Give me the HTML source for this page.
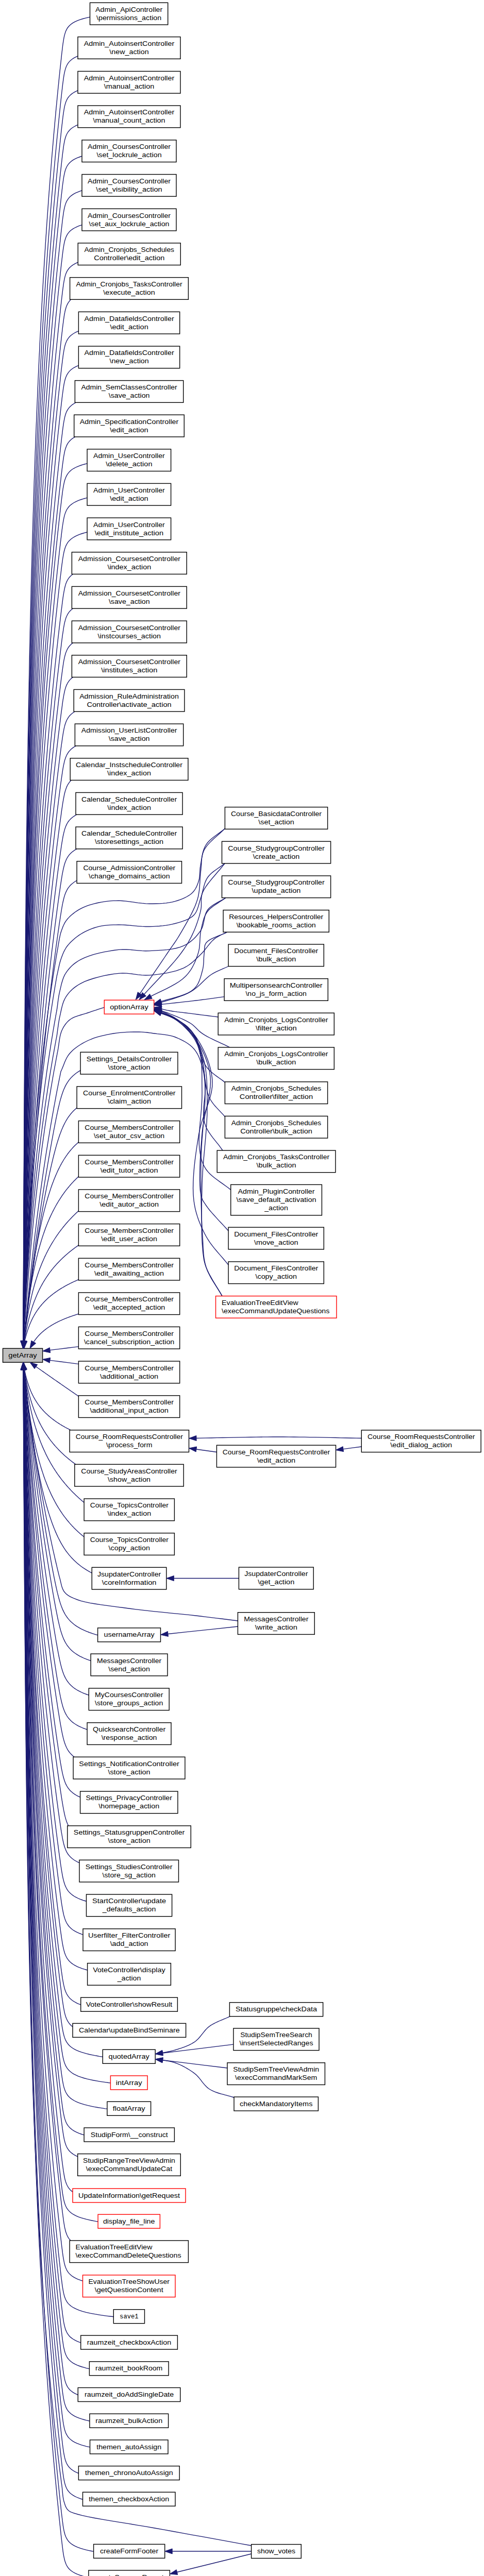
<!DOCTYPE html><html><head><meta charset="utf-8"><style>html,body{margin:0;padding:0;background:#fff;}svg{display:block}text{font-family:"Liberation Sans",sans-serif;font-size:13.5px;fill:#000}text.m{font-family:"Liberation Mono",monospace}</style></head><body>
<svg width="939" height="5021" viewBox="0 0 939 5021">
<rect width="939" height="5021" fill="#fff"/>
<g fill="none" stroke="#191970" stroke-width="1.35">
<path d="M174.5,33.2 L173.2,33.4 L170.0,34.1 L165.7,35.2 L160.6,36.5 L155.3,38.2 L150.0,40.2 L145.1,42.4 L140.7,44.9 L136.9,47.7 L133.8,50.7 L131.1,54.0 L129.0,57.6 L127.3,61.3 L126.0,65.4 L124.8,69.6 L123.9,74.1 L123.1,78.8 L122.3,83.8 L121.6,89.0 L121.0,94.4 L120.3,100.0 L119.6,105.8 L119.0,111.9 L118.3,118.1 L117.6,124.6 L116.9,131.3 L116.1,138.2 L115.4,145.3 L114.6,152.6 L113.9,160.1 L113.1,167.8 L112.3,175.8 L111.5,183.9 L110.7,192.2 L109.9,200.7 L109.0,209.4 L108.2,218.4 L107.4,227.5 L106.5,236.8 L105.7,246.3 L104.8,255.9 L103.9,265.8 L103.1,275.9 L102.2,286.1 L101.3,296.6 L100.4,307.2 L99.5,318.0 L98.7,329.0 L97.8,340.2 L96.9,351.6 L96.0,363.2 L95.1,374.9 L94.2,386.8 L93.4,398.9 L92.5,411.2 L91.6,423.7 L90.7,436.3 L89.9,449.1 L89.0,462.1 L88.1,475.3 L87.3,488.7 L86.4,502.2 L85.6,515.9 L84.8,529.8 L83.9,543.8 L83.1,558.1 L82.3,572.5 L81.5,587.0 L80.7,601.8 L79.9,616.7 L79.1,631.8 L78.3,647.1 L77.5,662.5 L76.8,678.1 L76.0,693.9 L75.3,709.8 L74.5,725.9 L73.8,742.2 L73.1,758.6 L72.4,775.3 L71.7,792.0 L71.0,809.0 L70.3,826.1 L69.6,843.4 L69.0,860.8 L68.3,878.4 L67.7,896.2 L67.1,914.1 L66.4,932.2 L65.8,950.5 L65.2,968.9 L64.7,987.5 L64.1,1006.3 L63.5,1025.2 L63.0,1044.3 L62.4,1063.5 L61.9,1082.9 L61.4,1102.5 L60.8,1122.2 L60.3,1142.1 L59.8,1162.1 L59.4,1182.3 L58.9,1202.7 L58.4,1223.2 L58.0,1243.9 L57.5,1264.7 L57.1,1285.7 L56.7,1306.8 L56.3,1328.1 L55.9,1349.6 L55.5,1371.2 L55.1,1393.0 L54.7,1414.9 L54.3,1437.0 L54.0,1459.3 L53.6,1481.7 L53.3,1504.2 L53.0,1526.9 L52.6,1549.8 L52.3,1572.8 L52.0,1596.0 L51.7,1619.3 L51.4,1642.8 L51.1,1666.4 L50.9,1690.2 L50.6,1714.2 L50.3,1738.2 L50.1,1762.5 L49.8,1786.9 L49.6,1811.4 L49.4,1836.1 L49.1,1861.0 L48.9,1886.0 L48.7,1911.1 L48.5,1936.4 L48.3,1961.9 L48.1,1987.5 L47.9,2013.2 L47.7,2039.1 L47.5,2065.2 L47.4,2091.4 L47.2,2117.7 L47.0,2144.2 L46.9,2170.9 L46.7,2197.7 L46.6,2224.6 L46.5,2251.7 L46.3,2279.0 L46.2,2306.3 L46.1,2333.9 L45.9,2361.6 L45.8,2389.4 L45.7,2417.4 L45.6,2445.5 L45.5,2473.8 L45.4,2502.2 L45.3,2530.7 L45.2,2559.4 L45.1,2588.3 L45.0,2602.8"/>
<path d="M151.0,108.9 L150.3,109.2 L148.8,109.9 L146.6,110.9 L144.1,112.2 L141.4,113.8 L138.8,115.8 L136.2,117.9 L133.9,120.4 L131.8,123.1 L130.1,126.0 L128.5,129.2 L127.3,132.6 L126.2,136.3 L125.3,140.2 L124.4,144.3 L123.7,148.7 L123.0,153.3 L122.4,158.1 L121.7,163.1 L121.1,168.4 L120.5,173.8 L119.8,179.5 L119.2,185.3 L118.5,191.4 L117.8,197.7 L117.1,204.2 L116.4,210.9 L115.7,217.8 L115.0,224.9 L114.2,232.2 L113.5,239.7 L112.7,247.4 L111.9,255.3 L111.1,263.3 L110.3,271.6 L109.5,280.1 L108.7,288.7 L107.8,297.6 L107.0,306.6 L106.2,315.8 L105.3,325.2 L104.5,334.8 L103.6,344.6 L102.7,354.5 L101.9,364.7 L101.0,375.0 L100.1,385.5 L99.3,396.2 L98.4,407.0 L97.5,418.1 L96.7,429.3 L95.8,440.7 L94.9,452.2 L94.0,464.0 L93.2,475.9 L92.3,488.0 L91.4,500.3 L90.6,512.7 L89.7,525.3 L88.9,538.1 L88.0,551.1 L87.2,564.2 L86.3,577.5 L85.5,591.0 L84.7,604.6 L83.9,618.5 L83.0,632.4 L82.2,646.6 L81.4,660.9 L80.6,675.4 L79.9,690.0 L79.1,704.8 L78.3,719.8 L77.5,735.0 L76.8,750.3 L76.0,765.8 L75.3,781.4 L74.6,797.2 L73.8,813.2 L73.1,829.3 L72.4,845.6 L71.7,862.0 L71.1,878.6 L70.4,895.4 L69.7,912.3 L69.1,929.4 L68.4,946.7 L67.8,964.1 L67.2,981.7 L66.6,999.4 L66.0,1017.3 L65.4,1035.3 L64.8,1053.5 L64.2,1071.9 L63.6,1090.4 L63.1,1109.1 L62.5,1127.9 L62.0,1146.9 L61.5,1166.0 L61.0,1185.3 L60.5,1204.8 L60.0,1224.4 L59.5,1244.2 L59.0,1264.1 L58.6,1284.2 L58.1,1304.4 L57.7,1324.8 L57.2,1345.3 L56.8,1366.0 L56.4,1386.8 L56.0,1407.8 L55.6,1428.9 L55.2,1450.2 L54.8,1471.7 L54.4,1493.2 L54.1,1515.0 L53.7,1536.9 L53.4,1558.9 L53.1,1581.1 L52.7,1603.5 L52.4,1626.0 L52.1,1648.6 L51.8,1671.4 L51.5,1694.3 L51.2,1717.4 L50.9,1740.6 L50.7,1764.0 L50.4,1787.6 L50.1,1811.2 L49.9,1835.1 L49.6,1859.0 L49.4,1883.2 L49.2,1907.4 L48.9,1931.8 L48.7,1956.4 L48.5,1981.1 L48.3,2006.0 L48.1,2031.0 L47.9,2056.1 L47.7,2081.4 L47.5,2106.8 L47.4,2132.4 L47.2,2158.1 L47.0,2184.0 L46.9,2210.0 L46.7,2236.1 L46.6,2262.4 L46.4,2288.9 L46.3,2315.5 L46.1,2342.2 L46.0,2369.1 L45.9,2396.1 L45.8,2423.2 L45.6,2450.5 L45.5,2478.0 L45.4,2505.6 L45.3,2533.3 L45.2,2561.1 L45.1,2589.2 L45.1,2602.8"/>
<path d="M151.0,175.8 L150.4,176.0 L148.9,176.7 L146.8,177.7 L144.3,178.9 L141.7,180.5 L139.0,182.4 L136.5,184.5 L134.2,186.9 L132.1,189.5 L130.3,192.4 L128.8,195.5 L127.5,198.8 L126.4,202.4 L125.4,206.2 L124.6,210.2 L123.9,214.4 L123.2,218.9 L122.5,223.6 L121.9,228.5 L121.3,233.6 L120.7,238.9 L120.0,244.4 L119.4,250.1 L118.7,256.0 L118.1,262.2 L117.4,268.5 L116.7,275.0 L116.0,281.7 L115.3,288.6 L114.5,295.7 L113.8,303.0 L113.0,310.5 L112.2,318.2 L111.5,326.0 L110.7,334.1 L109.9,342.3 L109.1,350.7 L108.2,359.3 L107.4,368.1 L106.6,377.1 L105.8,386.3 L104.9,395.6 L104.1,405.1 L103.2,414.8 L102.4,424.7 L101.5,434.7 L100.7,444.9 L99.8,455.3 L98.9,465.9 L98.1,476.6 L97.2,487.5 L96.4,498.6 L95.5,509.9 L94.6,521.3 L93.8,532.9 L92.9,544.7 L92.1,556.7 L91.2,568.8 L90.4,581.1 L89.5,593.5 L88.7,606.1 L87.8,618.9 L87.0,631.9 L86.2,645.0 L85.4,658.2 L84.5,671.7 L83.7,685.3 L82.9,699.1 L82.1,713.0 L81.3,727.1 L80.5,741.4 L79.8,755.8 L79.0,770.4 L78.2,785.1 L77.5,800.0 L76.7,815.1 L76.0,830.3 L75.3,845.7 L74.5,861.2 L73.8,876.9 L73.1,892.8 L72.4,908.8 L71.7,924.9 L71.1,941.3 L70.4,957.7 L69.7,974.4 L69.1,991.2 L68.5,1008.1 L67.8,1025.2 L67.2,1042.5 L66.6,1059.9 L66.0,1077.5 L65.4,1095.2 L64.8,1113.1 L64.3,1131.1 L63.7,1149.3 L63.1,1167.6 L62.6,1186.1 L62.1,1204.7 L61.5,1223.5 L61.0,1242.4 L60.5,1261.5 L60.0,1280.7 L59.6,1300.1 L59.1,1319.7 L58.6,1339.3 L58.2,1359.2 L57.7,1379.2 L57.3,1399.3 L56.9,1419.6 L56.5,1440.0 L56.0,1460.6 L55.6,1481.3 L55.3,1502.2 L54.9,1523.2 L54.5,1544.3 L54.1,1565.7 L53.8,1587.1 L53.4,1608.7 L53.1,1630.5 L52.8,1652.4 L52.4,1674.4 L52.1,1696.6 L51.8,1718.9 L51.5,1741.4 L51.2,1764.0 L51.0,1786.8 L50.7,1809.7 L50.4,1832.7 L50.1,1855.9 L49.9,1879.2 L49.6,1902.7 L49.4,1926.3 L49.2,1950.1 L48.9,1974.0 L48.7,1998.0 L48.5,2022.2 L48.3,2046.6 L48.1,2071.0 L47.9,2095.7 L47.7,2120.4 L47.5,2145.3 L47.3,2170.3 L47.2,2195.5 L47.0,2220.8 L46.8,2246.3 L46.7,2271.9 L46.5,2297.6 L46.4,2323.5 L46.2,2349.5 L46.1,2375.7 L45.9,2402.0 L45.8,2428.4 L45.7,2455.0 L45.6,2481.7 L45.4,2508.5 L45.3,2535.5 L45.2,2562.6 L45.1,2589.9 L45.1,2602.8"/>
<path d="M151.0,242.3 L150.4,242.6 L148.9,243.2 L146.9,244.2 L144.5,245.5 L141.9,247.0 L139.3,248.8 L136.8,250.8 L134.5,253.2 L132.4,255.7 L130.6,258.5 L129.0,261.5 L127.7,264.8 L126.6,268.3 L125.6,271.9 L124.8,275.9 L124.0,280.0 L123.3,284.3 L122.7,288.9 L122.1,293.6 L121.4,298.6 L120.8,303.8 L120.2,309.1 L119.6,314.7 L118.9,320.4 L118.3,326.4 L117.6,332.5 L116.9,338.9 L116.2,345.4 L115.5,352.1 L114.8,359.0 L114.1,366.1 L113.3,373.4 L112.6,380.9 L111.8,388.5 L111.0,396.4 L110.3,404.4 L109.5,412.6 L108.7,420.9 L107.9,429.5 L107.0,438.2 L106.2,447.1 L105.4,456.2 L104.6,465.4 L103.7,474.9 L102.9,484.5 L102.0,494.2 L101.2,504.2 L100.4,514.3 L99.5,524.6 L98.7,535.0 L97.8,545.6 L96.9,556.4 L96.1,567.4 L95.2,578.5 L94.4,589.8 L93.5,601.3 L92.7,612.9 L91.9,624.7 L91.0,636.6 L90.2,648.7 L89.3,661.0 L88.5,673.4 L87.7,686.0 L86.9,698.8 L86.0,711.7 L85.2,724.8 L84.4,738.0 L83.6,751.4 L82.8,764.9 L82.0,778.7 L81.2,792.5 L80.5,806.6 L79.7,820.7 L78.9,835.1 L78.2,849.6 L77.4,864.2 L76.7,879.0 L76.0,894.0 L75.2,909.1 L74.5,924.4 L73.8,939.8 L73.1,955.4 L72.4,971.1 L71.8,987.0 L71.1,1003.0 L70.4,1019.2 L69.8,1035.5 L69.1,1052.0 L68.5,1068.7 L67.9,1085.4 L67.3,1102.4 L66.6,1119.5 L66.0,1136.7 L65.5,1154.1 L64.9,1171.6 L64.3,1189.3 L63.8,1207.1 L63.2,1225.1 L62.7,1243.2 L62.1,1261.5 L61.6,1279.9 L61.1,1298.5 L60.6,1317.2 L60.1,1336.1 L59.6,1355.1 L59.2,1374.2 L58.7,1393.5 L58.2,1412.9 L57.8,1432.5 L57.4,1452.2 L56.9,1472.1 L56.5,1492.1 L56.1,1512.3 L55.7,1532.6 L55.3,1553.0 L54.9,1573.6 L54.6,1594.3 L54.2,1615.2 L53.8,1636.2 L53.5,1657.4 L53.1,1678.7 L52.8,1700.1 L52.5,1721.7 L52.2,1743.4 L51.9,1765.3 L51.6,1787.3 L51.3,1809.4 L51.0,1831.7 L50.7,1854.1 L50.4,1876.7 L50.2,1899.4 L49.9,1922.2 L49.7,1945.2 L49.4,1968.3 L49.2,1991.5 L48.9,2014.9 L48.7,2038.5 L48.5,2062.1 L48.3,2085.9 L48.1,2109.9 L47.9,2134.0 L47.7,2158.2 L47.5,2182.5 L47.3,2207.0 L47.1,2231.7 L46.9,2256.4 L46.8,2281.3 L46.6,2306.3 L46.5,2331.5 L46.3,2356.8 L46.2,2382.3 L46.0,2407.8 L45.9,2433.6 L45.7,2459.4 L45.6,2485.4 L45.5,2511.5 L45.3,2537.7 L45.2,2564.1 L45.1,2590.6 L45.1,2602.8"/>
<path d="M159.0,303.2 L158.2,303.4 L156.3,304.0 L153.7,305.0 L150.5,306.2 L147.2,307.7 L143.8,309.4 L140.5,311.4 L137.5,313.7 L134.8,316.2 L132.5,318.9 L130.5,321.8 L128.8,325.0 L127.4,328.4 L126.2,332.0 L125.3,335.8 L124.4,339.8 L123.6,344.1 L122.9,348.5 L122.3,353.1 L121.6,358.0 L121.0,363.0 L120.4,368.2 L119.8,373.6 L119.1,379.2 L118.5,385.0 L117.8,391.0 L117.2,397.2 L116.5,403.6 L115.8,410.1 L115.1,416.9 L114.4,423.8 L113.6,430.9 L112.9,438.1 L112.1,445.6 L111.4,453.2 L110.6,461.0 L109.8,469.0 L109.0,477.2 L108.2,485.5 L107.4,494.0 L106.6,502.7 L105.8,511.5 L105.0,520.5 L104.2,529.7 L103.3,539.1 L102.5,548.6 L101.7,558.3 L100.8,568.1 L100.0,578.1 L99.2,588.3 L98.3,598.7 L97.5,609.2 L96.6,619.9 L95.8,630.7 L95.0,641.7 L94.1,652.9 L93.3,664.2 L92.4,675.7 L91.6,687.3 L90.8,699.1 L89.9,711.1 L89.1,723.2 L88.3,735.5 L87.5,747.9 L86.7,760.5 L85.9,773.2 L85.1,786.1 L84.3,799.2 L83.5,812.4 L82.7,825.7 L81.9,839.2 L81.1,852.9 L80.4,866.7 L79.6,880.7 L78.8,894.8 L78.1,909.1 L77.4,923.5 L76.6,938.1 L75.9,952.8 L75.2,967.7 L74.5,982.7 L73.8,997.9 L73.1,1013.2 L72.4,1028.7 L71.7,1044.3 L71.1,1060.1 L70.4,1076.0 L69.8,1092.1 L69.1,1108.3 L68.5,1124.7 L67.9,1141.2 L67.3,1157.8 L66.7,1174.6 L66.1,1191.5 L65.5,1208.6 L64.9,1225.9 L64.3,1243.2 L63.8,1260.7 L63.2,1278.4 L62.7,1296.2 L62.2,1314.2 L61.6,1332.2 L61.1,1350.5 L60.6,1368.9 L60.1,1387.4 L59.7,1406.0 L59.2,1424.8 L58.7,1443.8 L58.3,1462.8 L57.8,1482.1 L57.4,1501.4 L57.0,1520.9 L56.5,1540.6 L56.1,1560.3 L55.7,1580.3 L55.3,1600.3 L55.0,1620.5 L54.6,1640.9 L54.2,1661.3 L53.9,1682.0 L53.5,1702.7 L53.2,1723.6 L52.8,1744.6 L52.5,1765.8 L52.2,1787.1 L51.9,1808.5 L51.6,1830.1 L51.3,1851.8 L51.0,1873.6 L50.7,1895.6 L50.4,1917.7 L50.2,1940.0 L49.9,1962.4 L49.6,1984.9 L49.4,2007.6 L49.1,2030.4 L48.9,2053.3 L48.7,2076.4 L48.5,2099.5 L48.2,2122.9 L48.0,2146.3 L47.8,2169.9 L47.6,2193.7 L47.4,2217.5 L47.2,2241.5 L47.1,2265.7 L46.9,2289.9 L46.7,2314.3 L46.5,2338.8 L46.4,2363.5 L46.2,2388.3 L46.1,2413.2 L45.9,2438.3 L45.8,2463.4 L45.6,2488.8 L45.5,2514.2 L45.4,2539.8 L45.2,2565.5 L45.1,2591.3 L45.1,2602.8"/>
<path d="M159.0,369.9 L158.2,370.1 L156.4,370.7 L153.8,371.6 L150.8,372.8 L147.5,374.2 L144.1,375.9 L140.9,377.9 L137.9,380.1 L135.2,382.5 L132.9,385.1 L130.9,388.0 L129.1,391.1 L127.7,394.4 L126.5,397.9 L125.5,401.6 L124.6,405.5 L123.8,409.6 L123.1,413.9 L122.5,418.4 L121.8,423.1 L121.2,428.0 L120.6,433.0 L120.0,438.3 L119.4,443.8 L118.7,449.4 L118.1,455.2 L117.4,461.2 L116.8,467.4 L116.1,473.7 L115.4,480.3 L114.7,487.0 L114.0,493.9 L113.2,500.9 L112.5,508.2 L111.7,515.6 L111.0,523.2 L110.2,530.9 L109.4,538.8 L108.7,546.9 L107.9,555.2 L107.1,563.6 L106.3,572.2 L105.5,581.0 L104.7,589.9 L103.9,599.0 L103.0,608.2 L102.2,617.6 L101.4,627.2 L100.6,636.9 L99.7,646.8 L98.9,656.9 L98.1,667.1 L97.2,677.4 L96.4,688.0 L95.6,698.6 L94.8,709.5 L93.9,720.5 L93.1,731.6 L92.3,742.9 L91.4,754.4 L90.6,766.0 L89.8,777.8 L89.0,789.7 L88.2,801.8 L87.4,814.0 L86.6,826.4 L85.8,838.9 L85.0,851.6 L84.2,864.4 L83.4,877.4 L82.6,890.5 L81.8,903.8 L81.1,917.2 L80.3,930.8 L79.6,944.5 L78.8,958.3 L78.1,972.4 L77.4,986.5 L76.6,1000.8 L75.9,1015.3 L75.2,1029.9 L74.5,1044.6 L73.8,1059.5 L73.1,1074.5 L72.4,1089.7 L71.8,1105.0 L71.1,1120.5 L70.5,1136.1 L69.8,1151.8 L69.2,1167.7 L68.6,1183.7 L67.9,1199.9 L67.3,1216.2 L66.7,1232.6 L66.1,1249.2 L65.6,1266.0 L65.0,1282.8 L64.4,1299.8 L63.9,1317.0 L63.3,1334.3 L62.8,1351.7 L62.3,1369.3 L61.7,1387.0 L61.2,1404.8 L60.7,1422.8 L60.2,1440.9 L59.8,1459.2 L59.3,1477.6 L58.8,1496.1 L58.4,1514.8 L57.9,1533.6 L57.5,1552.5 L57.0,1571.6 L56.6,1590.8 L56.2,1610.2 L55.8,1629.6 L55.4,1649.3 L55.0,1669.0 L54.7,1688.9 L54.3,1708.9 L53.9,1729.1 L53.6,1749.4 L53.2,1769.8 L52.9,1790.3 L52.5,1811.0 L52.2,1831.8 L51.9,1852.8 L51.6,1873.9 L51.3,1895.1 L51.0,1916.4 L50.7,1937.9 L50.4,1959.5 L50.2,1981.3 L49.9,2003.1 L49.6,2025.1 L49.4,2047.3 L49.1,2069.5 L48.9,2091.9 L48.7,2114.5 L48.4,2137.1 L48.2,2159.9 L48.0,2182.8 L47.8,2205.9 L47.6,2229.1 L47.4,2252.4 L47.2,2275.8 L47.0,2299.4 L46.8,2323.0 L46.6,2346.9 L46.5,2370.8 L46.3,2394.9 L46.1,2419.1 L46.0,2443.4 L45.8,2467.9 L45.7,2492.5 L45.5,2517.2 L45.4,2542.0 L45.3,2567.0 L45.1,2592.1 L45.1,2602.8"/>
<path d="M159.0,436.6 L158.3,436.8 L156.5,437.4 L154.0,438.2 L151.0,439.4 L147.8,440.8 L144.5,442.5 L141.3,444.4 L138.3,446.5 L135.6,448.8 L133.3,451.4 L131.2,454.2 L129.5,457.1 L128.0,460.3 L126.8,463.7 L125.7,467.3 L124.8,471.1 L124.0,475.1 L123.3,479.3 L122.6,483.6 L122.0,488.2 L121.4,492.9 L120.8,497.9 L120.2,503.0 L119.6,508.3 L118.9,513.7 L118.3,519.4 L117.7,525.2 L117.0,531.2 L116.4,537.4 L115.7,543.7 L115.0,550.2 L114.3,556.9 L113.6,563.8 L112.8,570.8 L112.1,578.0 L111.4,585.3 L110.6,592.8 L109.9,600.5 L109.1,608.4 L108.3,616.4 L107.5,624.6 L106.8,632.9 L106.0,641.4 L105.2,650.1 L104.4,658.9 L103.6,667.8 L102.8,677.0 L101.9,686.3 L101.1,695.7 L100.3,705.3 L99.5,715.0 L98.7,725.0 L97.9,735.0 L97.0,745.2 L96.2,755.6 L95.4,766.1 L94.6,776.8 L93.7,787.6 L92.9,798.6 L92.1,809.7 L91.3,821.0 L90.5,832.4 L89.7,843.9 L88.9,855.6 L88.1,867.5 L87.3,879.5 L86.5,891.7 L85.7,904.0 L84.9,916.4 L84.1,929.0 L83.4,941.7 L82.6,954.6 L81.8,967.6 L81.1,980.8 L80.3,994.1 L79.6,1007.6 L78.8,1021.2 L78.1,1034.9 L77.4,1048.8 L76.6,1062.8 L75.9,1077.0 L75.2,1091.3 L74.5,1105.7 L73.8,1120.3 L73.2,1135.0 L72.5,1149.9 L71.8,1164.9 L71.2,1180.0 L70.5,1195.3 L69.9,1210.7 L69.3,1226.3 L68.6,1241.9 L68.0,1257.8 L67.4,1273.7 L66.8,1289.8 L66.2,1306.1 L65.6,1322.4 L65.1,1338.9 L64.5,1355.6 L64.0,1372.4 L63.4,1389.3 L62.9,1406.3 L62.4,1423.5 L61.8,1440.8 L61.3,1458.3 L60.8,1475.8 L60.3,1493.6 L59.9,1511.4 L59.4,1529.4 L58.9,1547.5 L58.5,1565.8 L58.0,1584.1 L57.6,1602.6 L57.1,1621.3 L56.7,1640.0 L56.3,1659.0 L55.9,1678.0 L55.5,1697.2 L55.1,1716.4 L54.7,1735.9 L54.3,1755.4 L54.0,1775.1 L53.6,1794.9 L53.3,1814.9 L52.9,1834.9 L52.6,1855.1 L52.3,1875.5 L51.9,1895.9 L51.6,1916.5 L51.3,1937.2 L51.0,1958.1 L50.7,1979.0 L50.5,2000.1 L50.2,2021.4 L49.9,2042.7 L49.6,2064.2 L49.4,2085.8 L49.1,2107.5 L48.9,2129.4 L48.6,2151.4 L48.4,2173.5 L48.2,2195.7 L48.0,2218.1 L47.7,2240.6 L47.5,2263.2 L47.3,2285.9 L47.1,2308.8 L46.9,2331.8 L46.8,2354.9 L46.6,2378.1 L46.4,2401.5 L46.2,2425.0 L46.1,2448.6 L45.9,2472.3 L45.7,2496.2 L45.6,2520.1 L45.4,2544.3 L45.3,2568.5 L45.1,2592.8 L45.1,2602.8"/>
<path d="M151.3,509.2 L150.8,509.4 L149.4,509.9 L147.6,510.8 L145.4,511.9 L143.0,513.3 L140.5,514.9 L138.1,516.7 L135.8,518.7 L133.7,521.0 L131.9,523.5 L130.2,526.2 L128.8,529.1 L127.6,532.1 L126.5,535.4 L125.6,538.9 L124.8,542.6 L124.1,546.4 L123.4,550.5 L122.8,554.7 L122.2,559.1 L121.6,563.7 L121.0,568.4 L120.4,573.4 L119.8,578.5 L119.2,583.8 L118.6,589.2 L117.9,594.8 L117.3,600.6 L116.7,606.6 L116.0,612.7 L115.3,619.0 L114.6,625.5 L113.9,632.1 L113.2,638.9 L112.5,645.9 L111.8,653.0 L111.1,660.2 L110.3,667.7 L109.6,675.3 L108.8,683.0 L108.0,690.9 L107.3,699.0 L106.5,707.2 L105.7,715.5 L104.9,724.1 L104.1,732.7 L103.3,741.6 L102.5,750.5 L101.7,759.7 L100.9,768.9 L100.1,778.4 L99.3,787.9 L98.5,797.7 L97.7,807.5 L96.9,817.6 L96.1,827.7 L95.3,838.0 L94.5,848.5 L93.7,859.1 L92.8,869.9 L92.0,880.8 L91.2,891.8 L90.4,903.0 L89.6,914.3 L88.8,925.8 L88.1,937.4 L87.3,949.1 L86.5,961.0 L85.7,973.0 L84.9,985.2 L84.2,997.5 L83.4,1010.0 L82.6,1022.6 L81.9,1035.3 L81.1,1048.2 L80.4,1061.2 L79.6,1074.3 L78.9,1087.6 L78.2,1101.0 L77.5,1114.6 L76.8,1128.2 L76.0,1142.1 L75.4,1156.0 L74.7,1170.1 L74.0,1184.4 L73.3,1198.7 L72.6,1213.2 L72.0,1227.9 L71.3,1242.6 L70.7,1257.5 L70.0,1272.6 L69.4,1287.7 L68.8,1303.0 L68.2,1318.5 L67.6,1334.0 L67.0,1349.7 L66.4,1365.5 L65.8,1381.5 L65.2,1397.6 L64.7,1413.8 L64.1,1430.2 L63.6,1446.6 L63.0,1463.2 L62.5,1480.0 L62.0,1496.9 L61.5,1513.8 L61.0,1531.0 L60.5,1548.2 L60.0,1565.6 L59.5,1583.1 L59.1,1600.8 L58.6,1618.5 L58.1,1636.4 L57.7,1654.4 L57.3,1672.6 L56.8,1690.9 L56.4,1709.3 L56.0,1727.8 L55.6,1746.4 L55.2,1765.2 L54.8,1784.1 L54.4,1803.1 L54.1,1822.3 L53.7,1841.6 L53.4,1861.0 L53.0,1880.5 L52.7,1900.2 L52.3,1919.9 L52.0,1939.8 L51.7,1959.9 L51.4,1980.0 L51.1,2000.3 L50.8,2020.7 L50.5,2041.2 L50.2,2061.8 L49.9,2082.6 L49.7,2103.5 L49.4,2124.5 L49.1,2145.6 L48.9,2166.9 L48.6,2188.3 L48.4,2209.8 L48.2,2231.4 L47.9,2253.1 L47.7,2275.0 L47.5,2297.0 L47.3,2319.1 L47.1,2341.3 L46.9,2363.6 L46.7,2386.1 L46.5,2408.7 L46.3,2431.4 L46.1,2454.2 L46.0,2477.1 L45.8,2500.2 L45.6,2523.4 L45.5,2546.7 L45.3,2570.1 L45.1,2593.6 L45.1,2602.8"/>
<path d="M137.6,581.3 L137.4,581.5 L136.8,582.1 L136.0,582.9 L135.0,584.0 L134.0,585.3 L132.9,586.8 L131.8,588.6 L130.7,590.6 L129.7,592.8 L128.7,595.1 L127.9,597.7 L127.1,600.5 L126.3,603.5 L125.7,606.7 L125.0,610.0 L124.4,613.6 L123.9,617.3 L123.3,621.2 L122.8,625.3 L122.2,629.5 L121.7,633.9 L121.1,638.5 L120.6,643.3 L120.0,648.2 L119.4,653.4 L118.8,658.6 L118.2,664.1 L117.6,669.7 L117.0,675.4 L116.3,681.3 L115.7,687.4 L115.0,693.7 L114.3,700.1 L113.6,706.6 L112.9,713.3 L112.2,720.2 L111.5,727.2 L110.8,734.4 L110.0,741.7 L109.3,749.2 L108.5,756.8 L107.8,764.6 L107.0,772.6 L106.2,780.6 L105.5,788.9 L104.7,797.2 L103.9,805.8 L103.1,814.4 L102.3,823.2 L101.6,832.2 L100.8,841.3 L100.0,850.6 L99.2,859.9 L98.4,869.5 L97.6,879.2 L96.8,889.0 L96.0,898.9 L95.2,909.0 L94.4,919.3 L93.6,929.7 L92.8,940.2 L92.0,950.8 L91.2,961.6 L90.4,972.6 L89.6,983.7 L88.8,994.9 L88.1,1006.2 L87.3,1017.7 L86.5,1029.3 L85.7,1041.1 L85.0,1053.0 L84.2,1065.0 L83.4,1077.1 L82.7,1089.4 L81.9,1101.9 L81.2,1114.4 L80.5,1127.1 L79.7,1139.9 L79.0,1152.9 L78.3,1166.0 L77.6,1179.2 L76.9,1192.6 L76.2,1206.0 L75.5,1219.7 L74.8,1233.4 L74.1,1247.3 L73.4,1261.3 L72.8,1275.4 L72.1,1289.7 L71.5,1304.1 L70.8,1318.6 L70.2,1333.2 L69.6,1348.0 L69.0,1362.9 L68.3,1377.9 L67.7,1393.1 L67.1,1408.4 L66.6,1423.8 L66.0,1439.3 L65.4,1455.0 L64.8,1470.8 L64.3,1486.7 L63.7,1502.7 L63.2,1518.9 L62.7,1535.2 L62.2,1551.6 L61.6,1568.2 L61.1,1584.8 L60.6,1601.6 L60.2,1618.5 L59.7,1635.5 L59.2,1652.7 L58.7,1670.0 L58.3,1687.4 L57.8,1704.9 L57.4,1722.6 L57.0,1740.3 L56.6,1758.2 L56.1,1776.2 L55.7,1794.4 L55.3,1812.6 L54.9,1831.0 L54.6,1849.5 L54.2,1868.1 L53.8,1886.9 L53.4,1905.7 L53.1,1924.7 L52.7,1943.8 L52.4,1963.0 L52.1,1982.4 L51.7,2001.8 L51.4,2021.4 L51.1,2041.1 L50.8,2060.9 L50.5,2080.9 L50.2,2100.9 L49.9,2121.1 L49.7,2141.4 L49.4,2161.8 L49.1,2182.3 L48.9,2202.9 L48.6,2223.7 L48.4,2244.6 L48.1,2265.6 L47.9,2286.7 L47.7,2307.9 L47.4,2329.3 L47.2,2350.7 L47.0,2372.3 L46.8,2394.0 L46.6,2415.8 L46.4,2437.7 L46.2,2459.8 L46.0,2481.9 L45.8,2504.2 L45.7,2526.6 L45.5,2549.1 L45.3,2571.7 L45.2,2594.5 L45.1,2602.8"/>
<path d="M152.4,642.6 L151.9,642.9 L150.6,643.4 L148.8,644.2 L146.6,645.2 L144.2,646.5 L141.7,648.0 L139.3,649.7 L137.0,651.6 L134.8,653.8 L132.8,656.1 L131.1,658.6 L129.6,661.3 L128.3,664.2 L127.1,667.3 L126.1,670.5 L125.3,673.9 L124.5,677.6 L123.8,681.3 L123.2,685.3 L122.5,689.4 L122.0,693.7 L121.4,698.2 L120.8,702.8 L120.2,707.6 L119.6,712.5 L119.0,717.6 L118.4,722.9 L117.8,728.3 L117.2,733.9 L116.6,739.7 L115.9,745.6 L115.3,751.6 L114.6,757.8 L113.9,764.2 L113.2,770.7 L112.5,777.4 L111.8,784.2 L111.1,791.1 L110.4,798.2 L109.7,805.5 L108.9,812.9 L108.2,820.4 L107.5,828.1 L106.7,836.0 L105.9,844.0 L105.2,852.1 L104.4,860.3 L103.6,868.8 L102.9,877.3 L102.1,886.0 L101.3,894.8 L100.5,903.8 L99.7,912.9 L98.9,922.2 L98.2,931.5 L97.4,941.1 L96.6,950.7 L95.8,960.5 L95.0,970.4 L94.2,980.5 L93.4,990.7 L92.6,1001.1 L91.8,1011.5 L91.1,1022.1 L90.3,1032.9 L89.5,1043.8 L88.7,1054.8 L88.0,1065.9 L87.2,1077.2 L86.4,1088.6 L85.7,1100.1 L84.9,1111.8 L84.1,1123.6 L83.4,1135.5 L82.6,1147.5 L81.9,1159.7 L81.2,1172.0 L80.4,1184.5 L79.7,1197.0 L79.0,1209.7 L78.3,1222.5 L77.6,1235.5 L76.9,1248.6 L76.2,1261.8 L75.5,1275.1 L74.8,1288.6 L74.1,1302.1 L73.5,1315.8 L72.8,1329.7 L72.2,1343.6 L71.5,1357.7 L70.9,1371.9 L70.3,1386.3 L69.6,1400.7 L69.0,1415.3 L68.4,1430.0 L67.8,1444.8 L67.2,1459.8 L66.6,1474.8 L66.0,1490.0 L65.5,1505.3 L64.9,1520.8 L64.4,1536.3 L63.8,1552.0 L63.3,1567.8 L62.8,1583.7 L62.2,1599.8 L61.7,1615.9 L61.2,1632.2 L60.7,1648.6 L60.2,1665.1 L59.7,1681.8 L59.3,1698.5 L58.8,1715.4 L58.3,1732.4 L57.9,1749.5 L57.5,1766.8 L57.0,1784.1 L56.6,1801.6 L56.2,1819.2 L55.8,1836.9 L55.4,1854.7 L55.0,1872.6 L54.6,1890.7 L54.2,1908.9 L53.8,1927.2 L53.5,1945.6 L53.1,1964.1 L52.8,1982.7 L52.4,2001.5 L52.1,2020.4 L51.7,2039.4 L51.4,2058.5 L51.1,2077.7 L50.8,2097.0 L50.5,2116.5 L50.2,2136.0 L49.9,2155.7 L49.6,2175.5 L49.3,2195.4 L49.1,2215.4 L48.8,2235.6 L48.6,2255.8 L48.3,2276.2 L48.1,2296.7 L47.8,2317.2 L47.6,2337.9 L47.3,2358.8 L47.1,2379.7 L46.9,2400.7 L46.7,2421.9 L46.5,2443.1 L46.3,2464.5 L46.1,2486.0 L45.9,2507.6 L45.7,2529.3 L45.5,2551.2 L45.3,2573.1 L45.2,2595.1 L45.1,2602.8"/>
<path d="M152.4,709.4 L151.9,709.6 L150.7,710.1 L148.9,710.8 L146.8,711.8 L144.5,713.1 L142.0,714.5 L139.6,716.2 L137.3,718.0 L135.2,720.1 L133.2,722.3 L131.5,724.8 L129.9,727.4 L128.6,730.2 L127.4,733.1 L126.4,736.3 L125.5,739.6 L124.7,743.1 L124.0,746.7 L123.4,750.6 L122.7,754.5 L122.2,758.7 L121.6,763.0 L121.0,767.5 L120.4,772.1 L119.9,776.9 L119.3,781.8 L118.7,786.9 L118.1,792.2 L117.5,797.5 L116.9,803.1 L116.2,808.8 L115.6,814.6 L114.9,820.6 L114.3,826.8 L113.6,833.1 L112.9,839.5 L112.2,846.1 L111.5,852.8 L110.8,859.7 L110.1,866.7 L109.4,873.8 L108.7,881.1 L107.9,888.6 L107.2,896.1 L106.5,903.9 L105.7,911.7 L104.9,919.7 L104.2,927.8 L103.4,936.1 L102.7,944.5 L101.9,953.0 L101.1,961.7 L100.3,970.5 L99.6,979.4 L98.8,988.5 L98.0,997.7 L97.2,1007.0 L96.5,1016.5 L95.7,1026.1 L94.9,1035.8 L94.1,1045.7 L93.3,1055.7 L92.6,1065.8 L91.8,1076.0 L91.0,1086.4 L90.2,1096.9 L89.5,1107.5 L88.7,1118.3 L87.9,1129.2 L87.2,1140.2 L86.4,1151.3 L85.7,1162.6 L84.9,1174.0 L84.2,1185.5 L83.4,1197.2 L82.7,1208.9 L82.0,1220.8 L81.2,1232.9 L80.5,1245.0 L79.8,1257.3 L79.1,1269.7 L78.4,1282.2 L77.7,1294.8 L77.0,1307.6 L76.3,1320.4 L75.6,1333.4 L74.9,1346.6 L74.3,1359.8 L73.6,1373.2 L72.9,1386.7 L72.3,1400.3 L71.6,1414.0 L71.0,1427.8 L70.4,1441.8 L69.8,1455.9 L69.1,1470.1 L68.5,1484.4 L67.9,1498.9 L67.3,1513.4 L66.8,1528.1 L66.2,1542.9 L65.6,1557.8 L65.1,1572.8 L64.5,1588.0 L64.0,1603.3 L63.4,1618.6 L62.9,1634.1 L62.4,1649.8 L61.8,1665.5 L61.3,1681.3 L60.8,1697.3 L60.3,1713.4 L59.9,1729.6 L59.4,1745.9 L58.9,1762.3 L58.5,1778.8 L58.0,1795.5 L57.6,1812.3 L57.1,1829.1 L56.7,1846.1 L56.3,1863.2 L55.9,1880.5 L55.4,1897.8 L55.0,1915.2 L54.7,1932.8 L54.3,1950.5 L53.9,1968.3 L53.5,1986.2 L53.2,2004.2 L52.8,2022.3 L52.4,2040.5 L52.1,2058.9 L51.8,2077.3 L51.4,2095.9 L51.1,2114.6 L50.8,2133.4 L50.5,2152.3 L50.2,2171.3 L49.9,2190.4 L49.6,2209.7 L49.3,2229.0 L49.0,2248.5 L48.8,2268.0 L48.5,2287.7 L48.2,2307.5 L48.0,2327.4 L47.7,2347.4 L47.5,2367.5 L47.3,2387.7 L47.0,2408.0 L46.8,2428.5 L46.6,2449.0 L46.4,2469.7 L46.2,2490.5 L46.0,2511.3 L45.8,2532.3 L45.6,2553.4 L45.4,2574.6 L45.2,2595.9 L45.1,2602.8"/>
<path d="M147.4,781.3 L147.0,781.5 L146.1,782.0 L144.7,782.7 L143.1,783.7 L141.2,784.9 L139.3,786.3 L137.4,787.9 L135.5,789.7 L133.8,791.6 L132.2,793.8 L130.7,796.1 L129.4,798.6 L128.2,801.3 L127.2,804.2 L126.3,807.2 L125.5,810.4 L124.8,813.8 L124.1,817.3 L123.5,820.9 L122.9,824.8 L122.3,828.8 L121.8,832.9 L121.2,837.2 L120.7,841.7 L120.1,846.3 L119.5,851.0 L119.0,855.9 L118.4,861.0 L117.8,866.2 L117.2,871.5 L116.6,877.0 L115.9,882.6 L115.3,888.4 L114.7,894.3 L114.0,900.4 L113.3,906.6 L112.7,912.9 L112.0,919.4 L111.3,926.0 L110.6,932.7 L109.9,939.6 L109.2,946.6 L108.5,953.8 L107.7,961.1 L107.0,968.5 L106.3,976.0 L105.5,983.7 L104.8,991.5 L104.0,999.5 L103.3,1007.6 L102.5,1015.8 L101.8,1024.1 L101.0,1032.6 L100.2,1041.2 L99.5,1049.9 L98.7,1058.8 L97.9,1067.7 L97.2,1076.8 L96.4,1086.1 L95.6,1095.4 L94.9,1104.9 L94.1,1114.5 L93.3,1124.3 L92.6,1134.1 L91.8,1144.1 L91.0,1154.2 L90.3,1164.5 L89.5,1174.8 L88.8,1185.3 L88.0,1195.9 L87.2,1206.6 L86.5,1217.5 L85.8,1228.4 L85.0,1239.5 L84.3,1250.7 L83.5,1262.1 L82.8,1273.5 L82.1,1285.1 L81.4,1296.7 L80.6,1308.6 L79.9,1320.5 L79.2,1332.5 L78.5,1344.7 L77.8,1357.0 L77.1,1369.3 L76.5,1381.9 L75.8,1394.5 L75.1,1407.2 L74.4,1420.1 L73.8,1433.1 L73.1,1446.2 L72.5,1459.4 L71.8,1472.7 L71.2,1486.1 L70.6,1499.7 L70.0,1513.4 L69.3,1527.1 L68.7,1541.0 L68.1,1555.0 L67.5,1569.2 L67.0,1583.4 L66.4,1597.8 L65.8,1612.2 L65.2,1626.8 L64.7,1641.5 L64.1,1656.3 L63.6,1671.2 L63.1,1686.2 L62.5,1701.4 L62.0,1716.6 L61.5,1732.0 L61.0,1747.5 L60.5,1763.0 L60.0,1778.7 L59.5,1794.5 L59.1,1810.5 L58.6,1826.5 L58.2,1842.6 L57.7,1858.9 L57.3,1875.2 L56.8,1891.7 L56.4,1908.2 L56.0,1924.9 L55.6,1941.7 L55.2,1958.6 L54.8,1975.6 L54.4,1992.7 L54.0,2010.0 L53.6,2027.3 L53.2,2044.7 L52.9,2062.3 L52.5,2079.9 L52.2,2097.7 L51.8,2115.6 L51.5,2133.6 L51.1,2151.6 L50.8,2169.8 L50.5,2188.1 L50.2,2206.5 L49.9,2225.0 L49.6,2243.6 L49.3,2262.4 L49.0,2281.2 L48.7,2300.1 L48.4,2319.2 L48.2,2338.3 L47.9,2357.6 L47.7,2376.9 L47.4,2396.4 L47.2,2415.9 L46.9,2435.6 L46.7,2455.4 L46.5,2475.3 L46.2,2495.2 L46.0,2515.3 L45.8,2535.5 L45.6,2555.8 L45.4,2576.2 L45.2,2596.7 L45.1,2602.8"/>
<path d="M145.7,847.9 L145.4,848.1 L144.5,848.6 L143.3,849.3 L141.9,850.2 L140.2,851.4 L138.5,852.7 L136.8,854.2 L135.1,856.0 L133.5,857.9 L132.0,859.9 L130.6,862.2 L129.4,864.6 L128.3,867.2 L127.3,870.0 L126.4,872.9 L125.6,875.9 L124.9,879.2 L124.3,882.6 L123.6,886.1 L123.1,889.8 L122.5,893.7 L122.0,897.6 L121.4,901.8 L120.9,906.1 L120.3,910.5 L119.8,915.1 L119.2,919.8 L118.6,924.7 L118.1,929.7 L117.5,934.8 L116.9,940.1 L116.3,945.6 L115.6,951.1 L115.0,956.8 L114.4,962.6 L113.7,968.6 L113.1,974.7 L112.4,981.0 L111.7,987.3 L111.0,993.8 L110.3,1000.5 L109.6,1007.2 L108.9,1014.1 L108.2,1021.1 L107.5,1028.3 L106.8,1035.6 L106.1,1043.0 L105.3,1050.5 L104.6,1058.2 L103.9,1065.9 L103.1,1073.9 L102.4,1081.9 L101.6,1090.1 L100.9,1098.3 L100.1,1106.8 L99.4,1115.3 L98.6,1123.9 L97.8,1132.7 L97.1,1141.6 L96.3,1150.6 L95.6,1159.8 L94.8,1169.1 L94.1,1178.4 L93.3,1187.9 L92.5,1197.6 L91.8,1207.3 L91.0,1217.2 L90.3,1227.2 L89.5,1237.2 L88.8,1247.5 L88.0,1257.8 L87.3,1268.2 L86.5,1278.8 L85.8,1289.5 L85.1,1300.3 L84.3,1311.2 L83.6,1322.2 L82.9,1333.4 L82.2,1344.7 L81.4,1356.0 L80.7,1367.5 L80.0,1379.1 L79.3,1390.8 L78.6,1402.7 L77.9,1414.6 L77.3,1426.7 L76.6,1438.8 L75.9,1451.1 L75.2,1463.5 L74.6,1476.0 L73.9,1488.6 L73.3,1501.4 L72.6,1514.2 L72.0,1527.2 L71.3,1540.2 L70.7,1553.4 L70.1,1566.7 L69.5,1580.1 L68.9,1593.6 L68.3,1607.2 L67.7,1620.9 L67.1,1634.7 L66.5,1648.7 L66.0,1662.7 L65.4,1676.9 L64.8,1691.2 L64.3,1705.5 L63.7,1720.0 L63.2,1734.6 L62.7,1749.3 L62.2,1764.1 L61.7,1779.0 L61.1,1794.0 L60.6,1809.2 L60.2,1824.4 L59.7,1839.7 L59.2,1855.2 L58.7,1870.7 L58.3,1886.4 L57.8,1902.1 L57.4,1918.0 L56.9,1934.0 L56.5,1950.0 L56.1,1966.2 L55.6,1982.5 L55.2,1998.9 L54.8,2015.4 L54.4,2032.0 L54.0,2048.7 L53.6,2065.5 L53.3,2082.4 L52.9,2099.4 L52.5,2116.6 L52.2,2133.8 L51.8,2151.1 L51.5,2168.5 L51.1,2186.1 L50.8,2203.7 L50.5,2221.4 L50.2,2239.3 L49.8,2257.2 L49.5,2275.2 L49.2,2293.4 L48.9,2311.6 L48.7,2330.0 L48.4,2348.4 L48.1,2367.0 L47.8,2385.6 L47.6,2404.4 L47.3,2423.2 L47.0,2442.2 L46.8,2461.2 L46.6,2480.4 L46.3,2499.7 L46.1,2519.0 L45.9,2538.5 L45.6,2558.0 L45.4,2577.7 L45.2,2597.4 L45.2,2602.8"/>
<path d="M169.1,899.6 L168.3,899.8 L166.5,900.3 L164.0,901.0 L160.8,901.9 L157.3,903.0 L153.6,904.3 L149.9,905.8 L146.3,907.5 L143.0,909.3 L139.8,911.3 L137.0,913.5 L134.5,915.9 L132.4,918.4 L130.5,921.1 L128.9,923.9 L127.5,926.9 L126.4,930.0 L125.3,933.3 L124.5,936.7 L123.7,940.3 L123.0,944.1 L122.3,947.9 L121.7,952.0 L121.1,956.1 L120.6,960.4 L120.0,964.9 L119.4,969.5 L118.9,974.2 L118.3,979.1 L117.7,984.0 L117.1,989.2 L116.5,994.4 L115.9,999.8 L115.3,1005.4 L114.6,1011.0 L114.0,1016.8 L113.4,1022.8 L112.7,1028.8 L112.0,1035.0 L111.4,1041.3 L110.7,1047.7 L110.0,1054.3 L109.3,1061.0 L108.6,1067.8 L107.9,1074.8 L107.2,1081.8 L106.5,1089.0 L105.8,1096.3 L105.0,1103.8 L104.3,1111.3 L103.6,1119.0 L102.8,1126.8 L102.1,1134.7 L101.4,1142.8 L100.6,1150.9 L99.9,1159.2 L99.1,1167.6 L98.4,1176.1 L97.6,1184.8 L96.9,1193.5 L96.1,1202.4 L95.4,1211.4 L94.6,1220.5 L93.9,1229.7 L93.1,1239.1 L92.4,1248.5 L91.6,1258.1 L90.9,1267.8 L90.1,1277.6 L89.4,1287.5 L88.6,1297.6 L87.9,1307.7 L87.1,1318.0 L86.4,1328.3 L85.7,1338.8 L85.0,1349.4 L84.2,1360.1 L83.5,1370.9 L82.8,1381.9 L82.1,1392.9 L81.4,1404.1 L80.7,1415.3 L80.0,1426.7 L79.3,1438.2 L78.6,1449.8 L77.9,1461.5 L77.2,1473.3 L76.5,1485.2 L75.9,1497.3 L75.2,1509.4 L74.5,1521.7 L73.9,1534.0 L73.2,1546.5 L72.6,1559.0 L72.0,1571.7 L71.3,1584.5 L70.7,1597.4 L70.1,1610.4 L69.5,1623.5 L68.9,1636.7 L68.3,1650.1 L67.7,1663.5 L67.1,1677.0 L66.5,1690.7 L66.0,1704.4 L65.4,1718.2 L64.8,1732.2 L64.3,1746.3 L63.7,1760.4 L63.2,1774.7 L62.7,1789.1 L62.2,1803.5 L61.6,1818.1 L61.1,1832.8 L60.6,1847.6 L60.1,1862.5 L59.7,1877.5 L59.2,1892.6 L58.7,1907.7 L58.2,1923.0 L57.8,1938.5 L57.3,1954.0 L56.9,1969.6 L56.5,1985.3 L56.0,2001.1 L55.6,2017.0 L55.2,2033.0 L54.8,2049.1 L54.4,2065.3 L54.0,2081.6 L53.6,2098.1 L53.2,2114.6 L52.8,2131.2 L52.5,2147.9 L52.1,2164.7 L51.7,2181.7 L51.4,2198.7 L51.0,2215.8 L50.7,2233.0 L50.4,2250.3 L50.1,2267.7 L49.7,2285.2 L49.4,2302.9 L49.1,2320.6 L48.8,2338.4 L48.5,2356.3 L48.2,2374.3 L48.0,2392.4 L47.7,2410.6 L47.4,2428.9 L47.1,2447.3 L46.9,2465.8 L46.6,2484.4 L46.4,2503.1 L46.1,2521.9 L45.9,2540.8 L45.7,2559.8 L45.4,2578.8 L45.2,2598.0 L45.2,2602.8"/>
<path d="M169.1,966.2 L168.4,966.4 L166.7,966.9 L164.2,967.5 L161.2,968.4 L157.8,969.5 L154.2,970.7 L150.6,972.2 L147.0,973.8 L143.7,975.5 L140.6,977.5 L137.8,979.6 L135.2,981.8 L133.0,984.3 L131.1,986.8 L129.4,989.5 L128.0,992.4 L126.8,995.4 L125.7,998.6 L124.8,1001.9 L124.0,1005.4 L123.3,1008.9 L122.6,1012.7 L122.0,1016.5 L121.4,1020.5 L120.8,1024.7 L120.2,1029.0 L119.7,1033.4 L119.1,1037.9 L118.6,1042.6 L118.0,1047.4 L117.4,1052.3 L116.8,1057.4 L116.2,1062.6 L115.6,1067.9 L115.0,1073.3 L114.4,1078.9 L113.7,1084.6 L113.1,1090.4 L112.5,1096.3 L111.8,1102.4 L111.1,1108.6 L110.5,1114.9 L109.8,1121.3 L109.1,1127.9 L108.4,1134.6 L107.7,1141.4 L107.0,1148.3 L106.3,1155.3 L105.6,1162.4 L104.9,1169.7 L104.2,1177.1 L103.4,1184.6 L102.7,1192.2 L102.0,1199.9 L101.2,1207.8 L100.5,1215.8 L99.8,1223.8 L99.0,1232.0 L98.3,1240.3 L97.6,1248.7 L96.8,1257.3 L96.1,1265.9 L95.3,1274.7 L94.6,1283.5 L93.8,1292.5 L93.1,1301.6 L92.4,1310.8 L91.6,1320.1 L90.9,1329.6 L90.1,1339.1 L89.4,1348.7 L88.7,1358.5 L87.9,1368.3 L87.2,1378.3 L86.5,1388.4 L85.8,1398.6 L85.0,1408.9 L84.3,1419.3 L83.6,1429.8 L82.9,1440.4 L82.2,1451.1 L81.5,1461.9 L80.8,1472.9 L80.1,1483.9 L79.4,1495.1 L78.7,1506.3 L78.0,1517.7 L77.4,1529.1 L76.7,1540.7 L76.0,1552.4 L75.4,1564.1 L74.7,1576.0 L74.0,1588.0 L73.4,1600.1 L72.8,1612.3 L72.1,1624.6 L71.5,1637.0 L70.9,1649.5 L70.3,1662.1 L69.6,1674.8 L69.0,1687.6 L68.4,1700.5 L67.9,1713.5 L67.3,1726.6 L66.7,1739.8 L66.1,1753.1 L65.6,1766.5 L65.0,1780.0 L64.4,1793.6 L63.9,1807.4 L63.4,1821.2 L62.8,1835.1 L62.3,1849.1 L61.8,1863.2 L61.3,1877.4 L60.8,1891.7 L60.3,1906.1 L59.8,1920.7 L59.3,1935.3 L58.8,1950.0 L58.3,1964.8 L57.9,1979.7 L57.4,1994.7 L57.0,2009.8 L56.5,2025.0 L56.1,2040.3 L55.7,2055.7 L55.2,2071.1 L54.8,2086.7 L54.4,2102.4 L54.0,2118.2 L53.6,2134.1 L53.2,2150.0 L52.8,2166.1 L52.5,2182.3 L52.1,2198.5 L51.7,2214.9 L51.4,2231.4 L51.0,2247.9 L50.7,2264.5 L50.3,2281.3 L50.0,2298.1 L49.7,2315.1 L49.4,2332.1 L49.0,2349.2 L48.7,2366.4 L48.4,2383.7 L48.1,2401.1 L47.8,2418.6 L47.6,2436.2 L47.3,2453.9 L47.0,2471.7 L46.7,2489.6 L46.5,2507.5 L46.2,2525.6 L46.0,2543.7 L45.7,2562.0 L45.5,2580.3 L45.2,2598.8 L45.2,2602.8"/>
<path d="M169.1,1033.0 L168.4,1033.1 L166.8,1033.5 L164.4,1034.2 L161.5,1035.0 L158.2,1036.0 L154.8,1037.2 L151.2,1038.6 L147.8,1040.2 L144.5,1041.9 L141.4,1043.7 L138.5,1045.7 L136.0,1047.9 L133.7,1050.2 L131.7,1052.7 L130.0,1055.3 L128.5,1058.1 L127.2,1061.0 L126.1,1064.0 L125.2,1067.2 L124.3,1070.5 L123.6,1073.9 L122.9,1077.5 L122.3,1081.2 L121.6,1085.0 L121.1,1089.0 L120.5,1093.1 L119.9,1097.4 L119.4,1101.7 L118.8,1106.2 L118.3,1110.8 L117.7,1115.5 L117.1,1120.4 L116.5,1125.4 L116.0,1130.5 L115.4,1135.7 L114.7,1141.0 L114.1,1146.5 L113.5,1152.1 L112.9,1157.8 L112.2,1163.6 L111.6,1169.5 L110.9,1175.6 L110.3,1181.8 L109.6,1188.1 L108.9,1194.5 L108.2,1201.0 L107.5,1207.6 L106.9,1214.4 L106.2,1221.2 L105.5,1228.2 L104.7,1235.3 L104.0,1242.5 L103.3,1249.8 L102.6,1257.2 L101.9,1264.7 L101.2,1272.4 L100.4,1280.1 L99.7,1288.0 L99.0,1296.0 L98.3,1304.0 L97.5,1312.2 L96.8,1320.5 L96.1,1328.9 L95.3,1337.4 L94.6,1346.0 L93.9,1354.8 L93.1,1363.6 L92.4,1372.5 L91.7,1381.6 L90.9,1390.7 L90.2,1400.0 L89.5,1409.3 L88.7,1418.8 L88.0,1428.4 L87.3,1438.0 L86.6,1447.8 L85.9,1457.7 L85.1,1467.7 L84.4,1477.7 L83.7,1487.9 L83.0,1498.2 L82.3,1508.6 L81.6,1519.1 L80.9,1529.7 L80.2,1540.4 L79.5,1551.2 L78.9,1562.1 L78.2,1573.1 L77.5,1584.2 L76.8,1595.4 L76.2,1606.7 L75.5,1618.1 L74.9,1629.6 L74.2,1641.2 L73.6,1652.9 L72.9,1664.7 L72.3,1676.6 L71.7,1688.6 L71.1,1700.6 L70.4,1712.8 L69.8,1725.1 L69.2,1737.5 L68.6,1750.0 L68.0,1762.6 L67.4,1775.2 L66.9,1788.0 L66.3,1800.9 L65.7,1813.9 L65.2,1826.9 L64.6,1840.1 L64.1,1853.3 L63.5,1866.7 L63.0,1880.1 L62.5,1893.7 L61.9,1907.3 L61.4,1921.0 L60.9,1934.9 L60.4,1948.8 L59.9,1962.8 L59.4,1976.9 L58.9,1991.1 L58.5,2005.4 L58.0,2019.8 L57.5,2034.3 L57.1,2048.9 L56.6,2063.6 L56.2,2078.3 L55.7,2093.2 L55.3,2108.2 L54.9,2123.2 L54.5,2138.4 L54.1,2153.6 L53.6,2168.9 L53.2,2184.3 L52.9,2199.9 L52.5,2215.5 L52.1,2231.2 L51.7,2246.9 L51.4,2262.8 L51.0,2278.8 L50.6,2294.9 L50.3,2311.0 L49.9,2327.3 L49.6,2343.6 L49.3,2360.0 L49.0,2376.6 L48.6,2393.2 L48.3,2409.9 L48.0,2426.7 L47.7,2443.5 L47.4,2460.5 L47.1,2477.6 L46.8,2494.7 L46.6,2512.0 L46.3,2529.3 L46.0,2546.7 L45.8,2564.2 L45.5,2581.8 L45.2,2599.5 L45.2,2602.8"/>
<path d="M141.4,1114.4 L141.2,1114.6 L140.6,1115.0 L139.8,1115.6 L138.9,1116.4 L137.8,1117.3 L136.6,1118.5 L135.4,1119.8 L134.1,1121.2 L132.9,1122.9 L131.8,1124.6 L130.7,1126.5 L129.6,1128.6 L128.7,1130.8 L127.8,1133.1 L127.0,1135.6 L126.3,1138.2 L125.6,1141.0 L125.0,1143.8 L124.4,1146.9 L123.8,1150.0 L123.3,1153.3 L122.7,1156.7 L122.2,1160.2 L121.7,1163.8 L121.2,1167.6 L120.7,1171.5 L120.2,1175.5 L119.7,1179.6 L119.1,1183.9 L118.6,1188.2 L118.1,1192.7 L117.5,1197.3 L116.9,1202.1 L116.4,1206.9 L115.8,1211.9 L115.2,1216.9 L114.6,1222.1 L114.0,1227.4 L113.4,1232.8 L112.7,1238.3 L112.1,1244.0 L111.5,1249.7 L110.8,1255.6 L110.2,1261.5 L109.5,1267.6 L108.9,1273.8 L108.2,1280.1 L107.5,1286.5 L106.8,1293.0 L106.2,1299.6 L105.5,1306.3 L104.8,1313.2 L104.1,1320.1 L103.4,1327.1 L102.7,1334.3 L102.0,1341.5 L101.3,1348.9 L100.5,1356.3 L99.8,1363.9 L99.1,1371.5 L98.4,1379.3 L97.7,1387.2 L96.9,1395.2 L96.2,1403.2 L95.5,1411.4 L94.8,1419.7 L94.1,1428.1 L93.3,1436.5 L92.6,1445.1 L91.9,1453.8 L91.2,1462.6 L90.5,1471.4 L89.7,1480.4 L89.0,1489.5 L88.3,1498.7 L87.6,1507.9 L86.9,1517.3 L86.2,1526.8 L85.5,1536.3 L84.7,1546.0 L84.0,1555.8 L83.3,1565.6 L82.7,1575.6 L82.0,1585.6 L81.3,1595.8 L80.6,1606.0 L79.9,1616.3 L79.2,1626.8 L78.5,1637.3 L77.9,1647.9 L77.2,1658.6 L76.5,1669.5 L75.9,1680.4 L75.2,1691.4 L74.6,1702.5 L73.9,1713.6 L73.3,1724.9 L72.7,1736.3 L72.0,1747.8 L71.4,1759.3 L70.8,1771.0 L70.2,1782.7 L69.6,1794.6 L69.0,1806.5 L68.4,1818.5 L67.8,1830.7 L67.2,1842.9 L66.6,1855.2 L66.1,1867.6 L65.5,1880.0 L64.9,1892.6 L64.4,1905.3 L63.8,1918.0 L63.3,1930.9 L62.8,1943.8 L62.2,1956.8 L61.7,1970.0 L61.2,1983.2 L60.7,1996.5 L60.2,2009.8 L59.7,2023.3 L59.2,2036.9 L58.7,2050.5 L58.2,2064.3 L57.7,2078.1 L57.3,2092.0 L56.8,2106.1 L56.4,2120.2 L55.9,2134.3 L55.5,2148.6 L55.0,2163.0 L54.6,2177.4 L54.2,2192.0 L53.8,2206.6 L53.4,2221.3 L52.9,2236.1 L52.5,2251.0 L52.2,2266.0 L51.8,2281.1 L51.4,2296.2 L51.0,2311.4 L50.6,2326.8 L50.3,2342.2 L49.9,2357.7 L49.6,2373.3 L49.2,2388.9 L48.9,2404.7 L48.6,2420.5 L48.2,2436.5 L47.9,2452.5 L47.6,2468.6 L47.3,2484.8 L47.0,2501.0 L46.7,2517.4 L46.4,2533.8 L46.1,2550.3 L45.8,2567.0 L45.5,2583.7 L45.3,2600.4 L45.2,2602.8"/>
<path d="M141.4,1181.1 L141.2,1181.3 L140.7,1181.6 L139.9,1182.2 L139.0,1183.0 L137.9,1183.9 L136.8,1185.0 L135.6,1186.2 L134.4,1187.6 L133.2,1189.2 L132.1,1190.9 L131.0,1192.7 L130.0,1194.7 L129.0,1196.8 L128.1,1199.0 L127.3,1201.4 L126.6,1203.9 L125.9,1206.5 L125.2,1209.2 L124.6,1212.1 L124.1,1215.1 L123.5,1218.2 L123.0,1221.5 L122.5,1224.8 L122.0,1228.3 L121.4,1231.9 L120.9,1235.6 L120.4,1239.5 L119.9,1243.4 L119.4,1247.5 L118.9,1251.7 L118.4,1256.0 L117.8,1260.4 L117.3,1264.9 L116.7,1269.5 L116.1,1274.2 L115.6,1279.1 L115.0,1284.0 L114.4,1289.1 L113.8,1294.3 L113.2,1299.5 L112.6,1304.9 L111.9,1310.4 L111.3,1316.0 L110.7,1321.7 L110.0,1327.5 L109.4,1333.4 L108.7,1339.4 L108.1,1345.5 L107.4,1351.8 L106.7,1358.1 L106.0,1364.5 L105.4,1371.0 L104.7,1377.7 L104.0,1384.4 L103.3,1391.2 L102.6,1398.1 L101.9,1405.2 L101.2,1412.3 L100.5,1419.5 L99.8,1426.8 L99.1,1434.3 L98.4,1441.8 L97.7,1449.4 L97.0,1457.1 L96.3,1464.9 L95.5,1472.8 L94.8,1480.8 L94.1,1488.9 L93.4,1497.1 L92.7,1505.4 L92.0,1513.8 L91.3,1522.3 L90.5,1530.9 L89.8,1539.5 L89.1,1548.3 L88.4,1557.2 L87.7,1566.1 L87.0,1575.2 L86.3,1584.3 L85.6,1593.5 L84.9,1602.9 L84.2,1612.3 L83.5,1621.8 L82.8,1631.4 L82.1,1641.1 L81.4,1650.9 L80.8,1660.8 L80.1,1670.7 L79.4,1680.8 L78.7,1690.9 L78.1,1701.2 L77.4,1711.5 L76.7,1721.9 L76.1,1732.5 L75.4,1743.1 L74.8,1753.7 L74.1,1764.5 L73.5,1775.4 L72.9,1786.4 L72.2,1797.4 L71.6,1808.5 L71.0,1819.8 L70.4,1831.1 L69.8,1842.5 L69.2,1854.0 L68.6,1865.6 L68.0,1877.2 L67.4,1889.0 L66.8,1900.8 L66.2,1912.8 L65.7,1924.8 L65.1,1936.9 L64.6,1949.1 L64.0,1961.3 L63.5,1973.7 L62.9,1986.2 L62.4,1998.7 L61.9,2011.3 L61.3,2024.0 L60.8,2036.8 L60.3,2049.7 L59.8,2062.6 L59.3,2075.7 L58.8,2088.8 L58.3,2102.1 L57.8,2115.4 L57.4,2128.7 L56.9,2142.2 L56.4,2155.8 L56.0,2169.4 L55.5,2183.1 L55.1,2197.0 L54.6,2210.9 L54.2,2224.8 L53.8,2238.9 L53.4,2253.0 L52.9,2267.3 L52.5,2281.6 L52.1,2296.0 L51.7,2310.5 L51.3,2325.0 L51.0,2339.7 L50.6,2354.4 L50.2,2369.2 L49.8,2384.1 L49.5,2399.1 L49.1,2414.1 L48.8,2429.3 L48.4,2444.5 L48.1,2459.8 L47.8,2475.2 L47.4,2490.6 L47.1,2506.2 L46.8,2521.8 L46.5,2537.5 L46.2,2553.3 L45.9,2569.2 L45.6,2585.1 L45.3,2601.2 L45.3,2602.8"/>
<path d="M141.4,1247.8 L141.2,1247.9 L140.7,1248.3 L140.0,1248.9 L139.1,1249.6 L138.1,1250.5 L137.0,1251.5 L135.9,1252.7 L134.7,1254.0 L133.5,1255.5 L132.4,1257.1 L131.3,1258.9 L130.3,1260.7 L129.4,1262.7 L128.5,1264.9 L127.6,1267.1 L126.9,1269.5 L126.2,1272.0 L125.5,1274.6 L124.9,1277.4 L124.3,1280.2 L123.7,1283.2 L123.2,1286.3 L122.7,1289.5 L122.2,1292.8 L121.7,1296.3 L121.2,1299.8 L120.7,1303.5 L120.2,1307.2 L119.7,1311.1 L119.2,1315.1 L118.6,1319.2 L118.1,1323.4 L117.6,1327.7 L117.0,1332.1 L116.5,1336.6 L115.9,1341.2 L115.4,1346.0 L114.8,1350.8 L114.2,1355.7 L113.6,1360.7 L113.0,1365.9 L112.4,1371.1 L111.8,1376.4 L111.1,1381.9 L110.5,1387.4 L109.9,1393.0 L109.2,1398.8 L108.6,1404.6 L107.9,1410.5 L107.3,1416.6 L106.6,1422.7 L106.0,1428.9 L105.3,1435.2 L104.6,1441.6 L103.9,1448.2 L103.3,1454.8 L102.6,1461.5 L101.9,1468.3 L101.2,1475.1 L100.5,1482.1 L99.8,1489.2 L99.1,1496.4 L98.4,1503.6 L97.7,1511.0 L97.0,1518.4 L96.3,1526.0 L95.6,1533.6 L94.9,1541.3 L94.2,1549.2 L93.5,1557.1 L92.8,1565.1 L92.1,1573.1 L91.4,1581.3 L90.7,1589.6 L90.0,1598.0 L89.2,1606.4 L88.5,1614.9 L87.8,1623.6 L87.1,1632.3 L86.4,1641.1 L85.8,1650.0 L85.1,1659.0 L84.4,1668.0 L83.7,1677.2 L83.0,1686.4 L82.3,1695.8 L81.6,1705.2 L80.9,1714.7 L80.3,1724.3 L79.6,1734.0 L78.9,1743.7 L78.3,1753.6 L77.6,1763.5 L76.9,1773.5 L76.3,1783.7 L75.6,1793.9 L75.0,1804.1 L74.4,1814.5 L73.7,1825.0 L73.1,1835.5 L72.5,1846.1 L71.8,1856.8 L71.2,1867.6 L70.6,1878.5 L70.0,1889.4 L69.4,1900.5 L68.8,1911.6 L68.2,1922.8 L67.6,1934.1 L67.0,1945.5 L66.4,1956.9 L65.9,1968.5 L65.3,1980.1 L64.7,1991.8 L64.2,2003.6 L63.6,2015.5 L63.1,2027.4 L62.5,2039.5 L62.0,2051.6 L61.5,2063.8 L60.9,2076.0 L60.4,2088.4 L59.9,2100.9 L59.4,2113.4 L58.9,2126.0 L58.4,2138.7 L57.9,2151.4 L57.4,2164.3 L57.0,2177.2 L56.5,2190.2 L56.0,2203.3 L55.6,2216.5 L55.1,2229.7 L54.7,2243.1 L54.2,2256.5 L53.8,2270.0 L53.3,2283.5 L52.9,2297.2 L52.5,2310.9 L52.1,2324.7 L51.7,2338.6 L51.3,2352.6 L50.9,2366.6 L50.5,2380.7 L50.1,2394.9 L49.7,2409.2 L49.4,2423.6 L49.0,2438.0 L48.6,2452.5 L48.3,2467.1 L47.9,2481.8 L47.6,2496.5 L47.2,2511.3 L46.9,2526.2 L46.6,2541.2 L46.2,2556.3 L45.9,2571.4 L45.6,2586.6 L45.3,2601.9 L45.3,2602.8"/>
<path d="M141.4,1314.4 L141.2,1314.5 L140.8,1314.9 L140.1,1315.4 L139.2,1316.1 L138.3,1316.9 L137.2,1317.9 L136.1,1319.1 L135.0,1320.3 L133.9,1321.7 L132.8,1323.3 L131.7,1324.9 L130.7,1326.7 L129.7,1328.6 L128.8,1330.6 L128.0,1332.8 L127.2,1335.0 L126.5,1337.4 L125.8,1339.9 L125.2,1342.5 L124.6,1345.3 L124.0,1348.1 L123.5,1351.0 L123.0,1354.1 L122.4,1357.2 L121.9,1360.5 L121.4,1363.9 L120.9,1367.4 L120.5,1370.9 L120.0,1374.6 L119.5,1378.4 L118.9,1382.3 L118.4,1386.3 L117.9,1390.4 L117.4,1394.6 L116.8,1398.9 L116.3,1403.3 L115.7,1407.8 L115.2,1412.4 L114.6,1417.1 L114.0,1421.8 L113.4,1426.7 L112.8,1431.7 L112.2,1436.8 L111.6,1442.0 L111.0,1447.2 L110.4,1452.6 L109.8,1458.0 L109.1,1463.6 L108.5,1469.2 L107.9,1475.0 L107.2,1480.8 L106.6,1486.7 L105.9,1492.7 L105.2,1498.8 L104.6,1505.0 L103.9,1511.3 L103.2,1517.7 L102.6,1524.1 L101.9,1530.7 L101.2,1537.3 L100.5,1544.1 L99.8,1550.9 L99.1,1557.8 L98.4,1564.8 L97.8,1571.9 L97.1,1579.1 L96.4,1586.3 L95.7,1593.7 L95.0,1601.1 L94.3,1608.6 L93.6,1616.2 L92.9,1623.9 L92.2,1631.7 L91.5,1639.6 L90.8,1647.5 L90.1,1655.6 L89.4,1663.7 L88.7,1671.9 L88.0,1680.2 L87.3,1688.6 L86.6,1697.0 L85.9,1705.6 L85.2,1714.2 L84.6,1722.9 L83.9,1731.7 L83.2,1740.6 L82.5,1749.5 L81.8,1758.6 L81.2,1767.7 L80.5,1776.9 L79.8,1786.2 L79.1,1795.6 L78.5,1805.0 L77.8,1814.6 L77.2,1824.2 L76.5,1833.9 L75.9,1843.7 L75.2,1853.5 L74.6,1863.5 L73.9,1873.5 L73.3,1883.6 L72.7,1893.8 L72.0,1904.1 L71.4,1914.4 L70.8,1924.8 L70.2,1935.3 L69.6,1945.9 L69.0,1956.6 L68.4,1967.3 L67.8,1978.1 L67.2,1989.0 L66.6,2000.0 L66.0,2011.1 L65.5,2022.2 L64.9,2033.4 L64.3,2044.7 L63.8,2056.1 L63.2,2067.6 L62.7,2079.1 L62.1,2090.7 L61.6,2102.4 L61.1,2114.1 L60.5,2126.0 L60.0,2137.9 L59.5,2149.9 L59.0,2161.9 L58.5,2174.1 L58.0,2186.3 L57.5,2198.6 L57.0,2211.0 L56.5,2223.4 L56.1,2236.0 L55.6,2248.6 L55.1,2261.3 L54.7,2274.0 L54.2,2286.8 L53.8,2299.8 L53.3,2312.7 L52.9,2325.8 L52.5,2338.9 L52.0,2352.1 L51.6,2365.4 L51.2,2378.8 L50.8,2392.2 L50.4,2405.7 L50.0,2419.3 L49.6,2433.0 L49.2,2446.7 L48.8,2460.5 L48.5,2474.4 L48.1,2488.4 L47.7,2502.4 L47.4,2516.5 L47.0,2530.7 L46.7,2544.9 L46.3,2559.3 L46.0,2573.7 L45.7,2588.1 L45.3,2602.7 L45.3,2602.8"/>
<path d="M145.2,1381.1 L145.0,1381.2 L144.4,1381.6 L143.6,1382.1 L142.7,1382.7 L141.5,1383.5 L140.3,1384.5 L139.0,1385.5 L137.6,1386.7 L136.3,1388.1 L134.9,1389.5 L133.6,1391.1 L132.4,1392.8 L131.3,1394.6 L130.2,1396.5 L129.2,1398.5 L128.2,1400.7 L127.4,1403.0 L126.6,1405.3 L125.8,1407.8 L125.2,1410.4 L124.5,1413.1 L123.9,1415.9 L123.4,1418.8 L122.8,1421.7 L122.3,1424.8 L121.8,1428.0 L121.3,1431.3 L120.8,1434.7 L120.3,1438.2 L119.8,1441.8 L119.2,1445.5 L118.7,1449.3 L118.2,1453.2 L117.7,1457.2 L117.2,1461.3 L116.6,1465.4 L116.1,1469.7 L115.6,1474.1 L115.0,1478.5 L114.4,1483.0 L113.9,1487.7 L113.3,1492.4 L112.7,1497.2 L112.1,1502.1 L111.5,1507.1 L110.9,1512.2 L110.3,1517.4 L109.7,1522.6 L109.0,1528.0 L108.4,1533.4 L107.8,1539.0 L107.1,1544.6 L106.5,1550.3 L105.9,1556.1 L105.2,1562.0 L104.5,1567.9 L103.9,1574.0 L103.2,1580.1 L102.6,1586.3 L101.9,1592.6 L101.2,1599.0 L100.5,1605.5 L99.9,1612.0 L99.2,1618.7 L98.5,1625.4 L97.8,1632.2 L97.1,1639.1 L96.4,1646.1 L95.8,1653.1 L95.1,1660.3 L94.4,1667.5 L93.7,1674.8 L93.0,1682.2 L92.3,1689.6 L91.6,1697.2 L90.9,1704.8 L90.2,1712.5 L89.5,1720.3 L88.9,1728.2 L88.2,1736.1 L87.5,1744.1 L86.8,1752.2 L86.1,1760.4 L85.4,1768.7 L84.7,1777.0 L84.1,1785.5 L83.4,1794.0 L82.7,1802.5 L82.0,1811.2 L81.4,1819.9 L80.7,1828.8 L80.0,1837.7 L79.4,1846.6 L78.7,1855.7 L78.0,1864.8 L77.4,1874.0 L76.7,1883.3 L76.1,1892.6 L75.4,1902.1 L74.8,1911.6 L74.2,1921.2 L73.5,1930.8 L72.9,1940.6 L72.3,1950.4 L71.6,1960.3 L71.0,1970.2 L70.4,1980.3 L69.8,1990.4 L69.2,2000.6 L68.6,2010.9 L68.0,2021.2 L67.4,2031.6 L66.8,2042.1 L66.2,2052.7 L65.7,2063.3 L65.1,2074.0 L64.5,2084.8 L64.0,2095.7 L63.4,2106.6 L62.8,2117.6 L62.3,2128.7 L61.7,2139.9 L61.2,2151.1 L60.7,2162.4 L60.1,2173.8 L59.6,2185.3 L59.1,2196.8 L58.6,2208.4 L58.1,2220.0 L57.6,2231.8 L57.1,2243.6 L56.6,2255.5 L56.1,2267.5 L55.6,2279.5 L55.1,2291.6 L54.7,2303.8 L54.2,2316.0 L53.8,2328.3 L53.3,2340.7 L52.8,2353.2 L52.4,2365.7 L52.0,2378.3 L51.5,2391.0 L51.1,2403.7 L50.7,2416.6 L50.3,2429.5 L49.9,2442.4 L49.5,2455.4 L49.1,2468.5 L48.7,2481.7 L48.3,2495.0 L47.9,2508.3 L47.5,2521.7 L47.1,2535.1 L46.8,2548.6 L46.4,2562.2 L46.0,2575.9 L45.7,2589.6 L45.4,2602.8"/>
<path d="M147.4,1447.7 L147.2,1447.8 L146.6,1448.1 L145.8,1448.6 L144.7,1449.2 L143.5,1450.0 L142.2,1450.9 L140.8,1451.9 L139.4,1453.0 L137.9,1454.3 L136.5,1455.7 L135.1,1457.1 L133.8,1458.7 L132.5,1460.5 L131.3,1462.3 L130.2,1464.2 L129.1,1466.2 L128.2,1468.4 L127.3,1470.6 L126.5,1473.0 L125.7,1475.4 L125.0,1477.9 L124.4,1480.6 L123.8,1483.3 L123.2,1486.2 L122.6,1489.1 L122.1,1492.1 L121.6,1495.2 L121.1,1498.5 L120.6,1501.8 L120.1,1505.2 L119.6,1508.7 L119.1,1512.2 L118.6,1515.9 L118.0,1519.7 L117.5,1523.5 L117.0,1527.5 L116.5,1531.5 L115.9,1535.6 L115.4,1539.9 L114.8,1544.2 L114.3,1548.5 L113.7,1553.0 L113.2,1557.6 L112.6,1562.2 L112.0,1566.9 L111.4,1571.7 L110.8,1576.6 L110.2,1581.6 L109.6,1586.7 L109.0,1591.8 L108.4,1597.1 L107.7,1602.4 L107.1,1607.8 L106.5,1613.3 L105.8,1618.8 L105.2,1624.5 L104.5,1630.2 L103.9,1636.0 L103.2,1641.9 L102.6,1647.8 L101.9,1653.9 L101.3,1660.0 L100.6,1666.2 L99.9,1672.5 L99.3,1678.8 L98.6,1685.3 L97.9,1691.8 L97.2,1698.4 L96.5,1705.1 L95.9,1711.8 L95.2,1718.6 L94.5,1725.6 L93.8,1732.5 L93.1,1739.6 L92.5,1746.7 L91.8,1754.0 L91.1,1761.2 L90.4,1768.6 L89.7,1776.1 L89.0,1783.6 L88.4,1791.2 L87.7,1798.8 L87.0,1806.6 L86.3,1814.4 L85.6,1822.3 L85.0,1830.3 L84.3,1838.3 L83.6,1846.4 L82.9,1854.6 L82.3,1862.9 L81.6,1871.2 L80.9,1879.7 L80.3,1888.1 L79.6,1896.7 L78.9,1905.3 L78.3,1914.0 L77.6,1922.8 L77.0,1931.7 L76.3,1940.6 L75.7,1949.6 L75.0,1958.7 L74.4,1967.8 L73.8,1977.0 L73.1,1986.3 L72.5,1995.7 L71.9,2005.1 L71.3,2014.6 L70.6,2024.2 L70.0,2033.8 L69.4,2043.5 L68.8,2053.3 L68.2,2063.2 L67.6,2073.1 L67.0,2083.1 L66.4,2093.2 L65.8,2103.3 L65.3,2113.5 L64.7,2123.8 L64.1,2134.1 L63.5,2144.6 L63.0,2155.1 L62.4,2165.6 L61.9,2176.2 L61.3,2186.9 L60.8,2197.7 L60.2,2208.5 L59.7,2219.4 L59.2,2230.4 L58.7,2241.4 L58.1,2252.6 L57.6,2263.7 L57.1,2275.0 L56.6,2286.3 L56.1,2297.7 L55.6,2309.1 L55.1,2320.7 L54.7,2332.2 L54.2,2343.9 L53.7,2355.6 L53.2,2367.4 L52.8,2379.3 L52.3,2391.2 L51.9,2403.2 L51.4,2415.3 L51.0,2427.4 L50.6,2439.6 L50.1,2451.8 L49.7,2464.2 L49.3,2476.6 L48.9,2489.0 L48.5,2501.6 L48.1,2514.1 L47.7,2526.8 L47.3,2539.5 L46.9,2552.3 L46.5,2565.2 L46.1,2578.1 L45.7,2591.1 L45.4,2602.8"/>
<path d="M138.2,1514.4 L138.1,1514.5 L137.8,1514.8 L137.3,1515.3 L136.8,1515.8 L136.2,1516.6 L135.4,1517.4 L134.7,1518.3 L133.9,1519.4 L133.1,1520.6 L132.2,1521.9 L131.4,1523.3 L130.6,1524.8 L129.8,1526.4 L129.1,1528.1 L128.4,1530.0 L127.7,1531.9 L127.0,1533.9 L126.4,1536.0 L125.8,1538.2 L125.2,1540.5 L124.7,1542.9 L124.2,1545.4 L123.7,1548.0 L123.2,1550.7 L122.7,1553.4 L122.2,1556.3 L121.7,1559.2 L121.3,1562.3 L120.8,1565.4 L120.3,1568.6 L119.8,1571.9 L119.3,1575.3 L118.9,1578.7 L118.4,1582.3 L117.9,1585.9 L117.4,1589.6 L116.8,1593.4 L116.3,1597.3 L115.8,1601.3 L115.3,1605.4 L114.7,1609.5 L114.2,1613.7 L113.6,1618.0 L113.0,1622.4 L112.5,1626.8 L111.9,1631.4 L111.3,1636.0 L110.7,1640.7 L110.1,1645.5 L109.5,1650.3 L108.9,1655.2 L108.3,1660.3 L107.7,1665.3 L107.1,1670.5 L106.5,1675.8 L105.8,1681.1 L105.2,1686.5 L104.6,1691.9 L103.9,1697.5 L103.3,1703.1 L102.6,1708.8 L102.0,1714.6 L101.3,1720.4 L100.7,1726.4 L100.0,1732.4 L99.3,1738.4 L98.7,1744.6 L98.0,1750.8 L97.3,1757.1 L96.7,1763.5 L96.0,1769.9 L95.3,1776.4 L94.7,1783.0 L94.0,1789.7 L93.3,1796.4 L92.6,1803.2 L91.9,1810.1 L91.3,1817.0 L90.6,1824.0 L89.9,1831.1 L89.2,1838.3 L88.6,1845.5 L87.9,1852.8 L87.2,1860.2 L86.5,1867.6 L85.9,1875.2 L85.2,1882.7 L84.5,1890.4 L83.8,1898.1 L83.2,1905.9 L82.5,1913.8 L81.8,1921.7 L81.2,1929.7 L80.5,1937.8 L79.8,1945.9 L79.2,1954.2 L78.5,1962.4 L77.9,1970.8 L77.2,1979.2 L76.6,1987.7 L75.9,1996.2 L75.3,2004.9 L74.6,2013.5 L74.0,2022.3 L73.4,2031.1 L72.7,2040.0 L72.1,2049.0 L71.5,2058.0 L70.9,2067.1 L70.2,2076.3 L69.6,2085.5 L69.0,2094.8 L68.4,2104.1 L67.8,2113.6 L67.2,2123.1 L66.6,2132.6 L66.0,2142.2 L65.4,2151.9 L64.9,2161.7 L64.3,2171.5 L63.7,2181.4 L63.1,2191.4 L62.6,2201.4 L62.0,2211.5 L61.5,2221.6 L60.9,2231.8 L60.4,2242.1 L59.8,2252.5 L59.3,2262.9 L58.7,2273.4 L58.2,2283.9 L57.7,2294.5 L57.2,2305.2 L56.7,2315.9 L56.1,2326.7 L55.6,2337.6 L55.1,2348.5 L54.6,2359.5 L54.2,2370.5 L53.7,2381.7 L53.2,2392.8 L52.7,2404.1 L52.2,2415.4 L51.8,2426.8 L51.3,2438.2 L50.9,2449.7 L50.4,2461.3 L50.0,2472.9 L49.5,2484.6 L49.1,2496.3 L48.7,2508.2 L48.2,2520.0 L47.8,2532.0 L47.4,2544.0 L47.0,2556.0 L46.6,2568.2 L46.2,2580.4 L45.8,2592.6 L45.5,2602.8"/>
<path d="M149.0,1581.1 L148.8,1581.2 L148.3,1581.5 L147.5,1581.9 L146.5,1582.5 L145.4,1583.1 L144.2,1583.9 L142.8,1584.8 L141.4,1585.8 L140.0,1586.9 L138.6,1588.1 L137.1,1589.5 L135.8,1590.9 L134.4,1592.4 L133.1,1594.0 L131.9,1595.7 L130.8,1597.5 L129.7,1599.4 L128.8,1601.4 L127.8,1603.5 L127.0,1605.6 L126.2,1607.9 L125.4,1610.2 L124.8,1612.7 L124.1,1615.2 L123.5,1617.8 L122.9,1620.5 L122.3,1623.2 L121.8,1626.1 L121.3,1629.0 L120.8,1632.0 L120.2,1635.1 L119.7,1638.3 L119.2,1641.5 L118.7,1644.9 L118.2,1648.3 L117.7,1651.8 L117.2,1655.4 L116.7,1659.0 L116.2,1662.7 L115.7,1666.6 L115.1,1670.4 L114.6,1674.4 L114.1,1678.4 L113.5,1682.5 L113.0,1686.7 L112.4,1691.0 L111.8,1695.3 L111.2,1699.7 L110.7,1704.2 L110.1,1708.8 L109.5,1713.4 L108.9,1718.1 L108.3,1722.9 L107.7,1727.8 L107.1,1732.7 L106.5,1737.7 L105.8,1742.8 L105.2,1747.9 L104.6,1753.1 L104.0,1758.4 L103.3,1763.8 L102.7,1769.2 L102.0,1774.7 L101.4,1780.2 L100.7,1785.9 L100.1,1791.6 L99.4,1797.4 L98.8,1803.2 L98.1,1809.1 L97.5,1815.1 L96.8,1821.1 L96.1,1827.3 L95.5,1833.5 L94.8,1839.7 L94.1,1846.0 L93.5,1852.4 L92.8,1858.9 L92.1,1865.4 L91.5,1872.0 L90.8,1878.7 L90.1,1885.4 L89.4,1892.2 L88.8,1899.1 L88.1,1906.0 L87.4,1913.0 L86.8,1920.0 L86.1,1927.2 L85.4,1934.4 L84.7,1941.6 L84.1,1948.9 L83.4,1956.3 L82.7,1963.8 L82.1,1971.3 L81.4,1978.9 L80.8,1986.5 L80.1,1994.3 L79.4,2002.0 L78.8,2009.9 L78.1,2017.8 L77.5,2025.8 L76.8,2033.8 L76.2,2041.9 L75.5,2050.1 L74.9,2058.3 L74.3,2066.6 L73.6,2074.9 L73.0,2083.3 L72.3,2091.8 L71.7,2100.4 L71.1,2109.0 L70.5,2117.6 L69.9,2126.4 L69.2,2135.2 L68.6,2144.0 L68.0,2153.0 L67.4,2161.9 L66.8,2171.0 L66.2,2180.1 L65.6,2189.3 L65.0,2198.5 L64.4,2207.8 L63.9,2217.1 L63.3,2226.5 L62.7,2236.0 L62.1,2245.6 L61.6,2255.2 L61.0,2264.8 L60.4,2274.5 L59.9,2284.3 L59.3,2294.2 L58.8,2304.1 L58.3,2314.0 L57.7,2324.1 L57.2,2334.1 L56.7,2344.3 L56.1,2354.5 L55.6,2364.8 L55.1,2375.1 L54.6,2385.5 L54.1,2395.9 L53.6,2406.4 L53.1,2417.0 L52.6,2427.6 L52.1,2438.3 L51.6,2449.0 L51.2,2459.8 L50.7,2470.7 L50.2,2481.6 L49.8,2492.6 L49.3,2503.7 L48.9,2514.8 L48.4,2525.9 L48.0,2537.1 L47.5,2548.4 L47.1,2559.7 L46.7,2571.1 L46.2,2582.6 L45.8,2594.1 L45.5,2602.8"/>
<path d="M149.0,1647.7 L148.8,1647.8 L148.3,1648.1 L147.6,1648.5 L146.7,1649.0 L145.7,1649.6 L144.5,1650.3 L143.3,1651.2 L142.0,1652.1 L140.6,1653.2 L139.2,1654.3 L137.9,1655.5 L136.5,1656.9 L135.2,1658.3 L133.9,1659.8 L132.7,1661.4 L131.6,1663.1 L130.5,1664.8 L129.5,1666.7 L128.5,1668.6 L127.7,1670.7 L126.8,1672.8 L126.0,1675.0 L125.3,1677.2 L124.6,1679.6 L124.0,1682.0 L123.4,1684.5 L122.8,1687.1 L122.2,1689.8 L121.7,1692.5 L121.1,1695.3 L120.6,1698.2 L120.1,1701.2 L119.6,1704.3 L119.1,1707.4 L118.6,1710.6 L118.1,1713.8 L117.6,1717.2 L117.1,1720.6 L116.6,1724.1 L116.1,1727.7 L115.6,1731.3 L115.0,1735.0 L114.5,1738.8 L114.0,1742.6 L113.4,1746.5 L112.9,1750.5 L112.3,1754.6 L111.8,1758.7 L111.2,1762.9 L110.6,1767.2 L110.1,1771.5 L109.5,1775.9 L108.9,1780.4 L108.3,1784.9 L107.7,1789.6 L107.1,1794.2 L106.5,1799.0 L105.9,1803.8 L105.3,1808.7 L104.6,1813.6 L104.0,1818.6 L103.4,1823.7 L102.8,1828.8 L102.1,1834.0 L101.5,1839.3 L100.8,1844.6 L100.2,1850.1 L99.6,1855.5 L98.9,1861.1 L98.3,1866.7 L97.6,1872.3 L97.0,1878.0 L96.3,1883.8 L95.6,1889.7 L95.0,1895.6 L94.3,1901.6 L93.7,1907.6 L93.0,1913.7 L92.3,1919.9 L91.7,1926.1 L91.0,1932.4 L90.3,1938.8 L89.7,1945.2 L89.0,1951.7 L88.3,1958.2 L87.7,1964.9 L87.0,1971.5 L86.3,1978.3 L85.7,1985.0 L85.0,1991.9 L84.3,1998.8 L83.7,2005.8 L83.0,2012.8 L82.3,2019.9 L81.7,2027.1 L81.0,2034.3 L80.4,2041.6 L79.7,2048.9 L79.0,2056.3 L78.4,2063.8 L77.7,2071.3 L77.1,2078.9 L76.4,2086.5 L75.8,2094.2 L75.1,2102.0 L74.5,2109.8 L73.9,2117.7 L73.2,2125.6 L72.6,2133.6 L72.0,2141.7 L71.3,2149.8 L70.7,2157.9 L70.1,2166.2 L69.5,2174.5 L68.8,2182.8 L68.2,2191.2 L67.6,2199.7 L67.0,2208.2 L66.4,2216.8 L65.8,2225.4 L65.2,2234.1 L64.6,2242.8 L64.0,2251.7 L63.4,2260.5 L62.8,2269.4 L62.3,2278.4 L61.7,2287.5 L61.1,2296.6 L60.5,2305.7 L60.0,2314.9 L59.4,2324.2 L58.9,2333.5 L58.3,2342.9 L57.7,2352.3 L57.2,2361.8 L56.7,2371.4 L56.1,2381.0 L55.6,2390.6 L55.1,2400.4 L54.5,2410.1 L54.0,2420.0 L53.5,2429.9 L53.0,2439.8 L52.5,2449.8 L52.0,2459.9 L51.5,2470.0 L51.0,2480.1 L50.5,2490.4 L50.0,2500.6 L49.5,2511.0 L49.1,2521.3 L48.6,2531.8 L48.1,2542.3 L47.7,2552.8 L47.2,2563.4 L46.8,2574.1 L46.3,2584.8 L45.9,2595.6 L45.6,2602.8"/>
<path d="M149.1,1709.0 L148.9,1709.1 L148.5,1709.4 L147.8,1709.8 L147.0,1710.2 L146.1,1710.8 L145.0,1711.5 L143.8,1712.3 L142.5,1713.2 L141.3,1714.2 L139.9,1715.2 L138.6,1716.4 L137.3,1717.6 L136.0,1719.0 L134.8,1720.4 L133.6,1721.9 L132.4,1723.4 L131.3,1725.1 L130.3,1726.8 L129.3,1728.7 L128.4,1730.6 L127.5,1732.5 L126.7,1734.6 L125.9,1736.7 L125.2,1738.9 L124.5,1741.2 L123.9,1743.5 L123.3,1746.0 L122.7,1748.5 L122.1,1751.0 L121.6,1753.7 L121.0,1756.4 L120.5,1759.2 L120.0,1762.0 L119.5,1765.0 L119.0,1767.9 L118.5,1771.0 L118.0,1774.1 L117.5,1777.3 L117.0,1780.6 L116.5,1784.0 L116.0,1787.4 L115.4,1790.8 L114.9,1794.4 L114.4,1798.0 L113.9,1801.6 L113.3,1805.4 L112.8,1809.2 L112.2,1813.0 L111.7,1817.0 L111.1,1821.0 L110.6,1825.0 L110.0,1829.2 L109.4,1833.4 L108.8,1837.6 L108.3,1841.9 L107.7,1846.3 L107.1,1850.7 L106.5,1855.3 L105.9,1859.8 L105.3,1864.5 L104.7,1869.1 L104.0,1873.9 L103.4,1878.7 L102.8,1883.6 L102.2,1888.5 L101.5,1893.5 L100.9,1898.6 L100.3,1903.7 L99.6,1908.9 L99.0,1914.2 L98.4,1919.5 L97.7,1924.8 L97.1,1930.2 L96.4,1935.7 L95.8,1941.3 L95.1,1946.9 L94.4,1952.5 L93.8,1958.3 L93.1,1964.0 L92.5,1969.9 L91.8,1975.8 L91.2,1981.7 L90.5,1987.7 L89.8,1993.8 L89.2,1999.9 L88.5,2006.1 L87.8,2012.4 L87.2,2018.7 L86.5,2025.1 L85.8,2031.5 L85.2,2038.0 L84.5,2044.5 L83.9,2051.1 L83.2,2057.7 L82.5,2064.4 L81.9,2071.2 L81.2,2078.0 L80.6,2084.9 L79.9,2091.8 L79.2,2098.8 L78.6,2105.8 L77.9,2112.9 L77.3,2120.1 L76.6,2127.3 L76.0,2134.6 L75.3,2141.9 L74.7,2149.3 L74.0,2156.7 L73.4,2164.2 L72.8,2171.7 L72.1,2179.3 L71.5,2187.0 L70.9,2194.7 L70.2,2202.5 L69.6,2210.3 L69.0,2218.2 L68.4,2226.1 L67.7,2234.1 L67.1,2242.1 L66.5,2250.2 L65.9,2258.3 L65.3,2266.5 L64.7,2274.8 L64.1,2283.1 L63.5,2291.5 L62.9,2299.9 L62.3,2308.3 L61.7,2316.9 L61.1,2325.4 L60.6,2334.1 L60.0,2342.7 L59.4,2351.5 L58.8,2360.3 L58.3,2369.1 L57.7,2378.0 L57.2,2386.9 L56.6,2395.9 L56.1,2405.0 L55.5,2414.1 L55.0,2423.3 L54.4,2432.5 L53.9,2441.7 L53.4,2451.0 L52.8,2460.4 L52.3,2469.8 L51.8,2479.3 L51.3,2488.8 L50.8,2498.4 L50.3,2508.0 L49.8,2517.7 L49.3,2527.4 L48.8,2537.2 L48.3,2547.0 L47.8,2556.9 L47.3,2566.9 L46.9,2576.8 L46.4,2586.9 L45.9,2597.0 L45.7,2602.8"/>
<path d="M156.1,2077.7 L156.0,2077.7 L155.7,2077.9 L155.4,2078.1 L154.9,2078.4 L154.3,2078.7 L153.6,2079.1 L152.9,2079.6 L152.1,2080.1 L151.2,2080.7 L150.2,2081.3 L149.2,2082.0 L148.2,2082.7 L147.1,2083.5 L146.0,2084.4 L144.9,2085.3 L143.8,2086.2 L142.7,2087.2 L141.5,2088.2 L140.4,2089.3 L139.3,2090.4 L138.1,2091.6 L137.0,2092.8 L135.9,2094.1 L134.9,2095.4 L133.8,2096.7 L132.8,2098.1 L131.8,2099.6 L130.8,2101.1 L129.9,2102.6 L128.9,2104.2 L128.0,2105.8 L127.1,2107.4 L126.3,2109.1 L125.5,2110.9 L124.7,2112.6 L123.9,2114.5 L123.1,2116.3 L122.4,2118.2 L121.7,2120.2 L121.0,2122.2 L120.3,2124.2 L119.7,2126.2 L119.0,2128.3 L118.4,2130.5 L117.7,2132.7 L117.1,2134.9 L116.5,2137.1 L115.9,2139.4 L115.3,2141.8 L114.8,2144.2 L114.2,2146.6 L113.6,2149.0 L113.0,2151.5 L112.5,2154.0 L111.9,2156.6 L111.4,2159.2 L110.8,2161.8 L110.2,2164.5 L109.7,2167.2 L109.1,2170.0 L108.5,2172.8 L108.0,2175.6 L107.4,2178.5 L106.8,2181.4 L106.3,2184.3 L105.7,2187.3 L105.1,2190.3 L104.5,2193.3 L103.9,2196.4 L103.4,2199.5 L102.8,2202.7 L102.2,2205.9 L101.6,2209.1 L101.0,2212.3 L100.4,2215.6 L99.8,2219.0 L99.2,2222.3 L98.6,2225.7 L98.0,2229.2 L97.3,2232.6 L96.7,2236.1 L96.1,2239.7 L95.5,2243.2 L94.8,2246.8 L94.2,2250.5 L93.6,2254.2 L92.9,2257.9 L92.3,2261.6 L91.7,2265.4 L91.0,2269.2 L90.4,2273.1 L89.7,2277.0 L89.1,2280.9 L88.4,2284.8 L87.8,2288.8 L87.1,2292.8 L86.5,2296.9 L85.8,2301.0 L85.2,2305.1 L84.5,2309.2 L83.8,2313.4 L83.2,2317.6 L82.5,2321.9 L81.8,2326.2 L81.2,2330.5 L80.5,2334.8 L79.8,2339.2 L79.2,2343.6 L78.5,2348.1 L77.8,2352.6 L77.2,2357.1 L76.5,2361.6 L75.8,2366.2 L75.2,2370.8 L74.5,2375.5 L73.8,2380.1 L73.1,2384.9 L72.5,2389.6 L71.8,2394.4 L71.1,2399.2 L70.4,2404.0 L69.8,2408.9 L69.1,2413.8 L68.4,2418.7 L67.8,2423.7 L67.1,2428.7 L66.4,2433.7 L65.8,2438.8 L65.1,2443.9 L64.4,2449.0 L63.7,2454.2 L63.1,2459.4 L62.4,2464.6 L61.8,2469.8 L61.1,2475.1 L60.4,2480.4 L59.8,2485.8 L59.1,2491.2 L58.4,2496.6 L57.8,2502.0 L57.1,2507.5 L56.5,2513.0 L55.8,2518.5 L55.2,2524.1 L54.5,2529.7 L53.9,2535.3 L53.2,2541.0 L52.6,2546.6 L51.9,2552.4 L51.3,2558.1 L50.7,2563.9 L50.0,2569.7 L49.4,2575.5 L48.8,2581.4 L48.1,2587.3 L47.5,2593.3 L46.9,2599.2 L46.5,2602.9"/>
<path d="M149.1,2150.2 L149.0,2150.3 L148.9,2150.4 L148.7,2150.6 L148.4,2150.9 L148.0,2151.2 L147.6,2151.5 L147.1,2151.9 L146.6,2152.4 L146.1,2152.9 L145.5,2153.4 L144.8,2154.0 L144.2,2154.7 L143.5,2155.3 L142.7,2156.1 L142.0,2156.8 L141.2,2157.7 L140.4,2158.5 L139.6,2159.4 L138.8,2160.3 L138.0,2161.3 L137.1,2162.3 L136.3,2163.4 L135.4,2164.5 L134.6,2165.6 L133.7,2166.8 L132.8,2168.0 L132.0,2169.2 L131.1,2170.5 L130.3,2171.8 L129.5,2173.2 L128.6,2174.6 L127.8,2176.0 L127.0,2177.5 L126.2,2179.0 L125.4,2180.5 L124.6,2182.1 L123.8,2183.7 L123.0,2185.4 L122.2,2187.1 L121.5,2188.8 L120.7,2190.5 L120.0,2192.3 L119.2,2194.1 L118.5,2196.0 L117.8,2197.9 L117.1,2199.8 L116.3,2201.7 L115.6,2203.7 L114.9,2205.8 L114.3,2207.8 L113.6,2209.9 L112.9,2212.0 L112.2,2214.2 L111.5,2216.4 L110.9,2218.6 L110.2,2220.8 L109.5,2223.1 L108.9,2225.4 L108.2,2227.8 L107.6,2230.2 L106.9,2232.6 L106.3,2235.0 L105.6,2237.5 L105.0,2240.0 L104.3,2242.5 L103.7,2245.1 L103.0,2247.7 L102.4,2250.4 L101.8,2253.0 L101.1,2255.7 L100.5,2258.4 L99.8,2261.2 L99.2,2264.0 L98.5,2266.8 L97.9,2269.7 L97.3,2272.5 L96.6,2275.5 L96.0,2278.4 L95.3,2281.4 L94.7,2284.4 L94.1,2287.4 L93.4,2290.5 L92.8,2293.6 L92.1,2296.7 L91.5,2299.8 L90.8,2303.0 L90.2,2306.2 L89.6,2309.5 L88.9,2312.7 L88.3,2316.0 L87.6,2319.4 L87.0,2322.7 L86.3,2326.1 L85.7,2329.5 L85.1,2333.0 L84.4,2336.5 L83.8,2340.0 L83.1,2343.5 L82.5,2347.1 L81.9,2350.7 L81.2,2354.3 L80.6,2357.9 L79.9,2361.6 L79.3,2365.3 L78.7,2369.1 L78.0,2372.8 L77.4,2376.6 L76.8,2380.5 L76.1,2384.3 L75.5,2388.2 L74.8,2392.1 L74.2,2396.0 L73.6,2400.0 L72.9,2404.0 L72.3,2408.0 L71.7,2412.1 L71.1,2416.1 L70.4,2420.2 L69.8,2424.4 L69.2,2428.5 L68.5,2432.7 L67.9,2436.9 L67.3,2441.2 L66.7,2445.4 L66.0,2449.7 L65.4,2454.1 L64.8,2458.4 L64.2,2462.8 L63.6,2467.2 L62.9,2471.6 L62.3,2476.1 L61.7,2480.6 L61.1,2485.1 L60.5,2489.7 L59.9,2494.2 L59.3,2498.8 L58.6,2503.5 L58.0,2508.1 L57.4,2512.8 L56.8,2517.5 L56.2,2522.2 L55.6,2527.0 L55.0,2531.8 L54.4,2536.6 L53.8,2541.5 L53.2,2546.3 L52.6,2551.2 L52.0,2556.1 L51.4,2561.1 L50.8,2566.1 L50.2,2571.1 L49.7,2576.1 L49.1,2581.2 L48.5,2586.2 L47.9,2591.4 L47.3,2596.5 L46.7,2601.7 L46.6,2602.9"/>
<path d="M152.4,2216.9 L152.3,2217.0 L152.2,2217.1 L152.0,2217.3 L151.8,2217.5 L151.5,2217.7 L151.2,2218.0 L150.8,2218.4 L150.3,2218.8 L149.8,2219.2 L149.3,2219.7 L148.8,2220.2 L148.2,2220.7 L147.6,2221.3 L146.9,2221.9 L146.2,2222.6 L145.5,2223.3 L144.8,2224.0 L144.0,2224.8 L143.2,2225.6 L142.4,2226.4 L141.6,2227.3 L140.8,2228.2 L139.9,2229.1 L139.1,2230.1 L138.2,2231.1 L137.3,2232.2 L136.4,2233.2 L135.5,2234.3 L134.6,2235.5 L133.7,2236.6 L132.8,2237.8 L131.8,2239.0 L130.9,2240.3 L130.0,2241.6 L129.0,2242.9 L128.1,2244.3 L127.2,2245.6 L126.2,2247.1 L125.3,2248.5 L124.3,2250.0 L123.4,2251.5 L122.5,2253.0 L121.6,2254.6 L120.6,2256.1 L119.7,2257.8 L118.8,2259.4 L117.9,2261.1 L117.0,2262.8 L116.1,2264.5 L115.2,2266.3 L114.3,2268.1 L113.4,2269.9 L112.5,2271.7 L111.6,2273.6 L110.8,2275.5 L109.9,2277.5 L109.0,2279.4 L108.2,2281.4 L107.3,2283.4 L106.5,2285.5 L105.6,2287.5 L104.8,2289.6 L104.0,2291.7 L103.2,2293.9 L102.3,2296.1 L101.5,2298.3 L100.7,2300.5 L99.9,2302.8 L99.1,2305.0 L98.3,2307.4 L97.5,2309.7 L96.8,2312.1 L96.0,2314.5 L95.2,2316.9 L94.5,2319.3 L93.7,2321.8 L92.9,2324.3 L92.2,2326.8 L91.5,2329.3 L90.7,2331.9 L90.0,2334.5 L89.2,2337.1 L88.5,2339.8 L87.8,2342.5 L87.1,2345.2 L86.4,2347.9 L85.7,2350.7 L85.0,2353.4 L84.3,2356.2 L83.6,2359.1 L82.9,2361.9 L82.2,2364.8 L81.6,2367.7 L80.9,2370.6 L80.2,2373.6 L79.6,2376.6 L78.9,2379.6 L78.2,2382.6 L77.6,2385.7 L77.0,2388.8 L76.3,2391.9 L75.7,2395.0 L75.1,2398.1 L74.4,2401.3 L73.8,2404.5 L73.2,2407.7 L72.6,2411.0 L72.0,2414.3 L71.4,2417.6 L70.8,2420.9 L70.2,2424.3 L69.6,2427.6 L69.0,2431.0 L68.4,2434.4 L67.8,2437.9 L67.2,2441.4 L66.7,2444.9 L66.1,2448.4 L65.5,2451.9 L65.0,2455.5 L64.4,2459.1 L63.9,2462.7 L63.3,2466.3 L62.8,2470.0 L62.2,2473.7 L61.7,2477.4 L61.1,2481.1 L60.6,2484.9 L60.1,2488.6 L59.6,2492.5 L59.0,2496.3 L58.5,2500.1 L58.0,2504.0 L57.5,2507.9 L57.0,2511.8 L56.5,2515.8 L56.0,2519.7 L55.4,2523.7 L54.9,2527.7 L54.4,2531.8 L54.0,2535.8 L53.5,2539.9 L53.0,2544.0 L52.5,2548.1 L52.0,2552.3 L51.5,2556.5 L51.0,2560.7 L50.6,2564.9 L50.1,2569.1 L49.6,2573.4 L49.1,2577.7 L48.7,2582.0 L48.2,2586.3 L47.7,2590.7 L47.3,2595.1 L46.8,2599.5 L46.5,2602.9"/>
<path d="M152.4,2283.7 L152.4,2283.7 L152.3,2283.8 L152.1,2283.9 L151.9,2284.1 L151.7,2284.3 L151.4,2284.6 L151.1,2284.8 L150.8,2285.2 L150.4,2285.5 L150.0,2285.9 L149.6,2286.3 L149.1,2286.8 L148.6,2287.3 L148.0,2287.8 L147.5,2288.4 L146.9,2288.9 L146.3,2289.5 L145.7,2290.2 L145.0,2290.9 L144.3,2291.6 L143.6,2292.3 L142.9,2293.0 L142.2,2293.8 L141.4,2294.6 L140.6,2295.5 L139.8,2296.3 L139.0,2297.2 L138.2,2298.1 L137.4,2299.1 L136.5,2300.0 L135.7,2301.0 L134.8,2302.1 L133.9,2303.1 L133.0,2304.2 L132.1,2305.3 L131.2,2306.4 L130.2,2307.6 L129.3,2308.7 L128.4,2309.9 L127.4,2311.2 L126.5,2312.4 L125.5,2313.7 L124.6,2315.0 L123.6,2316.3 L122.7,2317.7 L121.7,2319.0 L120.7,2320.4 L119.7,2321.9 L118.8,2323.3 L117.8,2324.8 L116.8,2326.3 L115.9,2327.8 L114.9,2329.3 L113.9,2330.9 L112.9,2332.5 L112.0,2334.1 L111.0,2335.7 L110.1,2337.4 L109.1,2339.0 L108.1,2340.7 L107.2,2342.5 L106.2,2344.2 L105.3,2346.0 L104.4,2347.8 L103.4,2349.6 L102.5,2351.4 L101.6,2353.3 L100.6,2355.2 L99.7,2357.1 L98.8,2359.0 L97.9,2360.9 L97.0,2362.9 L96.1,2364.9 L95.2,2366.9 L94.4,2369.0 L93.5,2371.0 L92.6,2373.1 L91.8,2375.2 L90.9,2377.3 L90.1,2379.5 L89.2,2381.6 L88.4,2383.8 L87.6,2386.0 L86.8,2388.3 L86.0,2390.5 L85.2,2392.8 L84.4,2395.1 L83.6,2397.4 L82.8,2399.7 L82.0,2402.1 L81.3,2404.5 L80.5,2406.9 L79.8,2409.3 L79.1,2411.7 L78.3,2414.2 L77.6,2416.7 L76.9,2419.2 L76.2,2421.7 L75.5,2424.3 L74.8,2426.8 L74.1,2429.4 L73.4,2432.0 L72.8,2434.7 L72.1,2437.3 L71.4,2440.0 L70.8,2442.7 L70.2,2445.4 L69.5,2448.1 L68.9,2450.9 L68.3,2453.6 L67.7,2456.4 L67.1,2459.2 L66.5,2462.1 L65.9,2464.9 L65.3,2467.8 L64.7,2470.7 L64.2,2473.6 L63.6,2476.5 L63.0,2479.5 L62.5,2482.4 L62.0,2485.4 L61.4,2488.4 L60.9,2491.5 L60.4,2494.5 L59.9,2497.6 L59.3,2500.7 L58.8,2503.8 L58.3,2506.9 L57.8,2510.1 L57.4,2513.3 L56.9,2516.4 L56.4,2519.6 L55.9,2522.9 L55.5,2526.1 L55.0,2529.4 L54.6,2532.7 L54.1,2536.0 L53.7,2539.3 L53.2,2542.7 L52.8,2546.0 L52.4,2549.4 L51.9,2552.8 L51.5,2556.2 L51.1,2559.7 L50.7,2563.1 L50.3,2566.6 L49.9,2570.1 L49.5,2573.6 L49.1,2577.2 L48.7,2580.7 L48.3,2584.3 L47.9,2587.9 L47.6,2591.5 L47.2,2595.1 L46.8,2598.8 L46.4,2602.4 L46.4,2602.9"/>
<path d="M152.4,2350.2 L152.4,2350.3 L152.3,2350.4 L152.2,2350.5 L152.0,2350.6 L151.8,2350.8 L151.6,2351.0 L151.4,2351.2 L151.1,2351.5 L150.8,2351.8 L150.4,2352.1 L150.1,2352.4 L149.7,2352.8 L149.3,2353.2 L148.8,2353.6 L148.3,2354.0 L147.9,2354.5 L147.3,2355.0 L146.8,2355.5 L146.3,2356.0 L145.7,2356.6 L145.1,2357.2 L144.5,2357.8 L143.8,2358.4 L143.2,2359.0 L142.5,2359.7 L141.8,2360.4 L141.1,2361.1 L140.4,2361.8 L139.7,2362.6 L138.9,2363.4 L138.1,2364.2 L137.4,2365.0 L136.6,2365.8 L135.8,2366.7 L134.9,2367.6 L134.1,2368.5 L133.3,2369.4 L132.4,2370.3 L131.6,2371.3 L130.7,2372.3 L129.8,2373.3 L128.9,2374.3 L128.0,2375.3 L127.1,2376.4 L126.2,2377.5 L125.3,2378.6 L124.4,2379.7 L123.4,2380.8 L122.5,2382.0 L121.6,2383.2 L120.6,2384.4 L119.7,2385.6 L118.7,2386.8 L117.8,2388.0 L116.8,2389.3 L115.8,2390.6 L114.9,2391.9 L113.9,2393.2 L113.0,2394.6 L112.0,2395.9 L111.0,2397.3 L110.1,2398.7 L109.1,2400.1 L108.1,2401.6 L107.2,2403.0 L106.2,2404.5 L105.3,2406.0 L104.3,2407.5 L103.4,2409.0 L102.4,2410.6 L101.5,2412.1 L100.5,2413.7 L99.6,2415.3 L98.6,2416.9 L97.7,2418.5 L96.8,2420.2 L95.9,2421.8 L94.9,2423.5 L94.0,2425.2 L93.1,2426.9 L92.2,2428.7 L91.3,2430.4 L90.4,2432.2 L89.5,2434.0 L88.7,2435.8 L87.8,2437.6 L86.9,2439.4 L86.1,2441.3 L85.2,2443.2 L84.4,2445.1 L83.6,2447.0 L82.7,2448.9 L81.9,2450.8 L81.1,2452.8 L80.3,2454.7 L79.5,2456.7 L78.7,2458.7 L77.9,2460.8 L77.1,2462.8 L76.4,2464.8 L75.6,2466.9 L74.9,2469.0 L74.1,2471.1 L73.4,2473.2 L72.7,2475.4 L72.0,2477.5 L71.3,2479.7 L70.6,2481.9 L69.9,2484.1 L69.2,2486.3 L68.5,2488.5 L67.8,2490.8 L67.2,2493.0 L66.5,2495.3 L65.9,2497.6 L65.3,2499.9 L64.6,2502.3 L64.0,2504.6 L63.4,2507.0 L62.8,2509.4 L62.2,2511.8 L61.7,2514.2 L61.1,2516.6 L60.5,2519.0 L60.0,2521.5 L59.4,2524.0 L58.9,2526.5 L58.3,2529.0 L57.8,2531.5 L57.3,2534.0 L56.8,2536.6 L56.3,2539.1 L55.8,2541.7 L55.3,2544.3 L54.8,2546.9 L54.4,2549.6 L53.9,2552.2 L53.4,2554.9 L53.0,2557.6 L52.5,2560.2 L52.1,2563.0 L51.7,2565.7 L51.3,2568.4 L50.8,2571.2 L50.4,2573.9 L50.0,2576.7 L49.6,2579.5 L49.2,2582.3 L48.9,2585.2 L48.5,2588.0 L48.1,2590.9 L47.7,2593.7 L47.4,2596.6 L47.0,2599.5 L46.7,2602.5 L46.6,2602.9"/>
<path d="M152.4,2416.9 L152.4,2417.0 L152.3,2417.0 L152.2,2417.1 L152.0,2417.2 L151.8,2417.3 L151.6,2417.5 L151.4,2417.7 L151.1,2417.9 L150.8,2418.1 L150.4,2418.3 L150.1,2418.6 L149.7,2418.8 L149.3,2419.1 L148.8,2419.4 L148.4,2419.8 L147.9,2420.1 L147.4,2420.5 L146.9,2420.9 L146.3,2421.3 L145.7,2421.7 L145.1,2422.1 L144.5,2422.6 L143.9,2423.1 L143.3,2423.5 L142.6,2424.0 L141.9,2424.6 L141.2,2425.1 L140.5,2425.6 L139.8,2426.2 L139.0,2426.8 L138.2,2427.4 L137.5,2428.0 L136.7,2428.6 L135.9,2429.3 L135.1,2429.9 L134.2,2430.6 L133.4,2431.3 L132.6,2432.0 L131.7,2432.7 L130.8,2433.5 L130.0,2434.2 L129.1,2435.0 L128.2,2435.8 L127.3,2436.6 L126.4,2437.4 L125.4,2438.2 L124.5,2439.0 L123.6,2439.9 L122.7,2440.8 L121.7,2441.6 L120.8,2442.5 L119.8,2443.4 L118.9,2444.4 L117.9,2445.3 L117.0,2446.3 L116.0,2447.2 L115.1,2448.2 L114.1,2449.2 L113.1,2450.2 L112.2,2451.2 L111.2,2452.3 L110.2,2453.3 L109.3,2454.4 L108.3,2455.5 L107.4,2456.5 L106.4,2457.6 L105.4,2458.8 L104.5,2459.9 L103.5,2461.0 L102.6,2462.2 L101.6,2463.4 L100.7,2464.5 L99.7,2465.7 L98.8,2467.0 L97.9,2468.2 L96.9,2469.4 L96.0,2470.7 L95.1,2471.9 L94.2,2473.2 L93.3,2474.5 L92.4,2475.8 L91.5,2477.1 L90.6,2478.4 L89.7,2479.8 L88.8,2481.1 L87.9,2482.5 L87.1,2483.9 L86.2,2485.3 L85.3,2486.7 L84.5,2488.1 L83.7,2489.5 L82.8,2490.9 L82.0,2492.4 L81.2,2493.9 L80.4,2495.3 L79.6,2496.8 L78.8,2498.3 L78.0,2499.9 L77.2,2501.4 L76.4,2502.9 L75.7,2504.5 L74.9,2506.0 L74.2,2507.6 L73.4,2509.2 L72.7,2510.8 L72.0,2512.4 L71.3,2514.1 L70.6,2515.7 L69.9,2517.4 L69.2,2519.0 L68.5,2520.7 L67.9,2522.4 L67.2,2524.1 L66.5,2525.8 L65.9,2527.5 L65.3,2529.3 L64.6,2531.0 L64.0,2532.8 L63.4,2534.5 L62.8,2536.3 L62.2,2538.1 L61.6,2539.9 L61.1,2541.7 L60.5,2543.6 L59.9,2545.4 L59.4,2547.3 L58.8,2549.1 L58.3,2551.0 L57.8,2552.9 L57.3,2554.8 L56.8,2556.7 L56.2,2558.7 L55.8,2560.6 L55.3,2562.6 L54.8,2564.5 L54.3,2566.5 L53.8,2568.5 L53.4,2570.5 L52.9,2572.5 L52.5,2574.5 L52.1,2576.5 L51.6,2578.6 L51.2,2580.6 L50.8,2582.7 L50.4,2584.8 L50.0,2586.9 L49.6,2589.0 L49.2,2591.1 L48.8,2593.2 L48.4,2595.3 L48.1,2597.5 L47.7,2599.6 L47.3,2601.8 L47.2,2603.0"/>
<path d="M152.4,2483.7 L152.4,2483.7 L152.3,2483.7 L152.2,2483.8 L152.0,2483.8 L151.8,2483.9 L151.6,2484.0 L151.3,2484.1 L151.0,2484.3 L150.7,2484.4 L150.3,2484.6 L149.9,2484.7 L149.5,2484.9 L149.1,2485.1 L148.6,2485.3 L148.1,2485.5 L147.6,2485.8 L147.0,2486.0 L146.5,2486.3 L145.9,2486.5 L145.3,2486.8 L144.6,2487.1 L144.0,2487.4 L143.3,2487.7 L142.6,2488.0 L141.9,2488.4 L141.2,2488.7 L140.4,2489.1 L139.7,2489.5 L138.9,2489.8 L138.1,2490.2 L137.3,2490.6 L136.5,2491.0 L135.6,2491.4 L134.8,2491.9 L133.9,2492.3 L133.0,2492.8 L132.2,2493.2 L131.3,2493.7 L130.4,2494.2 L129.4,2494.7 L128.5,2495.2 L127.6,2495.7 L126.6,2496.2 L125.7,2496.7 L124.7,2497.3 L123.8,2497.8 L122.8,2498.4 L121.8,2499.0 L120.9,2499.5 L119.9,2500.1 L118.9,2500.7 L117.9,2501.3 L116.9,2501.9 L115.9,2502.6 L114.9,2503.2 L113.9,2503.8 L112.9,2504.5 L112.0,2505.2 L111.0,2505.8 L110.0,2506.5 L109.0,2507.2 L108.0,2507.9 L107.0,2508.6 L106.0,2509.3 L105.0,2510.1 L104.0,2510.8 L103.0,2511.5 L102.1,2512.3 L101.1,2513.1 L100.1,2513.8 L99.1,2514.6 L98.2,2515.4 L97.2,2516.2 L96.3,2517.0 L95.3,2517.8 L94.4,2518.6 L93.4,2519.5 L92.5,2520.3 L91.6,2521.2 L90.7,2522.0 L89.8,2522.9 L88.9,2523.8 L88.0,2524.7 L87.1,2525.6 L86.2,2526.5 L85.3,2527.4 L84.5,2528.3 L83.6,2529.2 L82.8,2530.2 L81.9,2531.1 L81.1,2532.0 L80.3,2533.0 L79.5,2534.0 L78.7,2535.0 L77.9,2535.9 L77.1,2536.9 L76.3,2537.9 L75.5,2539.0 L74.8,2540.0 L74.0,2541.0 L73.3,2542.0 L72.6,2543.1 L71.8,2544.1 L71.1,2545.2 L70.4,2546.3 L69.7,2547.3 L69.0,2548.4 L68.4,2549.5 L67.7,2550.6 L67.0,2551.7 L66.4,2552.9 L65.8,2554.0 L65.1,2555.1 L64.5,2556.3 L63.9,2557.4 L63.3,2558.6 L62.7,2559.7 L62.1,2560.9 L61.6,2562.1 L61.0,2563.3 L60.5,2564.5 L59.9,2565.7 L59.4,2566.9 L58.9,2568.1 L58.3,2569.4 L57.8,2570.6 L57.3,2571.8 L56.8,2573.1 L56.4,2574.4 L55.9,2575.6 L55.4,2576.9 L55.0,2578.2 L54.5,2579.5 L54.1,2580.8 L53.6,2582.1 L53.2,2583.4 L52.8,2584.7 L52.4,2586.1 L52.0,2587.4 L51.6,2588.7 L51.2,2590.1 L50.8,2591.5 L50.4,2592.8 L50.0,2594.2 L49.7,2595.6 L49.3,2597.0 L49.0,2598.4 L48.6,2599.8 L48.3,2601.2 L48.0,2602.6 L47.9,2603.1"/>
<path d="M152.4,2550.2 L152.4,2550.3 L152.3,2550.3 L152.2,2550.3 L152.1,2550.3 L152.0,2550.4 L151.8,2550.4 L151.6,2550.5 L151.4,2550.6 L151.2,2550.6 L150.9,2550.7 L150.6,2550.8 L150.4,2550.9 L150.0,2551.0 L149.7,2551.1 L149.4,2551.2 L149.0,2551.3 L148.6,2551.4 L148.2,2551.6 L147.8,2551.7 L147.3,2551.8 L146.9,2552.0 L146.4,2552.1 L145.9,2552.3 L145.4,2552.5 L144.9,2552.6 L144.4,2552.8 L143.9,2553.0 L143.3,2553.2 L142.7,2553.3 L142.2,2553.5 L141.6,2553.7 L141.0,2554.0 L140.4,2554.2 L139.7,2554.4 L139.1,2554.6 L138.5,2554.8 L137.8,2555.1 L137.2,2555.3 L136.5,2555.5 L135.8,2555.8 L135.1,2556.0 L134.4,2556.3 L133.7,2556.5 L133.0,2556.8 L132.3,2557.1 L131.6,2557.4 L130.8,2557.6 L130.1,2557.9 L129.3,2558.2 L128.6,2558.5 L127.8,2558.8 L127.1,2559.1 L126.3,2559.4 L125.6,2559.7 L124.8,2560.1 L124.0,2560.4 L123.2,2560.7 L122.4,2561.0 L121.7,2561.4 L120.9,2561.7 L120.1,2562.1 L119.3,2562.4 L118.5,2562.8 L117.7,2563.1 L116.9,2563.5 L116.1,2563.9 L115.3,2564.2 L114.5,2564.6 L113.7,2565.0 L112.9,2565.4 L112.1,2565.8 L111.3,2566.2 L110.6,2566.6 L109.8,2567.0 L109.0,2567.4 L108.2,2567.8 L107.4,2568.2 L106.6,2568.6 L105.8,2569.1 L105.0,2569.5 L104.3,2569.9 L103.5,2570.4 L102.7,2570.8 L101.9,2571.3 L101.2,2571.7 L100.4,2572.2 L99.6,2572.6 L98.9,2573.1 L98.1,2573.6 L97.4,2574.1 L96.6,2574.5 L95.9,2575.0 L95.1,2575.5 L94.4,2576.0 L93.7,2576.5 L92.9,2577.0 L92.2,2577.5 L91.5,2578.0 L90.8,2578.5 L90.1,2579.0 L89.4,2579.5 L88.7,2580.1 L88.0,2580.6 L87.3,2581.1 L86.6,2581.7 L86.0,2582.2 L85.3,2582.7 L84.6,2583.3 L84.0,2583.9 L83.3,2584.4 L82.7,2585.0 L82.0,2585.5 L81.4,2586.1 L80.8,2586.7 L80.1,2587.3 L79.5,2587.8 L78.9,2588.4 L78.3,2589.0 L77.7,2589.6 L77.1,2590.2 L76.5,2590.8 L75.9,2591.4 L75.4,2592.0 L74.8,2592.6 L74.2,2593.2 L73.7,2593.9 L73.1,2594.5 L72.6,2595.1 L72.0,2595.8 L71.5,2596.4 L71.0,2597.0 L70.4,2597.7 L69.9,2598.3 L69.4,2599.0 L68.9,2599.6 L68.4,2600.3 L67.9,2601.0 L67.4,2601.6 L66.9,2602.3 L66.4,2603.0 L66.0,2603.7 L65.5,2604.3 L65.3,2604.8"/>
<path d="M152.4,2710.2 L152.4,2710.1 L152.4,2710.1 L152.3,2710.1 L152.3,2710.1 L152.2,2710.0 L152.1,2710.0 L152.1,2709.9 L152.0,2709.9 L151.9,2709.8 L151.7,2709.7 L151.6,2709.6 L151.5,2709.5 L151.4,2709.4 L151.2,2709.3 L151.1,2709.2 L150.9,2709.1 L150.7,2709.0 L150.5,2708.9 L150.3,2708.7 L150.1,2708.6 L149.9,2708.4 L149.7,2708.3 L149.5,2708.1 L149.3,2708.0 L149.0,2707.8 L148.8,2707.6 L148.5,2707.5 L148.3,2707.3 L148.0,2707.1 L147.7,2706.9 L147.4,2706.7 L147.1,2706.5 L146.8,2706.3 L146.5,2706.1 L146.2,2705.9 L145.9,2705.7 L145.6,2705.4 L145.2,2705.2 L144.9,2705.0 L144.5,2704.7 L144.2,2704.5 L143.8,2704.2 L143.4,2704.0 L143.1,2703.7 L142.7,2703.4 L142.3,2703.2 L141.9,2702.9 L141.5,2702.6 L141.1,2702.3 L140.6,2702.0 L140.2,2701.7 L139.8,2701.4 L139.3,2701.1 L138.9,2700.8 L138.4,2700.5 L138.0,2700.2 L137.5,2699.9 L137.0,2699.5 L136.6,2699.2 L136.1,2698.9 L135.6,2698.5 L135.1,2698.2 L134.6,2697.8 L134.1,2697.5 L133.6,2697.1 L133.0,2696.8 L132.5,2696.4 L132.0,2696.0 L131.4,2695.7 L130.9,2695.3 L130.3,2694.9 L129.8,2694.5 L129.2,2694.1 L128.6,2693.7 L128.0,2693.3 L127.5,2692.9 L126.9,2692.5 L126.3,2692.1 L125.7,2691.7 L125.0,2691.2 L124.4,2690.8 L123.8,2690.4 L123.2,2689.9 L122.5,2689.5 L121.9,2689.1 L121.3,2688.6 L120.6,2688.2 L119.9,2687.7 L119.3,2687.2 L118.6,2686.8 L117.9,2686.3 L117.3,2685.8 L116.6,2685.4 L115.9,2684.9 L115.2,2684.4 L114.5,2683.9 L113.8,2683.4 L113.0,2682.9 L112.3,2682.4 L111.6,2681.9 L110.9,2681.4 L110.1,2680.9 L109.4,2680.3 L108.6,2679.8 L107.9,2679.3 L107.1,2678.8 L106.3,2678.2 L105.6,2677.7 L104.8,2677.2 L104.0,2676.6 L103.2,2676.1 L102.4,2675.5 L101.6,2674.9 L100.8,2674.4 L100.0,2673.8 L99.2,2673.2 L98.4,2672.7 L97.5,2672.1 L96.7,2671.5 L95.9,2670.9 L95.0,2670.3 L94.2,2669.7 L93.3,2669.1 L92.5,2668.5 L91.6,2667.9 L90.7,2667.3 L89.8,2666.7 L89.0,2666.1 L88.1,2665.5 L87.2,2664.8 L86.3,2664.2 L85.4,2663.6 L84.5,2662.9 L83.6,2662.3 L82.6,2661.7 L81.7,2661.0 L80.8,2660.3 L79.9,2659.7 L78.9,2659.0 L78.0,2658.4 L77.0,2657.7 L76.1,2657.0 L75.1,2656.4 L74.1,2655.7 L73.2,2655.0 L72.2,2654.3 L71.2,2653.6 L70.2,2652.9 L69.9,2652.7"/>
<path d="M137.1,2775.8 L137.1,2775.8 L137.0,2775.8 L136.9,2775.7 L136.7,2775.6 L136.6,2775.5 L136.4,2775.4 L136.1,2775.3 L135.9,2775.2 L135.6,2775.1 L135.3,2774.9 L135.0,2774.7 L134.6,2774.6 L134.2,2774.4 L133.8,2774.2 L133.4,2773.9 L132.9,2773.7 L132.5,2773.5 L132.0,2773.2 L131.5,2773.0 L131.0,2772.7 L130.4,2772.4 L129.8,2772.1 L129.3,2771.8 L128.7,2771.5 L128.1,2771.1 L127.4,2770.8 L126.8,2770.5 L126.1,2770.1 L125.5,2769.7 L124.8,2769.3 L124.1,2768.9 L123.4,2768.5 L122.7,2768.1 L121.9,2767.7 L121.2,2767.3 L120.4,2766.8 L119.7,2766.4 L118.9,2765.9 L118.1,2765.4 L117.3,2765.0 L116.5,2764.5 L115.7,2764.0 L114.9,2763.4 L114.1,2762.9 L113.3,2762.4 L112.5,2761.9 L111.6,2761.3 L110.8,2760.7 L110.0,2760.2 L109.1,2759.6 L108.3,2759.0 L107.4,2758.4 L106.6,2757.8 L105.7,2757.2 L104.9,2756.6 L104.0,2755.9 L103.2,2755.3 L102.3,2754.6 L101.4,2754.0 L100.6,2753.3 L99.7,2752.6 L98.9,2751.9 L98.0,2751.2 L97.2,2750.5 L96.3,2749.8 L95.5,2749.1 L94.6,2748.4 L93.8,2747.6 L93.0,2746.9 L92.1,2746.1 L91.3,2745.3 L90.5,2744.6 L89.7,2743.8 L88.8,2743.0 L88.0,2742.2 L87.2,2741.4 L86.4,2740.5 L85.6,2739.7 L84.8,2738.9 L84.0,2738.0 L83.3,2737.2 L82.5,2736.3 L81.7,2735.4 L81.0,2734.6 L80.2,2733.7 L79.5,2732.8 L78.7,2731.9 L78.0,2731.0 L77.3,2730.0 L76.5,2729.1 L75.8,2728.2 L75.1,2727.2 L74.4,2726.3 L73.7,2725.3 L73.1,2724.3 L72.4,2723.4 L71.7,2722.4 L71.1,2721.4 L70.4,2720.4 L69.8,2719.4 L69.1,2718.4 L68.5,2717.3 L67.9,2716.3 L67.3,2715.2 L66.7,2714.2 L66.1,2713.1 L65.5,2712.1 L64.9,2711.0 L64.4,2709.9 L63.8,2708.8 L63.2,2707.7 L62.7,2706.6 L62.2,2705.5 L61.6,2704.4 L61.1,2703.2 L60.6,2702.1 L60.1,2700.9 L59.6,2699.8 L59.1,2698.6 L58.6,2697.5 L58.2,2696.3 L57.7,2695.1 L57.2,2693.9 L56.8,2692.7 L56.4,2691.5 L55.9,2690.3 L55.5,2689.0 L55.1,2687.8 L54.7,2686.6 L54.3,2685.3 L53.9,2684.1 L53.5,2682.8 L53.1,2681.5 L52.7,2680.2 L52.3,2678.9 L52.0,2677.7 L51.6,2676.3 L51.3,2675.0 L50.9,2673.7 L50.6,2672.4 L50.3,2671.1 L49.9,2669.7 L49.6,2668.4 L49.3,2667.0 L49.0,2665.7 L48.7,2664.3 L48.4,2662.9 L48.1,2661.5 L47.8,2660.1 L47.5,2658.7 L47.5,2658.6"/>
<path d="M146.8,2842.3 L146.8,2842.3 L146.7,2842.2 L146.6,2842.1 L146.4,2842.0 L146.3,2841.9 L146.1,2841.8 L145.8,2841.6 L145.6,2841.4 L145.3,2841.2 L144.9,2841.0 L144.6,2840.7 L144.2,2840.4 L143.8,2840.1 L143.4,2839.8 L143.0,2839.5 L142.5,2839.2 L142.0,2838.8 L141.5,2838.4 L141.0,2838.0 L140.5,2837.6 L139.9,2837.2 L139.3,2836.7 L138.7,2836.3 L138.1,2835.8 L137.5,2835.3 L136.8,2834.8 L136.2,2834.3 L135.5,2833.7 L134.8,2833.1 L134.1,2832.6 L133.4,2832.0 L132.6,2831.4 L131.9,2830.8 L131.1,2830.1 L130.4,2829.5 L129.6,2828.8 L128.8,2828.1 L128.0,2827.4 L127.2,2826.7 L126.3,2826.0 L125.5,2825.2 L124.7,2824.5 L123.8,2823.7 L123.0,2822.9 L122.1,2822.1 L121.2,2821.3 L120.4,2820.5 L119.5,2819.6 L118.6,2818.8 L117.7,2817.9 L116.8,2817.0 L115.9,2816.1 L115.0,2815.2 L114.1,2814.3 L113.2,2813.3 L112.3,2812.4 L111.4,2811.4 L110.5,2810.4 L109.6,2809.4 L108.6,2808.4 L107.7,2807.4 L106.8,2806.4 L105.9,2805.3 L105.0,2804.2 L104.1,2803.2 L103.2,2802.1 L102.3,2801.0 L101.4,2799.9 L100.5,2798.7 L99.5,2797.6 L98.6,2796.4 L97.8,2795.3 L96.9,2794.1 L96.0,2792.9 L95.1,2791.7 L94.2,2790.5 L93.3,2789.2 L92.5,2788.0 L91.6,2786.7 L90.7,2785.4 L89.9,2784.2 L89.0,2782.9 L88.2,2781.5 L87.3,2780.2 L86.5,2778.9 L85.7,2777.5 L84.8,2776.2 L84.0,2774.8 L83.2,2773.4 L82.4,2772.0 L81.6,2770.6 L80.8,2769.2 L80.0,2767.7 L79.3,2766.3 L78.5,2764.8 L77.7,2763.4 L77.0,2761.9 L76.2,2760.4 L75.5,2758.9 L74.8,2757.3 L74.1,2755.8 L73.3,2754.2 L72.6,2752.7 L71.9,2751.1 L71.2,2749.5 L70.6,2747.9 L69.9,2746.3 L69.2,2744.7 L68.6,2743.1 L67.9,2741.4 L67.3,2739.8 L66.6,2738.1 L66.0,2736.4 L65.4,2734.7 L64.8,2733.0 L64.2,2731.3 L63.6,2729.6 L63.0,2727.8 L62.4,2726.1 L61.9,2724.3 L61.3,2722.6 L60.8,2720.8 L60.2,2719.0 L59.7,2717.2 L59.1,2715.3 L58.6,2713.5 L58.1,2711.7 L57.6,2709.8 L57.1,2707.9 L56.6,2706.0 L56.1,2704.2 L55.7,2702.3 L55.2,2700.3 L54.7,2698.4 L54.3,2696.5 L53.8,2694.5 L53.4,2692.6 L52.9,2690.6 L52.5,2688.6 L52.1,2686.6 L51.7,2684.6 L51.3,2682.6 L50.9,2680.5 L50.5,2678.5 L50.1,2676.5 L49.7,2674.4 L49.3,2672.3 L49.0,2670.2 L48.6,2668.1 L48.3,2666.0 L47.9,2663.9 L47.6,2661.8 L47.2,2659.6 L47.1,2658.6"/>
<path d="M163.1,2916.3 L163.1,2916.3 L163.0,2916.2 L162.8,2916.1 L162.7,2916.0 L162.5,2915.8 L162.2,2915.6 L161.9,2915.4 L161.6,2915.1 L161.3,2914.8 L160.9,2914.5 L160.5,2914.2 L160.0,2913.8 L159.6,2913.4 L159.1,2913.0 L158.6,2912.5 L158.0,2912.0 L157.4,2911.5 L156.8,2911.0 L156.2,2910.5 L155.6,2909.9 L154.9,2909.3 L154.2,2908.7 L153.5,2908.1 L152.8,2907.4 L152.0,2906.7 L151.3,2906.0 L150.5,2905.3 L149.7,2904.5 L148.8,2903.8 L148.0,2903.0 L147.1,2902.2 L146.3,2901.3 L145.4,2900.5 L144.5,2899.6 L143.6,2898.7 L142.7,2897.8 L141.7,2896.9 L140.8,2895.9 L139.8,2894.9 L138.8,2893.9 L137.9,2892.9 L136.9,2891.9 L135.9,2890.8 L134.9,2889.7 L133.9,2888.6 L132.8,2887.5 L131.8,2886.4 L130.8,2885.2 L129.7,2884.0 L128.7,2882.8 L127.7,2881.6 L126.6,2880.4 L125.6,2879.1 L124.5,2877.8 L123.4,2876.5 L122.4,2875.2 L121.3,2873.9 L120.2,2872.6 L119.2,2871.2 L118.1,2869.8 L117.1,2868.4 L116.0,2867.0 L114.9,2865.5 L113.9,2864.1 L112.8,2862.6 L111.7,2861.1 L110.7,2859.6 L109.6,2858.0 L108.6,2856.5 L107.5,2854.9 L106.5,2853.3 L105.5,2851.7 L104.4,2850.1 L103.4,2848.5 L102.4,2846.8 L101.4,2845.1 L100.3,2843.4 L99.3,2841.7 L98.3,2840.0 L97.3,2838.2 L96.4,2836.5 L95.4,2834.7 L94.4,2832.9 L93.4,2831.1 L92.5,2829.2 L91.5,2827.4 L90.6,2825.5 L89.6,2823.6 L88.7,2821.7 L87.8,2819.8 L86.9,2817.8 L86.0,2815.9 L85.1,2813.9 L84.2,2811.9 L83.3,2809.9 L82.4,2807.9 L81.6,2805.8 L80.7,2803.8 L79.9,2801.7 L79.0,2799.6 L78.2,2797.5 L77.4,2795.4 L76.6,2793.2 L75.8,2791.1 L75.0,2788.9 L74.2,2786.7 L73.5,2784.5 L72.7,2782.3 L72.0,2780.0 L71.2,2777.8 L70.5,2775.5 L69.8,2773.2 L69.0,2770.9 L68.3,2768.6 L67.6,2766.2 L67.0,2763.9 L66.3,2761.5 L65.6,2759.1 L65.0,2756.7 L64.3,2754.3 L63.7,2751.8 L63.0,2749.4 L62.4,2746.9 L61.8,2744.4 L61.2,2741.9 L60.6,2739.4 L60.0,2736.8 L59.5,2734.3 L58.9,2731.7 L58.3,2729.1 L57.8,2726.5 L57.2,2723.9 L56.7,2721.3 L56.2,2718.6 L55.6,2716.0 L55.1,2713.3 L54.6,2710.6 L54.1,2707.9 L53.7,2705.2 L53.2,2702.4 L52.7,2699.7 L52.2,2696.9 L51.8,2694.1 L51.3,2691.3 L50.9,2688.5 L50.4,2685.6 L50.0,2682.8 L49.6,2679.9 L49.2,2677.0 L48.8,2674.1 L48.4,2671.2 L48.0,2668.3 L47.6,2665.3 L47.2,2662.4 L46.8,2659.4 L46.7,2658.7"/>
<path d="M163.1,2983.0 L163.1,2983.0 L162.9,2982.9 L162.8,2982.8 L162.5,2982.6 L162.3,2982.4 L161.9,2982.1 L161.6,2981.8 L161.2,2981.5 L160.7,2981.1 L160.2,2980.7 L159.7,2980.3 L159.2,2979.9 L158.6,2979.4 L157.9,2978.8 L157.3,2978.3 L156.6,2977.7 L155.9,2977.1 L155.1,2976.4 L154.4,2975.7 L153.6,2975.0 L152.7,2974.3 L151.9,2973.5 L151.0,2972.7 L150.2,2971.9 L149.3,2971.1 L148.3,2970.2 L147.4,2969.3 L146.4,2968.3 L145.5,2967.4 L144.5,2966.4 L143.5,2965.4 L142.5,2964.4 L141.5,2963.3 L140.4,2962.2 L139.4,2961.1 L138.3,2959.9 L137.3,2958.8 L136.2,2957.6 L135.1,2956.4 L134.1,2955.1 L133.0,2953.8 L131.9,2952.5 L130.8,2951.2 L129.7,2949.9 L128.7,2948.5 L127.6,2947.1 L126.5,2945.7 L125.4,2944.3 L124.3,2942.8 L123.2,2941.3 L122.1,2939.8 L121.0,2938.3 L120.0,2936.7 L118.9,2935.1 L117.8,2933.5 L116.7,2931.9 L115.7,2930.2 L114.6,2928.5 L113.5,2926.8 L112.5,2925.1 L111.4,2923.3 L110.4,2921.6 L109.3,2919.8 L108.3,2917.9 L107.3,2916.1 L106.3,2914.2 L105.3,2912.4 L104.3,2910.4 L103.3,2908.5 L102.3,2906.6 L101.3,2904.6 L100.3,2902.6 L99.3,2900.6 L98.4,2898.5 L97.4,2896.4 L96.5,2894.3 L95.6,2892.2 L94.6,2890.1 L93.7,2887.9 L92.8,2885.8 L91.9,2883.6 L91.0,2881.3 L90.1,2879.1 L89.3,2876.8 L88.4,2874.6 L87.5,2872.2 L86.7,2869.9 L85.8,2867.6 L85.0,2865.2 L84.2,2862.8 L83.4,2860.4 L82.6,2857.9 L81.8,2855.5 L81.0,2853.0 L80.2,2850.5 L79.4,2848.0 L78.7,2845.4 L77.9,2842.9 L77.2,2840.3 L76.4,2837.7 L75.7,2835.1 L75.0,2832.4 L74.3,2829.7 L73.6,2827.1 L72.9,2824.3 L72.2,2821.6 L71.5,2818.9 L70.9,2816.1 L70.2,2813.3 L69.5,2810.5 L68.9,2807.6 L68.3,2804.8 L67.6,2801.9 L67.0,2799.0 L66.4,2796.1 L65.8,2793.2 L65.2,2790.2 L64.6,2787.2 L64.0,2784.2 L63.4,2781.2 L62.8,2778.2 L62.3,2775.1 L61.7,2772.0 L61.2,2768.9 L60.6,2765.8 L60.1,2762.7 L59.6,2759.5 L59.0,2756.4 L58.5,2753.2 L58.0,2749.9 L57.5,2746.7 L57.0,2743.4 L56.5,2740.2 L56.0,2736.9 L55.5,2733.6 L55.0,2730.2 L54.6,2726.9 L54.1,2723.5 L53.6,2720.1 L53.2,2716.7 L52.7,2713.2 L52.3,2709.8 L51.8,2706.3 L51.4,2702.8 L51.0,2699.3 L50.6,2695.8 L50.1,2692.2 L49.7,2688.7 L49.3,2685.1 L48.9,2681.5 L48.5,2677.8 L48.1,2674.2 L47.7,2670.5 L47.3,2666.8 L46.9,2663.1 L46.5,2659.4 L46.4,2658.7"/>
<path d="M178.3,3053.2 L178.2,3053.1 L178.0,3053.0 L177.7,3052.8 L177.3,3052.6 L176.8,3052.4 L176.2,3052.0 L175.5,3051.7 L174.8,3051.3 L174.0,3050.8 L173.2,3050.4 L172.3,3049.8 L171.3,3049.3 L170.3,3048.7 L169.2,3048.1 L168.1,3047.4 L166.9,3046.7 L165.7,3045.9 L164.5,3045.1 L163.3,3044.3 L162.0,3043.5 L160.7,3042.6 L159.4,3041.7 L158.1,3040.7 L156.7,3039.7 L155.4,3038.7 L154.0,3037.6 L152.7,3036.5 L151.3,3035.4 L149.9,3034.2 L148.5,3033.1 L147.2,3031.8 L145.8,3030.6 L144.5,3029.3 L143.1,3028.0 L141.8,3026.6 L140.4,3025.3 L139.1,3023.8 L137.8,3022.4 L136.5,3020.9 L135.2,3019.4 L133.9,3017.9 L132.7,3016.3 L131.4,3014.7 L130.2,3013.1 L128.9,3011.5 L127.7,3009.8 L126.5,3008.1 L125.4,3006.3 L124.2,3004.6 L123.1,3002.8 L121.9,3000.9 L120.8,2999.1 L119.7,2997.2 L118.6,2995.3 L117.5,2993.3 L116.5,2991.4 L115.4,2989.4 L114.4,2987.3 L113.3,2985.3 L112.3,2983.2 L111.3,2981.1 L110.3,2978.9 L109.4,2976.8 L108.4,2974.6 L107.4,2972.4 L106.5,2970.1 L105.5,2967.8 L104.6,2965.5 L103.7,2963.2 L102.8,2960.8 L101.9,2958.4 L101.0,2956.0 L100.1,2953.6 L99.3,2951.1 L98.4,2948.6 L97.5,2946.1 L96.7,2943.5 L95.9,2941.0 L95.0,2938.4 L94.2,2935.7 L93.4,2933.1 L92.6,2930.4 L91.8,2927.7 L91.0,2925.0 L90.2,2922.2 L89.4,2919.4 L88.6,2916.6 L87.9,2913.8 L87.1,2910.9 L86.3,2908.0 L85.6,2905.1 L84.8,2902.2 L84.1,2899.2 L83.4,2896.2 L82.6,2893.2 L81.9,2890.1 L81.2,2887.1 L80.5,2884.0 L79.8,2880.8 L79.1,2877.7 L78.4,2874.5 L77.7,2871.3 L77.0,2868.1 L76.4,2864.9 L75.7,2861.6 L75.0,2858.3 L74.4,2855.0 L73.7,2851.6 L73.1,2848.3 L72.4,2844.9 L71.8,2841.4 L71.1,2838.0 L70.5,2834.5 L69.9,2831.0 L69.3,2827.5 L68.6,2824.0 L68.0,2820.4 L67.4,2816.8 L66.8,2813.2 L66.2,2809.6 L65.6,2805.9 L65.0,2802.2 L64.4,2798.5 L63.8,2794.7 L63.3,2791.0 L62.7,2787.2 L62.1,2783.4 L61.5,2779.5 L61.0,2775.7 L60.4,2771.8 L59.9,2767.9 L59.3,2764.0 L58.8,2760.0 L58.2,2756.0 L57.7,2752.0 L57.1,2748.0 L56.6,2743.9 L56.0,2739.9 L55.5,2735.8 L55.0,2731.7 L54.5,2727.5 L53.9,2723.3 L53.4,2719.1 L52.9,2714.9 L52.4,2710.7 L51.9,2706.4 L51.4,2702.1 L50.9,2697.8 L50.4,2693.5 L49.9,2689.1 L49.4,2684.8 L48.9,2680.4 L48.4,2675.9 L47.9,2671.5 L47.4,2667.0 L46.9,2662.5 L46.5,2658.7"/>
<path d="M189.6,3173.8 L189.4,3173.7 L188.9,3173.6 L188.2,3173.4 L187.2,3173.1 L186.1,3172.8 L184.7,3172.4 L183.3,3171.9 L181.6,3171.4 L179.9,3170.8 L178.0,3170.2 L176.1,3169.5 L174.1,3168.8 L172.0,3168.0 L169.9,3167.2 L167.7,3166.3 L165.5,3165.4 L163.3,3164.4 L161.1,3163.4 L159.0,3162.4 L156.8,3161.3 L154.7,3160.1 L152.6,3158.9 L150.5,3157.7 L148.5,3156.4 L146.6,3155.1 L144.7,3153.7 L142.8,3152.3 L141.1,3150.8 L139.3,3149.3 L137.7,3147.8 L136.1,3146.2 L134.6,3144.6 L133.1,3142.9 L131.7,3141.2 L130.4,3139.5 L129.1,3137.7 L127.9,3135.8 L126.7,3134.0 L125.6,3132.1 L124.6,3130.1 L123.5,3128.1 L122.6,3126.1 L121.6,3124.1 L120.7,3122.0 L119.9,3119.8 L119.0,3117.6 L118.2,3115.4 L117.5,3113.2 L116.7,3110.9 L116.0,3108.5 L115.3,3106.2 L114.6,3103.8 L113.9,3101.3 L113.3,3098.9 L112.6,3096.3 L112.0,3093.8 L111.3,3091.2 L110.7,3088.6 L110.1,3085.9 L109.5,3083.2 L108.9,3080.5 L108.3,3077.7 L107.7,3074.9 L107.1,3072.0 L106.5,3069.2 L105.9,3066.2 L105.3,3063.3 L104.7,3060.3 L104.1,3057.3 L103.5,3054.2 L102.9,3051.1 L102.3,3048.0 L101.7,3044.8 L101.1,3041.7 L100.5,3038.4 L99.9,3035.2 L99.3,3031.9 L98.7,3028.5 L98.1,3025.1 L97.5,3021.7 L96.9,3018.3 L96.2,3014.8 L95.6,3011.3 L95.0,3007.8 L94.4,3004.2 L93.7,3000.6 L93.1,2997.0 L92.5,2993.3 L91.8,2989.6 L91.2,2985.8 L90.5,2982.1 L89.9,2978.2 L89.2,2974.4 L88.6,2970.5 L87.9,2966.6 L87.3,2962.7 L86.6,2958.7 L86.0,2954.7 L85.3,2950.7 L84.6,2946.6 L84.0,2942.5 L83.3,2938.3 L82.7,2934.2 L82.0,2930.0 L81.3,2925.7 L80.7,2921.5 L80.0,2917.2 L79.3,2912.8 L78.7,2908.5 L78.0,2904.1 L77.3,2899.6 L76.6,2895.2 L76.0,2890.7 L75.3,2886.1 L74.6,2881.6 L73.9,2877.0 L73.3,2872.4 L72.6,2867.7 L71.9,2863.0 L71.3,2858.3 L70.6,2853.6 L69.9,2848.8 L69.2,2844.0 L68.6,2839.1 L67.9,2834.3 L67.2,2829.4 L66.5,2824.4 L65.9,2819.5 L65.2,2814.5 L64.5,2809.4 L63.9,2804.4 L63.2,2799.3 L62.5,2794.2 L61.9,2789.0 L61.2,2783.8 L60.5,2778.6 L59.9,2773.4 L59.2,2768.1 L58.5,2762.8 L57.9,2757.4 L57.2,2752.1 L56.6,2746.7 L55.9,2741.2 L55.2,2735.8 L54.6,2730.3 L53.9,2724.8 L53.3,2719.2 L52.6,2713.6 L52.0,2708.0 L51.3,2702.4 L50.7,2696.7 L50.1,2691.0 L49.4,2685.3 L48.8,2679.5 L48.2,2673.7 L47.5,2667.9 L46.9,2662.0 L46.5,2658.7"/>
<path d="M176.1,3223.4 L175.9,3223.4 L175.5,3223.2 L174.8,3223.0 L173.9,3222.7 L172.8,3222.3 L171.6,3221.9 L170.2,3221.4 L168.7,3220.8 L167.1,3220.2 L165.5,3219.5 L163.7,3218.8 L161.9,3218.0 L160.0,3217.1 L158.1,3216.2 L156.2,3215.3 L154.3,3214.3 L152.4,3213.2 L150.5,3212.1 L148.7,3210.9 L146.9,3209.7 L145.1,3208.5 L143.3,3207.2 L141.6,3205.8 L140.0,3204.4 L138.4,3203.0 L136.9,3201.5 L135.4,3199.9 L134.0,3198.3 L132.7,3196.7 L131.4,3195.0 L130.1,3193.3 L129.0,3191.5 L127.8,3189.7 L126.8,3187.8 L125.7,3185.9 L124.8,3183.9 L123.8,3181.9 L123.0,3179.9 L122.1,3177.8 L121.3,3175.7 L120.5,3173.5 L119.8,3171.3 L119.0,3169.0 L118.3,3166.7 L117.6,3164.4 L117.0,3162.0 L116.3,3159.6 L115.7,3157.1 L115.1,3154.6 L114.5,3152.1 L113.9,3149.5 L113.3,3146.9 L112.7,3144.2 L112.1,3141.5 L111.5,3138.7 L111.0,3135.9 L110.4,3133.1 L109.8,3130.2 L109.3,3127.3 L108.7,3124.4 L108.1,3121.4 L107.5,3118.3 L107.0,3115.3 L106.4,3112.1 L105.8,3109.0 L105.2,3105.8 L104.7,3102.6 L104.1,3099.3 L103.5,3096.0 L102.9,3092.7 L102.3,3089.3 L101.7,3085.9 L101.1,3082.4 L100.5,3078.9 L99.9,3075.4 L99.3,3071.8 L98.7,3068.2 L98.1,3064.5 L97.4,3060.9 L96.8,3057.1 L96.2,3053.4 L95.6,3049.6 L94.9,3045.7 L94.3,3041.9 L93.7,3038.0 L93.0,3034.0 L92.4,3030.0 L91.8,3026.0 L91.1,3021.9 L90.5,3017.9 L89.8,3013.7 L89.2,3009.6 L88.5,3005.4 L87.9,3001.1 L87.2,2996.8 L86.6,2992.5 L85.9,2988.2 L85.2,2983.8 L84.6,2979.4 L83.9,2974.9 L83.3,2970.4 L82.6,2965.9 L81.9,2961.3 L81.3,2956.7 L80.6,2952.1 L79.9,2947.4 L79.3,2942.7 L78.6,2938.0 L77.9,2933.2 L77.3,2928.4 L76.6,2923.6 L75.9,2918.7 L75.3,2913.8 L74.6,2908.8 L73.9,2903.8 L73.3,2898.8 L72.6,2893.8 L71.9,2888.7 L71.3,2883.5 L70.6,2878.4 L69.9,2873.2 L69.3,2868.0 L68.6,2862.7 L67.9,2857.4 L67.3,2852.1 L66.6,2846.7 L66.0,2841.3 L65.3,2835.9 L64.6,2830.4 L64.0,2824.9 L63.3,2819.4 L62.7,2813.8 L62.0,2808.2 L61.4,2802.6 L60.7,2796.9 L60.1,2791.2 L59.4,2785.5 L58.8,2779.7 L58.1,2773.9 L57.5,2768.0 L56.8,2762.2 L56.2,2756.3 L55.5,2750.3 L54.9,2744.3 L54.3,2738.3 L53.6,2732.3 L53.0,2726.2 L52.4,2720.1 L51.7,2714.0 L51.1,2707.8 L50.5,2701.6 L49.9,2695.4 L49.3,2689.1 L48.6,2682.8 L48.0,2676.5 L47.4,2670.1 L46.8,2663.7 L46.3,2658.7"/>
<path d="M172.3,3290.2 L172.1,3290.2 L171.6,3290.0 L170.8,3289.7 L169.8,3289.4 L168.6,3289.0 L167.3,3288.5 L165.8,3287.9 L164.2,3287.3 L162.4,3286.6 L160.6,3285.9 L158.8,3285.0 L156.9,3284.2 L154.9,3283.2 L153.0,3282.2 L151.0,3281.1 L149.1,3280.0 L147.2,3278.8 L145.3,3277.6 L143.5,3276.3 L141.8,3275.0 L140.1,3273.5 L138.4,3272.1 L136.9,3270.6 L135.4,3269.0 L133.9,3267.4 L132.6,3265.7 L131.3,3264.0 L130.0,3262.2 L128.9,3260.4 L127.8,3258.5 L126.7,3256.6 L125.8,3254.6 L124.8,3252.6 L123.9,3250.5 L123.1,3248.4 L122.3,3246.2 L121.5,3244.0 L120.8,3241.7 L120.1,3239.4 L119.4,3237.0 L118.8,3234.6 L118.1,3232.1 L117.5,3229.6 L116.9,3227.0 L116.3,3224.4 L115.7,3221.7 L115.2,3219.0 L114.6,3216.3 L114.0,3213.5 L113.5,3210.6 L112.9,3207.8 L112.4,3204.8 L111.8,3201.8 L111.3,3198.8 L110.7,3195.7 L110.2,3192.6 L109.6,3189.5 L109.0,3186.3 L108.5,3183.0 L107.9,3179.7 L107.4,3176.4 L106.8,3173.0 L106.2,3169.6 L105.6,3166.1 L105.1,3162.6 L104.5,3159.0 L103.9,3155.4 L103.3,3151.8 L102.7,3148.1 L102.1,3144.4 L101.5,3140.6 L100.9,3136.8 L100.3,3132.9 L99.7,3129.0 L99.1,3125.1 L98.4,3121.1 L97.8,3117.1 L97.2,3113.0 L96.6,3108.9 L95.9,3104.7 L95.3,3100.6 L94.7,3096.3 L94.0,3092.0 L93.4,3087.7 L92.8,3083.4 L92.1,3079.0 L91.5,3074.5 L90.8,3070.0 L90.2,3065.5 L89.5,3060.9 L88.9,3056.3 L88.2,3051.7 L87.6,3047.0 L86.9,3042.3 L86.3,3037.5 L85.6,3032.7 L84.9,3027.8 L84.3,3023.0 L83.6,3018.0 L83.0,3013.1 L82.3,3008.0 L81.6,3003.0 L81.0,2997.9 L80.3,2992.8 L79.7,2987.6 L79.0,2982.4 L78.3,2977.2 L77.7,2971.9 L77.0,2966.5 L76.3,2961.2 L75.7,2955.8 L75.0,2950.3 L74.4,2944.8 L73.7,2939.3 L73.0,2933.8 L72.4,2928.2 L71.7,2922.5 L71.1,2916.9 L70.4,2911.1 L69.7,2905.4 L69.1,2899.6 L68.4,2893.8 L67.8,2887.9 L67.1,2882.0 L66.5,2876.0 L65.8,2870.1 L65.2,2864.0 L64.5,2858.0 L63.9,2851.9 L63.3,2845.7 L62.6,2839.6 L62.0,2833.4 L61.3,2827.1 L60.7,2820.8 L60.1,2814.5 L59.4,2808.1 L58.8,2801.7 L58.2,2795.3 L57.6,2788.8 L56.9,2782.3 L56.3,2775.8 L55.7,2769.2 L55.1,2762.5 L54.5,2755.9 L53.8,2749.2 L53.2,2742.5 L52.6,2735.7 L52.0,2728.9 L51.4,2722.0 L50.8,2715.1 L50.2,2708.2 L49.6,2701.3 L49.1,2694.3 L48.5,2687.2 L47.9,2680.2 L47.3,2673.1 L46.7,2665.9 L46.1,2658.8 L46.1,2658.8"/>
<path d="M169.1,3357.0 L168.9,3357.0 L168.3,3356.8 L167.5,3356.5 L166.4,3356.1 L165.1,3355.7 L163.7,3355.1 L162.0,3354.5 L160.3,3353.8 L158.5,3353.0 L156.6,3352.2 L154.7,3351.3 L152.7,3350.3 L150.7,3349.3 L148.7,3348.2 L146.8,3347.0 L144.9,3345.8 L143.0,3344.5 L141.2,3343.1 L139.5,3341.7 L137.9,3340.2 L136.3,3338.6 L134.8,3337.0 L133.3,3335.3 L132.0,3333.6 L130.7,3331.8 L129.5,3330.0 L128.4,3328.1 L127.3,3326.1 L126.3,3324.1 L125.4,3322.0 L124.5,3319.9 L123.7,3317.7 L122.9,3315.5 L122.1,3313.2 L121.4,3310.8 L120.8,3308.4 L120.1,3306.0 L119.5,3303.5 L118.9,3300.9 L118.3,3298.3 L117.7,3295.6 L117.1,3292.9 L116.6,3290.1 L116.0,3287.3 L115.5,3284.4 L114.9,3281.5 L114.4,3278.5 L113.9,3275.4 L113.3,3272.4 L112.8,3269.2 L112.2,3266.0 L111.7,3262.8 L111.1,3259.5 L110.6,3256.2 L110.0,3252.8 L109.5,3249.3 L108.9,3245.9 L108.4,3242.3 L107.8,3238.7 L107.2,3235.1 L106.7,3231.4 L106.1,3227.7 L105.5,3223.9 L104.9,3220.1 L104.3,3216.2 L103.7,3212.3 L103.1,3208.3 L102.5,3204.3 L101.9,3200.2 L101.3,3196.1 L100.7,3191.9 L100.1,3187.7 L99.5,3183.5 L98.8,3179.2 L98.2,3174.8 L97.6,3170.4 L97.0,3166.0 L96.3,3161.5 L95.7,3156.9 L95.1,3152.4 L94.4,3147.7 L93.8,3143.1 L93.1,3138.3 L92.5,3133.6 L91.8,3128.8 L91.2,3123.9 L90.5,3119.0 L89.9,3114.1 L89.2,3109.1 L88.6,3104.0 L87.9,3098.9 L87.3,3093.8 L86.6,3088.6 L86.0,3083.4 L85.3,3078.2 L84.6,3072.9 L84.0,3067.5 L83.3,3062.1 L82.7,3056.7 L82.0,3051.2 L81.3,3045.7 L80.7,3040.1 L80.0,3034.5 L79.4,3028.8 L78.7,3023.1 L78.0,3017.4 L77.4,3011.6 L76.7,3005.7 L76.1,2999.9 L75.4,2993.9 L74.8,2988.0 L74.1,2982.0 L73.4,2975.9 L72.8,2969.8 L72.1,2963.7 L71.5,2957.5 L70.8,2951.3 L70.2,2945.0 L69.5,2938.7 L68.9,2932.4 L68.3,2926.0 L67.6,2919.6 L67.0,2913.1 L66.3,2906.6 L65.7,2900.0 L65.1,2893.4 L64.4,2886.8 L63.8,2880.1 L63.2,2873.3 L62.5,2866.6 L61.9,2859.8 L61.3,2852.9 L60.7,2846.0 L60.1,2839.1 L59.4,2832.1 L58.8,2825.1 L58.2,2818.0 L57.6,2810.9 L57.0,2803.8 L56.4,2796.6 L55.8,2789.4 L55.2,2782.1 L54.6,2774.8 L54.0,2767.4 L53.4,2760.0 L52.9,2752.6 L52.3,2745.1 L51.7,2737.6 L51.1,2730.1 L50.5,2722.5 L50.0,2714.8 L49.4,2707.2 L48.8,2699.4 L48.3,2691.7 L47.7,2683.9 L47.2,2676.1 L46.6,2668.2 L46.1,2660.3 L46.0,2658.8"/>
<path d="M144.1,3410.3 L144.0,3410.2 L143.7,3410.0 L143.3,3409.7 L142.8,3409.3 L142.2,3408.8 L141.5,3408.2 L140.7,3407.6 L139.9,3406.8 L139.1,3406.0 L138.2,3405.1 L137.2,3404.1 L136.3,3403.1 L135.4,3401.9 L134.4,3400.8 L133.5,3399.5 L132.6,3398.2 L131.7,3396.8 L130.8,3395.3 L130.0,3393.8 L129.2,3392.2 L128.4,3390.5 L127.7,3388.8 L126.9,3387.0 L126.2,3385.1 L125.6,3383.2 L124.9,3381.2 L124.3,3379.2 L123.7,3377.1 L123.1,3374.9 L122.5,3372.7 L122.0,3370.4 L121.5,3368.0 L120.9,3365.6 L120.4,3363.2 L119.9,3360.6 L119.4,3358.0 L118.9,3355.4 L118.4,3352.7 L117.9,3349.9 L117.4,3347.1 L116.9,3344.3 L116.4,3341.3 L115.9,3338.3 L115.4,3335.3 L114.9,3332.2 L114.4,3329.1 L113.9,3325.9 L113.3,3322.6 L112.8,3319.3 L112.3,3315.9 L111.7,3312.5 L111.2,3309.0 L110.7,3305.5 L110.1,3301.9 L109.5,3298.2 L109.0,3294.5 L108.4,3290.8 L107.9,3287.0 L107.3,3283.1 L106.7,3279.2 L106.1,3275.3 L105.5,3271.3 L104.9,3267.2 L104.3,3263.1 L103.7,3258.9 L103.1,3254.7 L102.5,3250.4 L101.9,3246.1 L101.3,3241.7 L100.7,3237.3 L100.1,3232.8 L99.4,3228.3 L98.8,3223.8 L98.2,3219.1 L97.5,3214.5 L96.9,3209.7 L96.3,3204.9 L95.6,3200.1 L95.0,3195.2 L94.4,3190.3 L93.7,3185.4 L93.1,3180.3 L92.4,3175.3 L91.8,3170.1 L91.1,3165.0 L90.5,3159.7 L89.8,3154.5 L89.1,3149.2 L88.5,3143.8 L87.8,3138.4 L87.2,3132.9 L86.5,3127.4 L85.9,3121.8 L85.2,3116.2 L84.5,3110.6 L83.9,3104.9 L83.2,3099.1 L82.6,3093.3 L81.9,3087.5 L81.2,3081.6 L80.6,3075.6 L79.9,3069.7 L79.3,3063.6 L78.6,3057.5 L78.0,3051.4 L77.3,3045.2 L76.6,3039.0 L76.0,3032.7 L75.3,3026.4 L74.7,3020.1 L74.0,3013.7 L73.4,3007.2 L72.7,3000.7 L72.1,2994.2 L71.4,2987.6 L70.8,2980.9 L70.2,2974.2 L69.5,2967.5 L68.9,2960.7 L68.2,2953.9 L67.6,2947.0 L67.0,2940.1 L66.3,2933.2 L65.7,2926.2 L65.1,2919.1 L64.5,2912.0 L63.8,2904.9 L63.2,2897.7 L62.6,2890.5 L62.0,2883.2 L61.4,2875.9 L60.8,2868.5 L60.2,2861.1 L59.6,2853.6 L59.0,2846.1 L58.4,2838.6 L57.8,2831.0 L57.2,2823.4 L56.6,2815.7 L56.0,2808.0 L55.4,2800.2 L54.8,2792.4 L54.3,2784.5 L53.7,2776.6 L53.1,2768.7 L52.6,2760.7 L52.0,2752.7 L51.4,2744.6 L50.9,2736.5 L50.3,2728.3 L49.8,2720.1 L49.2,2711.9 L48.7,2703.6 L48.2,2695.2 L47.6,2686.8 L47.1,2678.4 L46.6,2670.0 L46.0,2661.4 L45.9,2658.8"/>
<path d="M155.6,3488.3 L155.4,3488.3 L154.9,3488.0 L154.1,3487.7 L153.2,3487.2 L152.1,3486.7 L150.8,3486.1 L149.4,3485.3 L148.0,3484.5 L146.4,3483.6 L144.9,3482.6 L143.3,3481.5 L141.7,3480.4 L140.2,3479.1 L138.6,3477.8 L137.2,3476.4 L135.7,3475.0 L134.4,3473.4 L133.1,3471.8 L131.9,3470.1 L130.7,3468.4 L129.6,3466.5 L128.6,3464.6 L127.6,3462.6 L126.7,3460.6 L125.9,3458.5 L125.1,3456.3 L124.4,3454.0 L123.7,3451.7 L123.0,3449.3 L122.4,3446.9 L121.8,3444.4 L121.2,3441.8 L120.6,3439.1 L120.1,3436.4 L119.5,3433.6 L119.0,3430.8 L118.5,3427.9 L118.0,3424.9 L117.4,3421.8 L116.9,3418.7 L116.4,3415.6 L115.9,3412.4 L115.4,3409.1 L114.9,3405.7 L114.3,3402.3 L113.8,3398.8 L113.3,3395.3 L112.7,3391.7 L112.2,3388.0 L111.7,3384.3 L111.1,3380.6 L110.5,3376.7 L110.0,3372.8 L109.4,3368.9 L108.8,3364.9 L108.3,3360.8 L107.7,3356.7 L107.1,3352.5 L106.5,3348.2 L105.9,3343.9 L105.3,3339.6 L104.7,3335.2 L104.1,3330.7 L103.5,3326.1 L102.9,3321.5 L102.3,3316.9 L101.6,3312.2 L101.0,3307.4 L100.4,3302.6 L99.8,3297.7 L99.1,3292.8 L98.5,3287.8 L97.9,3282.8 L97.2,3277.7 L96.6,3272.5 L95.9,3267.3 L95.3,3262.1 L94.6,3256.8 L94.0,3251.4 L93.3,3246.0 L92.7,3240.5 L92.0,3234.9 L91.4,3229.4 L90.7,3223.7 L90.0,3218.0 L89.4,3212.3 L88.7,3206.5 L88.1,3200.6 L87.4,3194.7 L86.7,3188.7 L86.1,3182.7 L85.4,3176.6 L84.8,3170.5 L84.1,3164.3 L83.4,3158.1 L82.8,3151.8 L82.1,3145.5 L81.5,3139.1 L80.8,3132.6 L80.1,3126.1 L79.5,3119.6 L78.8,3113.0 L78.2,3106.4 L77.5,3099.7 L76.9,3092.9 L76.2,3086.1 L75.6,3079.2 L74.9,3072.3 L74.3,3065.4 L73.6,3058.4 L73.0,3051.3 L72.3,3044.2 L71.7,3037.0 L71.1,3029.8 L70.4,3022.5 L69.8,3015.2 L69.2,3007.9 L68.5,3000.4 L67.9,2993.0 L67.3,2985.5 L66.7,2977.9 L66.0,2970.3 L65.4,2962.6 L64.8,2954.9 L64.2,2947.1 L63.6,2939.3 L63.0,2931.4 L62.4,2923.5 L61.8,2915.5 L61.2,2907.5 L60.6,2899.5 L60.0,2891.3 L59.4,2883.2 L58.8,2875.0 L58.3,2866.7 L57.7,2858.4 L57.1,2850.0 L56.6,2841.6 L56.0,2833.1 L55.4,2824.6 L54.9,2816.1 L54.3,2807.5 L53.8,2798.8 L53.2,2790.1 L52.7,2781.4 L52.1,2772.6 L51.6,2763.7 L51.1,2754.8 L50.5,2745.9 L50.0,2736.9 L49.5,2727.8 L49.0,2718.7 L48.5,2709.6 L48.0,2700.4 L47.5,2691.2 L47.0,2681.9 L46.5,2672.6 L46.0,2663.2 L45.7,2658.8"/>
<path d="M132.8,3543.8 L132.7,3543.7 L132.6,3543.5 L132.4,3543.1 L132.2,3542.6 L131.9,3542.0 L131.6,3541.4 L131.2,3540.6 L130.8,3539.7 L130.4,3538.7 L130.0,3537.7 L129.5,3536.5 L129.1,3535.3 L128.6,3534.0 L128.2,3532.6 L127.7,3531.1 L127.3,3529.5 L126.8,3527.9 L126.3,3526.2 L125.9,3524.4 L125.5,3522.5 L125.0,3520.5 L124.6,3518.5 L124.2,3516.4 L123.7,3514.2 L123.3,3512.0 L122.9,3509.6 L122.4,3507.2 L122.0,3504.8 L121.6,3502.2 L121.1,3499.6 L120.7,3496.9 L120.2,3494.2 L119.8,3491.3 L119.3,3488.4 L118.9,3485.5 L118.4,3482.4 L117.9,3479.3 L117.5,3476.2 L117.0,3472.9 L116.5,3469.6 L116.0,3466.2 L115.5,3462.8 L115.0,3459.3 L114.4,3455.7 L113.9,3452.1 L113.4,3448.4 L112.8,3444.6 L112.3,3440.8 L111.8,3436.9 L111.2,3433.0 L110.6,3428.9 L110.1,3424.8 L109.5,3420.7 L108.9,3416.5 L108.3,3412.2 L107.7,3407.9 L107.2,3403.5 L106.6,3399.0 L106.0,3394.5 L105.4,3389.9 L104.7,3385.2 L104.1,3380.5 L103.5,3375.8 L102.9,3370.9 L102.3,3366.0 L101.6,3361.1 L101.0,3356.1 L100.4,3351.0 L99.7,3345.9 L99.1,3340.7 L98.5,3335.4 L97.8,3330.1 L97.2,3324.7 L96.5,3319.3 L95.9,3313.8 L95.2,3308.3 L94.6,3302.7 L93.9,3297.0 L93.2,3291.3 L92.6,3285.5 L91.9,3279.6 L91.3,3273.7 L90.6,3267.8 L89.9,3261.8 L89.3,3255.7 L88.6,3249.6 L88.0,3243.4 L87.3,3237.1 L86.6,3230.8 L86.0,3224.5 L85.3,3218.1 L84.6,3211.6 L84.0,3205.1 L83.3,3198.5 L82.7,3191.8 L82.0,3185.1 L81.3,3178.4 L80.7,3171.6 L80.0,3164.7 L79.4,3157.8 L78.7,3150.8 L78.1,3143.8 L77.4,3136.7 L76.7,3129.6 L76.1,3122.4 L75.5,3115.1 L74.8,3107.8 L74.2,3100.4 L73.5,3093.0 L72.9,3085.6 L72.2,3078.0 L71.6,3070.5 L71.0,3062.8 L70.3,3055.1 L69.7,3047.4 L69.1,3039.6 L68.5,3031.7 L67.8,3023.8 L67.2,3015.9 L66.6,3007.9 L66.0,2999.8 L65.4,2991.7 L64.8,2983.5 L64.2,2975.3 L63.6,2967.0 L63.0,2958.7 L62.4,2950.3 L61.8,2941.8 L61.2,2933.4 L60.6,2924.8 L60.1,2916.2 L59.5,2907.6 L58.9,2898.9 L58.4,2890.1 L57.8,2881.3 L57.2,2872.4 L56.7,2863.5 L56.1,2854.6 L55.6,2845.5 L55.0,2836.5 L54.5,2827.4 L54.0,2818.2 L53.4,2809.0 L52.9,2799.7 L52.4,2790.4 L51.8,2781.0 L51.3,2771.6 L50.8,2762.1 L50.3,2752.5 L49.8,2743.0 L49.3,2733.3 L48.8,2723.6 L48.3,2713.9 L47.8,2704.1 L47.3,2694.3 L46.9,2684.4 L46.4,2674.4 L45.9,2664.4 L45.7,2658.8"/>
<path d="M154.0,3615.7 L153.8,3615.5 L153.2,3615.3 L152.3,3614.9 L151.2,3614.4 L150.0,3613.8 L148.6,3613.0 L147.0,3612.2 L145.4,3611.2 L143.8,3610.2 L142.1,3609.0 L140.5,3607.8 L138.9,3606.5 L137.3,3605.1 L135.8,3603.5 L134.4,3601.9 L133.0,3600.3 L131.7,3598.5 L130.5,3596.6 L129.4,3594.7 L128.4,3592.6 L127.5,3590.5 L126.6,3588.3 L125.7,3586.1 L125.0,3583.7 L124.3,3581.3 L123.6,3578.8 L123.0,3576.2 L122.4,3573.5 L121.8,3570.7 L121.2,3567.9 L120.7,3565.0 L120.2,3562.0 L119.7,3559.0 L119.1,3555.9 L118.6,3552.7 L118.1,3549.4 L117.6,3546.0 L117.1,3542.6 L116.6,3539.1 L116.1,3535.5 L115.6,3531.9 L115.0,3528.2 L114.5,3524.4 L114.0,3520.6 L113.4,3516.6 L112.9,3512.6 L112.3,3508.6 L111.8,3504.4 L111.2,3500.2 L110.6,3495.9 L110.0,3491.6 L109.5,3487.2 L108.9,3482.7 L108.3,3478.2 L107.7,3473.5 L107.1,3468.9 L106.5,3464.1 L105.9,3459.3 L105.2,3454.4 L104.6,3449.4 L104.0,3444.4 L103.4,3439.3 L102.7,3434.2 L102.1,3429.0 L101.5,3423.7 L100.8,3418.3 L100.2,3412.9 L99.5,3407.5 L98.9,3401.9 L98.2,3396.3 L97.6,3390.6 L96.9,3384.9 L96.3,3379.1 L95.6,3373.2 L95.0,3367.3 L94.3,3361.3 L93.6,3355.2 L93.0,3349.1 L92.3,3342.9 L91.6,3336.7 L91.0,3330.4 L90.3,3324.0 L89.6,3317.6 L89.0,3311.1 L88.3,3304.5 L87.6,3297.9 L87.0,3291.2 L86.3,3284.5 L85.6,3277.7 L85.0,3270.8 L84.3,3263.9 L83.6,3256.9 L83.0,3249.9 L82.3,3242.8 L81.7,3235.6 L81.0,3228.3 L80.3,3221.1 L79.7,3213.7 L79.0,3206.3 L78.4,3198.8 L77.7,3191.3 L77.1,3183.7 L76.4,3176.0 L75.8,3168.3 L75.1,3160.6 L74.5,3152.7 L73.8,3144.8 L73.2,3136.9 L72.6,3128.9 L71.9,3120.8 L71.3,3112.7 L70.7,3104.5 L70.1,3096.3 L69.4,3087.9 L68.8,3079.6 L68.2,3071.2 L67.6,3062.7 L67.0,3054.2 L66.4,3045.6 L65.8,3036.9 L65.2,3028.2 L64.6,3019.4 L64.0,3010.6 L63.4,3001.7 L62.8,2992.8 L62.2,2983.8 L61.7,2974.7 L61.1,2965.6 L60.5,2956.4 L60.0,2947.2 L59.4,2937.9 L58.8,2928.6 L58.3,2919.2 L57.7,2909.7 L57.2,2900.2 L56.6,2890.7 L56.1,2881.0 L55.6,2871.4 L55.1,2861.6 L54.5,2851.8 L54.0,2842.0 L53.5,2832.1 L53.0,2822.1 L52.5,2812.1 L52.0,2802.0 L51.5,2791.9 L51.0,2781.7 L50.5,2771.5 L50.0,2761.2 L49.5,2750.8 L49.1,2740.4 L48.6,2730.0 L48.1,2719.5 L47.7,2708.9 L47.2,2698.3 L46.8,2687.6 L46.3,2676.8 L45.9,2666.0 L45.6,2658.8"/>
<path d="M167.5,3690.3 L167.1,3690.2 L166.2,3690.0 L164.8,3689.5 L163.0,3689.0 L160.9,3688.3 L158.7,3687.5 L156.2,3686.6 L153.7,3685.6 L151.2,3684.5 L148.6,3683.2 L146.1,3681.9 L143.7,3680.5 L141.4,3678.9 L139.2,3677.3 L137.2,3675.6 L135.3,3673.8 L133.5,3671.9 L131.9,3669.9 L130.5,3667.8 L129.2,3665.6 L128.0,3663.3 L126.9,3660.9 L125.9,3658.5 L125.1,3656.0 L124.2,3653.3 L123.5,3650.6 L122.8,3647.8 L122.1,3645.0 L121.5,3642.0 L120.9,3639.0 L120.4,3635.8 L119.8,3632.6 L119.3,3629.3 L118.8,3626.0 L118.2,3622.5 L117.7,3619.0 L117.2,3615.4 L116.7,3611.7 L116.2,3607.9 L115.6,3604.1 L115.1,3600.2 L114.5,3596.2 L114.0,3592.1 L113.4,3587.9 L112.9,3583.7 L112.3,3579.4 L111.7,3575.0 L111.2,3570.6 L110.6,3566.0 L110.0,3561.4 L109.4,3556.8 L108.8,3552.0 L108.2,3547.2 L107.6,3542.3 L107.0,3537.3 L106.4,3532.3 L105.7,3527.2 L105.1,3522.0 L104.5,3516.7 L103.9,3511.4 L103.2,3506.0 L102.6,3500.5 L101.9,3494.9 L101.3,3489.3 L100.6,3483.6 L100.0,3477.9 L99.3,3472.0 L98.7,3466.1 L98.0,3460.2 L97.3,3454.1 L96.7,3448.0 L96.0,3441.8 L95.4,3435.6 L94.7,3429.3 L94.0,3422.9 L93.3,3416.4 L92.7,3409.9 L92.0,3403.3 L91.3,3396.7 L90.7,3390.0 L90.0,3383.2 L89.3,3376.3 L88.6,3369.4 L88.0,3362.4 L87.3,3355.3 L86.6,3348.2 L86.0,3341.0 L85.3,3333.7 L84.6,3326.4 L83.9,3319.0 L83.3,3311.5 L82.6,3304.0 L81.9,3296.4 L81.3,3288.8 L80.6,3281.1 L80.0,3273.3 L79.3,3265.4 L78.6,3257.5 L78.0,3249.5 L77.3,3241.5 L76.7,3233.4 L76.0,3225.2 L75.4,3216.9 L74.8,3208.6 L74.1,3200.3 L73.5,3191.8 L72.9,3183.3 L72.2,3174.8 L71.6,3166.1 L71.0,3157.5 L70.3,3148.7 L69.7,3139.9 L69.1,3131.0 L68.5,3122.1 L67.9,3113.1 L67.3,3104.0 L66.7,3094.9 L66.1,3085.7 L65.5,3076.4 L64.9,3067.1 L64.3,3057.7 L63.8,3048.3 L63.2,3038.8 L62.6,3029.2 L62.0,3019.6 L61.5,3009.9 L60.9,3000.1 L60.4,2990.3 L59.8,2980.4 L59.3,2970.5 L58.7,2960.5 L58.2,2950.5 L57.6,2940.3 L57.1,2930.2 L56.6,2919.9 L56.1,2909.6 L55.6,2899.2 L55.0,2888.8 L54.5,2878.3 L54.0,2867.8 L53.5,2857.2 L53.0,2846.5 L52.6,2835.8 L52.1,2825.0 L51.6,2814.2 L51.1,2803.3 L50.7,2792.3 L50.2,2781.3 L49.7,2770.2 L49.3,2759.0 L48.8,2747.8 L48.4,2736.6 L47.9,2725.2 L47.5,2713.8 L47.1,2702.4 L46.7,2690.9 L46.2,2679.3 L45.8,2667.7 L45.5,2658.8"/>
<path d="M161.0,3755.2 L160.6,3755.0 L159.8,3754.7 L158.5,3754.3 L156.9,3753.7 L155.1,3753.0 L153.0,3752.1 L150.8,3751.2 L148.6,3750.1 L146.3,3748.9 L144.1,3747.6 L141.9,3746.2 L139.8,3744.7 L137.8,3743.0 L136.0,3741.3 L134.2,3739.5 L132.6,3737.5 L131.2,3735.5 L129.9,3733.4 L128.7,3731.2 L127.6,3728.8 L126.6,3726.4 L125.7,3723.9 L124.9,3721.3 L124.1,3718.6 L123.4,3715.8 L122.8,3713.0 L122.2,3710.0 L121.6,3706.9 L121.0,3703.8 L120.5,3700.6 L119.9,3697.2 L119.4,3693.8 L118.9,3690.4 L118.4,3686.8 L117.9,3683.1 L117.3,3679.4 L116.8,3675.5 L116.3,3671.6 L115.8,3667.6 L115.2,3663.5 L114.7,3659.4 L114.1,3655.1 L113.6,3650.8 L113.0,3646.4 L112.4,3641.9 L111.8,3637.3 L111.3,3632.7 L110.7,3628.0 L110.1,3623.1 L109.5,3618.3 L108.9,3613.3 L108.2,3608.2 L107.6,3603.1 L107.0,3597.9 L106.4,3592.6 L105.8,3587.3 L105.1,3581.8 L104.5,3576.3 L103.8,3570.7 L103.2,3565.1 L102.5,3559.3 L101.9,3553.5 L101.2,3547.6 L100.6,3541.7 L99.9,3535.6 L99.2,3529.5 L98.6,3523.3 L97.9,3517.1 L97.2,3510.7 L96.6,3504.3 L95.9,3497.8 L95.2,3491.3 L94.6,3484.6 L93.9,3477.9 L93.2,3471.1 L92.5,3464.3 L91.8,3457.4 L91.2,3450.4 L90.5,3443.3 L89.8,3436.1 L89.1,3428.9 L88.5,3421.6 L87.8,3414.3 L87.1,3406.9 L86.4,3399.4 L85.7,3391.8 L85.1,3384.1 L84.4,3376.4 L83.7,3368.7 L83.1,3360.8 L82.4,3352.9 L81.7,3344.9 L81.1,3336.8 L80.4,3328.7 L79.7,3320.5 L79.1,3312.2 L78.4,3303.9 L77.8,3295.5 L77.1,3287.0 L76.5,3278.5 L75.8,3269.8 L75.2,3261.2 L74.5,3252.4 L73.9,3243.6 L73.3,3234.7 L72.6,3225.7 L72.0,3216.7 L71.4,3207.6 L70.8,3198.5 L70.1,3189.2 L69.5,3179.9 L68.9,3170.6 L68.3,3161.2 L67.7,3151.7 L67.1,3142.1 L66.5,3132.5 L65.9,3122.8 L65.4,3113.0 L64.8,3103.2 L64.2,3093.3 L63.6,3083.3 L63.1,3073.3 L62.5,3063.2 L61.9,3053.1 L61.4,3042.8 L60.8,3032.5 L60.3,3022.2 L59.7,3011.8 L59.2,3001.3 L58.7,2990.7 L58.1,2980.1 L57.6,2969.4 L57.1,2958.7 L56.6,2947.9 L56.1,2937.0 L55.6,2926.0 L55.1,2915.0 L54.6,2904.0 L54.1,2892.8 L53.6,2881.6 L53.1,2870.4 L52.7,2859.0 L52.2,2847.7 L51.7,2836.2 L51.3,2824.7 L50.8,2813.1 L50.4,2801.5 L49.9,2789.7 L49.5,2778.0 L49.1,2766.1 L48.6,2754.2 L48.2,2742.3 L47.8,2730.2 L47.4,2718.2 L47.0,2706.0 L46.6,2693.8 L46.2,2681.5 L45.8,2669.2 L45.4,2658.8"/>
<path d="M169.6,3823.9 L169.1,3823.8 L167.9,3823.5 L166.2,3823.0 L164.1,3822.4 L161.6,3821.6 L158.9,3820.8 L156.1,3819.7 L153.2,3818.6 L150.2,3817.3 L147.4,3815.9 L144.6,3814.4 L142.0,3812.8 L139.6,3811.1 L137.3,3809.2 L135.2,3807.3 L133.3,3805.3 L131.7,3803.1 L130.1,3800.8 L128.8,3798.5 L127.6,3796.0 L126.5,3793.4 L125.5,3790.8 L124.7,3788.0 L123.9,3785.2 L123.2,3782.2 L122.5,3779.1 L121.9,3776.0 L121.3,3772.8 L120.7,3769.4 L120.2,3766.0 L119.6,3762.5 L119.1,3758.8 L118.6,3755.1 L118.0,3751.3 L117.5,3747.5 L117.0,3743.5 L116.4,3739.4 L115.9,3735.2 L115.3,3731.0 L114.8,3726.7 L114.2,3722.2 L113.7,3717.7 L113.1,3713.1 L112.5,3708.5 L111.9,3703.7 L111.3,3698.8 L110.7,3693.9 L110.1,3688.9 L109.5,3683.8 L108.9,3678.6 L108.3,3673.3 L107.6,3667.9 L107.0,3662.5 L106.4,3657.0 L105.7,3651.4 L105.1,3645.7 L104.4,3639.9 L103.8,3634.1 L103.1,3628.1 L102.5,3622.1 L101.8,3616.0 L101.1,3609.8 L100.5,3603.6 L99.8,3597.2 L99.1,3590.8 L98.5,3584.3 L97.8,3577.8 L97.1,3571.1 L96.4,3564.4 L95.7,3557.6 L95.1,3550.7 L94.4,3543.7 L93.7,3536.7 L93.0,3529.5 L92.3,3522.3 L91.6,3515.1 L91.0,3507.7 L90.3,3500.3 L89.6,3492.8 L88.9,3485.2 L88.2,3477.5 L87.5,3469.8 L86.9,3462.0 L86.2,3454.1 L85.5,3446.1 L84.8,3438.1 L84.1,3430.0 L83.5,3421.8 L82.8,3413.5 L82.1,3405.2 L81.5,3396.8 L80.8,3388.3 L80.1,3379.7 L79.5,3371.1 L78.8,3362.4 L78.1,3353.6 L77.5,3344.7 L76.8,3335.8 L76.2,3326.8 L75.5,3317.7 L74.9,3308.6 L74.3,3299.4 L73.6,3290.1 L73.0,3280.7 L72.4,3271.3 L71.7,3261.8 L71.1,3252.2 L70.5,3242.5 L69.9,3232.8 L69.3,3223.0 L68.7,3213.1 L68.1,3203.2 L67.5,3193.2 L66.9,3183.1 L66.3,3172.9 L65.7,3162.7 L65.1,3152.4 L64.6,3142.0 L64.0,3131.6 L63.4,3121.1 L62.9,3110.5 L62.3,3099.9 L61.8,3089.2 L61.2,3078.4 L60.7,3067.5 L60.2,3056.6 L59.6,3045.6 L59.1,3034.5 L58.6,3023.4 L58.1,3012.2 L57.6,3000.9 L57.0,2989.6 L56.5,2978.1 L56.0,2966.7 L55.6,2955.1 L55.1,2943.5 L54.6,2931.8 L54.1,2920.1 L53.7,2908.2 L53.2,2896.3 L52.7,2884.4 L52.3,2872.3 L51.8,2860.2 L51.4,2848.1 L50.9,2835.9 L50.5,2823.6 L50.1,2811.2 L49.7,2798.8 L49.2,2786.2 L48.8,2773.7 L48.4,2761.0 L48.0,2748.3 L47.6,2735.6 L47.2,2722.7 L46.9,2709.8 L46.5,2696.9 L46.1,2683.8 L45.7,2670.7 L45.4,2658.8"/>
<path d="M156.7,3891.2 L156.3,3891.1 L155.5,3890.7 L154.2,3890.2 L152.6,3889.6 L150.7,3888.8 L148.7,3887.8 L146.6,3886.7 L144.5,3885.5 L142.3,3884.2 L140.2,3882.7 L138.2,3881.1 L136.3,3879.4 L134.6,3877.6 L133.0,3875.7 L131.5,3873.6 L130.1,3871.4 L128.9,3869.2 L127.8,3866.8 L126.8,3864.3 L125.9,3861.7 L125.1,3859.0 L124.4,3856.1 L123.7,3853.2 L123.1,3850.2 L122.5,3847.1 L121.9,3843.8 L121.3,3840.5 L120.8,3837.1 L120.3,3833.6 L119.8,3829.9 L119.2,3826.2 L118.7,3822.4 L118.2,3818.5 L117.7,3814.5 L117.1,3810.3 L116.6,3806.1 L116.0,3801.8 L115.5,3797.4 L114.9,3793.0 L114.4,3788.4 L113.8,3783.7 L113.2,3778.9 L112.6,3774.1 L112.0,3769.1 L111.4,3764.1 L110.8,3759.0 L110.2,3753.7 L109.6,3748.4 L109.0,3743.0 L108.3,3737.5 L107.7,3732.0 L107.1,3726.3 L106.4,3720.5 L105.8,3714.7 L105.1,3708.8 L104.4,3702.8 L103.8,3696.7 L103.1,3690.5 L102.4,3684.2 L101.8,3677.9 L101.1,3671.4 L100.4,3664.9 L99.7,3658.3 L99.1,3651.6 L98.4,3644.8 L97.7,3637.9 L97.0,3631.0 L96.3,3623.9 L95.6,3616.8 L94.9,3609.6 L94.3,3602.3 L93.6,3595.0 L92.9,3587.5 L92.2,3580.0 L91.5,3572.4 L90.8,3564.7 L90.1,3556.9 L89.4,3549.1 L88.7,3541.1 L88.0,3533.1 L87.3,3525.0 L86.7,3516.8 L86.0,3508.6 L85.3,3500.3 L84.6,3491.8 L83.9,3483.3 L83.2,3474.8 L82.6,3466.1 L81.9,3457.4 L81.2,3448.6 L80.6,3439.7 L79.9,3430.7 L79.2,3421.6 L78.6,3412.5 L77.9,3403.3 L77.2,3394.0 L76.6,3384.7 L75.9,3375.2 L75.3,3365.7 L74.7,3356.1 L74.0,3346.5 L73.4,3336.7 L72.8,3326.9 L72.1,3317.0 L71.5,3307.0 L70.9,3297.0 L70.3,3286.8 L69.7,3276.6 L69.1,3266.3 L68.5,3256.0 L67.9,3245.6 L67.3,3235.0 L66.7,3224.5 L66.1,3213.8 L65.5,3203.1 L65.0,3192.3 L64.4,3181.4 L63.8,3170.4 L63.3,3159.4 L62.7,3148.3 L62.2,3137.1 L61.6,3125.8 L61.1,3114.5 L60.6,3103.1 L60.0,3091.6 L59.5,3080.1 L59.0,3068.5 L58.5,3056.8 L58.0,3045.0 L57.5,3033.1 L57.0,3021.2 L56.5,3009.2 L56.0,2997.2 L55.5,2985.0 L55.1,2972.8 L54.6,2960.6 L54.1,2948.2 L53.7,2935.8 L53.2,2923.3 L52.8,2910.7 L52.3,2898.1 L51.9,2885.3 L51.5,2872.6 L51.1,2859.7 L50.6,2846.8 L50.2,2833.8 L49.8,2820.7 L49.4,2807.6 L49.0,2794.3 L48.6,2781.1 L48.2,2767.7 L47.9,2754.3 L47.5,2740.8 L47.1,2727.2 L46.7,2713.6 L46.4,2699.8 L46.0,2686.1 L45.7,2672.2 L45.4,2658.8"/>
<path d="M141.0,3933.9 L140.8,3933.8 L140.4,3933.4 L139.7,3932.9 L138.9,3932.2 L138.0,3931.4 L137.0,3930.4 L135.9,3929.3 L134.8,3928.0 L133.7,3926.6 L132.7,3925.1 L131.6,3923.5 L130.6,3921.7 L129.7,3919.8 L128.8,3917.8 L128.0,3915.7 L127.2,3913.5 L126.5,3911.1 L125.8,3908.6 L125.2,3906.1 L124.6,3903.4 L124.1,3900.6 L123.5,3897.6 L123.0,3894.6 L122.5,3891.5 L122.0,3888.3 L121.5,3884.9 L121.0,3881.5 L120.5,3877.9 L120.0,3874.3 L119.5,3870.5 L119.0,3866.7 L118.5,3862.7 L118.0,3858.7 L117.4,3854.5 L116.9,3850.3 L116.4,3845.9 L115.8,3841.5 L115.2,3836.9 L114.7,3832.3 L114.1,3827.5 L113.5,3822.7 L112.9,3817.8 L112.3,3812.8 L111.7,3807.6 L111.1,3802.4 L110.5,3797.1 L109.9,3791.7 L109.2,3786.2 L108.6,3780.7 L108.0,3775.0 L107.3,3769.2 L106.7,3763.4 L106.0,3757.4 L105.4,3751.4 L104.7,3745.2 L104.0,3739.0 L103.4,3732.7 L102.7,3726.3 L102.0,3719.8 L101.3,3713.2 L100.7,3706.6 L100.0,3699.8 L99.3,3693.0 L98.6,3686.1 L97.9,3679.1 L97.2,3672.0 L96.5,3664.8 L95.8,3657.5 L95.1,3650.1 L94.4,3642.7 L93.7,3635.2 L93.0,3627.5 L92.3,3619.8 L91.6,3612.0 L91.0,3604.2 L90.3,3596.2 L89.6,3588.2 L88.9,3580.1 L88.2,3571.9 L87.5,3563.6 L86.8,3555.2 L86.1,3546.7 L85.4,3538.2 L84.7,3529.6 L84.0,3520.9 L83.4,3512.1 L82.7,3503.2 L82.0,3494.2 L81.3,3485.2 L80.7,3476.1 L80.0,3466.9 L79.3,3457.6 L78.7,3448.3 L78.0,3438.8 L77.3,3429.3 L76.7,3419.7 L76.0,3410.0 L75.4,3400.3 L74.7,3390.4 L74.1,3380.5 L73.5,3370.5 L72.8,3360.4 L72.2,3350.3 L71.6,3340.0 L71.0,3329.7 L70.4,3319.3 L69.8,3308.8 L69.2,3298.3 L68.6,3287.6 L68.0,3276.9 L67.4,3266.1 L66.8,3255.3 L66.2,3244.3 L65.6,3233.3 L65.1,3222.2 L64.5,3211.0 L63.9,3199.8 L63.4,3188.4 L62.8,3177.0 L62.3,3165.5 L61.7,3154.0 L61.2,3142.3 L60.7,3130.6 L60.2,3118.8 L59.6,3107.0 L59.1,3095.0 L58.6,3083.0 L58.1,3070.9 L57.6,3058.7 L57.1,3046.5 L56.6,3034.1 L56.2,3021.7 L55.7,3009.3 L55.2,2996.7 L54.8,2984.1 L54.3,2971.4 L53.9,2958.6 L53.4,2945.8 L53.0,2932.8 L52.5,2919.8 L52.1,2906.8 L51.7,2893.6 L51.3,2880.4 L50.9,2867.1 L50.4,2853.7 L50.0,2840.3 L49.7,2826.7 L49.3,2813.1 L48.9,2799.5 L48.5,2785.7 L48.1,2771.9 L47.8,2758.0 L47.4,2744.1 L47.0,2730.0 L46.7,2715.9 L46.3,2701.8 L46.0,2687.5 L45.7,2673.2 L45.3,2658.8"/>
<path d="M199.3,3992.3 L198.3,3992.2 L196.0,3991.8 L192.6,3991.3 L188.4,3990.5 L183.7,3989.7 L178.5,3988.6 L173.2,3987.5 L167.8,3986.2 L162.6,3984.7 L157.6,3983.1 L152.8,3981.4 L148.5,3979.6 L144.6,3977.6 L141.0,3975.5 L137.9,3973.3 L135.2,3970.9 L132.8,3968.5 L130.8,3965.9 L129.0,3963.2 L127.5,3960.4 L126.2,3957.4 L125.1,3954.4 L124.1,3951.2 L123.3,3948.0 L122.5,3944.6 L121.8,3941.1 L121.2,3937.5 L120.5,3933.8 L120.0,3930.0 L119.4,3926.1 L118.8,3922.0 L118.3,3917.9 L117.7,3913.7 L117.2,3909.3 L116.6,3904.9 L116.1,3900.3 L115.5,3895.7 L114.9,3890.9 L114.3,3886.1 L113.7,3881.1 L113.1,3876.1 L112.5,3870.9 L111.9,3865.7 L111.3,3860.3 L110.7,3854.9 L110.1,3849.3 L109.4,3843.7 L108.8,3837.9 L108.1,3832.1 L107.5,3826.2 L106.8,3820.2 L106.2,3814.0 L105.5,3807.8 L104.8,3801.5 L104.1,3795.1 L103.5,3788.6 L102.8,3782.0 L102.1,3775.3 L101.4,3768.5 L100.7,3761.7 L100.0,3754.7 L99.3,3747.6 L98.6,3740.5 L97.9,3733.2 L97.2,3725.9 L96.5,3718.5 L95.8,3711.0 L95.1,3703.4 L94.4,3695.7 L93.7,3687.9 L93.0,3680.0 L92.3,3672.1 L91.6,3664.0 L90.9,3655.9 L90.2,3647.6 L89.5,3639.3 L88.8,3630.9 L88.1,3622.4 L87.4,3613.9 L86.7,3605.2 L86.0,3596.4 L85.3,3587.6 L84.6,3578.7 L84.0,3569.7 L83.3,3560.6 L82.6,3551.4 L81.9,3542.1 L81.2,3532.7 L80.6,3523.3 L79.9,3513.8 L79.2,3504.2 L78.5,3494.5 L77.9,3484.7 L77.2,3474.8 L76.6,3464.9 L75.9,3454.8 L75.3,3444.7 L74.6,3434.5 L74.0,3424.2 L73.4,3413.8 L72.7,3403.4 L72.1,3392.8 L71.5,3382.2 L70.9,3371.5 L70.3,3360.7 L69.6,3349.9 L69.0,3338.9 L68.4,3327.9 L67.9,3316.8 L67.3,3305.6 L66.7,3294.3 L66.1,3282.9 L65.5,3271.5 L65.0,3260.0 L64.4,3248.4 L63.9,3236.7 L63.3,3224.9 L62.8,3213.1 L62.2,3201.2 L61.7,3189.1 L61.2,3177.1 L60.6,3164.9 L60.1,3152.6 L59.6,3140.3 L59.1,3127.9 L58.6,3115.4 L58.1,3102.9 L57.6,3090.2 L57.1,3077.5 L56.7,3064.7 L56.2,3051.8 L55.7,3038.8 L55.3,3025.8 L54.8,3012.7 L54.4,2999.5 L53.9,2986.2 L53.5,2972.8 L53.1,2959.4 L52.6,2945.9 L52.2,2932.3 L51.8,2918.6 L51.4,2904.9 L51.0,2891.1 L50.6,2877.2 L50.2,2863.2 L49.8,2849.1 L49.4,2835.0 L49.1,2820.8 L48.7,2806.5 L48.3,2792.1 L48.0,2777.7 L47.6,2763.2 L47.3,2748.6 L46.9,2733.9 L46.6,2719.2 L46.3,2704.4 L45.9,2689.5 L45.6,2674.5 L45.3,2659.4 L45.3,2658.8"/>
<path d="M214.4,4043.0 L213.2,4042.8 L210.2,4042.5 L206.0,4041.9 L200.7,4041.2 L194.8,4040.3 L188.4,4039.2 L181.7,4038.0 L175.1,4036.6 L168.7,4035.1 L162.6,4033.5 L156.9,4031.7 L151.7,4029.8 L147.1,4027.7 L142.9,4025.6 L139.3,4023.3 L136.2,4020.8 L133.5,4018.3 L131.2,4015.6 L129.3,4012.8 L127.6,4009.9 L126.2,4006.8 L125.0,4003.7 L124.0,4000.4 L123.1,3997.0 L122.3,3993.5 L121.6,3989.9 L121.0,3986.1 L120.3,3982.3 L119.7,3978.3 L119.2,3974.3 L118.6,3970.1 L118.0,3965.8 L117.5,3961.4 L116.9,3956.9 L116.4,3952.3 L115.8,3947.6 L115.2,3942.8 L114.6,3937.8 L114.0,3932.8 L113.4,3927.7 L112.8,3922.4 L112.2,3917.1 L111.6,3911.6 L110.9,3906.1 L110.3,3900.4 L109.7,3894.7 L109.0,3888.8 L108.4,3882.8 L107.7,3876.8 L107.0,3870.6 L106.4,3864.4 L105.7,3858.0 L105.0,3851.6 L104.3,3845.0 L103.7,3838.4 L103.0,3831.6 L102.3,3824.8 L101.6,3817.8 L100.9,3810.8 L100.2,3803.7 L99.5,3796.5 L98.8,3789.1 L98.1,3781.7 L97.4,3774.2 L96.7,3766.6 L96.0,3758.9 L95.3,3751.1 L94.5,3743.2 L93.8,3735.2 L93.1,3727.1 L92.4,3719.0 L91.7,3710.7 L91.0,3702.4 L90.3,3693.9 L89.6,3685.4 L88.9,3676.8 L88.2,3668.0 L87.5,3659.2 L86.8,3650.3 L86.1,3641.3 L85.4,3632.2 L84.7,3623.1 L84.0,3613.8 L83.3,3604.5 L82.6,3595.0 L81.9,3585.5 L81.2,3575.9 L80.6,3566.2 L79.9,3556.4 L79.2,3546.5 L78.6,3536.5 L77.9,3526.4 L77.2,3516.3 L76.6,3506.0 L75.9,3495.7 L75.3,3485.3 L74.6,3474.8 L74.0,3464.2 L73.3,3453.5 L72.7,3442.8 L72.1,3431.9 L71.5,3421.0 L70.9,3410.0 L70.2,3398.9 L69.6,3387.7 L69.0,3376.4 L68.4,3365.0 L67.8,3353.6 L67.3,3342.1 L66.7,3330.4 L66.1,3318.7 L65.5,3307.0 L65.0,3295.1 L64.4,3283.1 L63.9,3271.1 L63.3,3259.0 L62.8,3246.8 L62.2,3234.5 L61.7,3222.1 L61.2,3209.6 L60.7,3197.1 L60.1,3184.5 L59.6,3171.8 L59.1,3159.0 L58.6,3146.1 L58.2,3133.1 L57.7,3120.1 L57.2,3107.0 L56.7,3093.8 L56.3,3080.5 L55.8,3067.1 L55.3,3053.7 L54.9,3040.1 L54.5,3026.5 L54.0,3012.8 L53.6,2999.1 L53.2,2985.2 L52.8,2971.3 L52.3,2957.2 L51.9,2943.1 L51.5,2929.0 L51.1,2914.7 L50.7,2900.3 L50.4,2885.9 L50.0,2871.4 L49.6,2856.8 L49.3,2842.2 L48.9,2827.4 L48.5,2812.6 L48.2,2797.7 L47.8,2782.7 L47.5,2767.7 L47.2,2752.5 L46.8,2737.3 L46.5,2722.0 L46.2,2706.6 L45.9,2691.2 L45.6,2675.6 L45.3,2660.0 L45.3,2658.8"/>
<path d="M207.9,4093.3 L206.7,4093.1 L203.9,4092.8 L199.8,4092.2 L194.7,4091.4 L189.0,4090.5 L182.9,4089.4 L176.6,4088.1 L170.3,4086.7 L164.3,4085.1 L158.6,4083.4 L153.3,4081.6 L148.5,4079.6 L144.2,4077.5 L140.4,4075.2 L137.2,4072.9 L134.3,4070.3 L131.9,4067.7 L129.9,4064.9 L128.2,4062.0 L126.7,4059.0 L125.5,4055.8 L124.4,4052.6 L123.5,4049.2 L122.7,4045.7 L122.0,4042.0 L121.3,4038.3 L120.7,4034.4 L120.1,4030.4 L119.5,4026.3 L118.9,4022.1 L118.4,4017.8 L117.8,4013.3 L117.2,4008.8 L116.7,4004.1 L116.1,3999.3 L115.5,3994.4 L114.9,3989.4 L114.3,3984.3 L113.7,3979.1 L113.1,3973.8 L112.5,3968.4 L111.8,3962.8 L111.2,3957.2 L110.6,3951.4 L109.9,3945.6 L109.3,3939.6 L108.6,3933.6 L108.0,3927.4 L107.3,3921.1 L106.6,3914.7 L105.9,3908.3 L105.3,3901.7 L104.6,3895.0 L103.9,3888.2 L103.2,3881.3 L102.5,3874.3 L101.8,3867.2 L101.1,3860.0 L100.4,3852.8 L99.7,3845.4 L99.0,3837.9 L98.3,3830.3 L97.5,3822.6 L96.8,3814.8 L96.1,3807.0 L95.4,3799.0 L94.7,3790.9 L94.0,3782.7 L93.2,3774.5 L92.5,3766.1 L91.8,3757.6 L91.1,3749.1 L90.4,3740.4 L89.7,3731.7 L89.0,3722.8 L88.3,3713.9 L87.5,3704.8 L86.8,3695.7 L86.1,3686.5 L85.4,3677.2 L84.7,3667.8 L84.0,3658.3 L83.3,3648.7 L82.6,3639.0 L82.0,3629.2 L81.3,3619.3 L80.6,3609.4 L79.9,3599.3 L79.2,3589.2 L78.6,3578.9 L77.9,3568.6 L77.2,3558.2 L76.6,3547.6 L75.9,3537.0 L75.3,3526.3 L74.6,3515.5 L74.0,3504.7 L73.3,3493.7 L72.7,3482.6 L72.1,3471.5 L71.5,3460.3 L70.8,3448.9 L70.2,3437.5 L69.6,3426.0 L69.0,3414.4 L68.4,3402.7 L67.8,3391.0 L67.3,3379.1 L66.7,3367.2 L66.1,3355.1 L65.5,3343.0 L65.0,3330.8 L64.4,3318.5 L63.9,3306.1 L63.3,3293.6 L62.8,3281.1 L62.2,3268.4 L61.7,3255.7 L61.2,3242.9 L60.7,3230.0 L60.2,3217.0 L59.7,3203.9 L59.2,3190.7 L58.7,3177.5 L58.2,3164.1 L57.7,3150.7 L57.3,3137.2 L56.8,3123.6 L56.3,3109.9 L55.9,3096.2 L55.4,3082.3 L55.0,3068.4 L54.5,3054.4 L54.1,3040.3 L53.7,3026.1 L53.3,3011.8 L52.9,2997.5 L52.5,2983.0 L52.1,2968.5 L51.7,2953.9 L51.3,2939.2 L50.9,2924.4 L50.5,2909.6 L50.2,2894.6 L49.8,2879.6 L49.4,2864.5 L49.1,2849.3 L48.7,2834.0 L48.4,2818.7 L48.1,2803.2 L47.7,2787.7 L47.4,2772.1 L47.1,2756.4 L46.8,2740.6 L46.5,2724.8 L46.2,2708.9 L45.9,2692.8 L45.6,2676.7 L45.3,2660.6 L45.3,2658.8"/>
<path d="M163.1,4144.0 L162.5,4143.8 L161.2,4143.4 L159.3,4142.8 L156.9,4142.0 L154.3,4141.1 L151.4,4139.9 L148.5,4138.6 L145.6,4137.2 L142.8,4135.6 L140.1,4133.8 L137.7,4131.9 L135.4,4129.8 L133.4,4127.6 L131.6,4125.3 L130.0,4122.8 L128.6,4120.2 L127.4,4117.5 L126.4,4114.6 L125.4,4111.6 L124.6,4108.5 L123.9,4105.2 L123.2,4101.8 L122.5,4098.3 L121.9,4094.7 L121.4,4090.9 L120.8,4087.0 L120.3,4083.0 L119.7,4078.9 L119.2,4074.7 L118.6,4070.3 L118.1,4065.8 L117.5,4061.2 L117.0,4056.5 L116.4,4051.7 L115.8,4046.7 L115.2,4041.7 L114.6,4036.5 L114.0,4031.2 L113.4,4025.8 L112.8,4020.3 L112.1,4014.7 L111.5,4009.0 L110.9,4003.1 L110.2,3997.2 L109.5,3991.1 L108.9,3984.9 L108.2,3978.7 L107.5,3972.3 L106.9,3965.8 L106.2,3959.2 L105.5,3952.5 L104.8,3945.7 L104.1,3938.7 L103.4,3931.7 L102.7,3924.6 L102.0,3917.4 L101.3,3910.0 L100.6,3902.6 L99.9,3895.0 L99.1,3887.4 L98.4,3879.6 L97.7,3871.8 L97.0,3863.8 L96.3,3855.8 L95.5,3847.6 L94.8,3839.4 L94.1,3831.0 L93.4,3822.6 L92.7,3814.0 L91.9,3805.3 L91.2,3796.6 L90.5,3787.7 L89.8,3778.8 L89.1,3769.7 L88.3,3760.6 L87.6,3751.3 L86.9,3742.0 L86.2,3732.5 L85.5,3723.0 L84.8,3713.3 L84.1,3703.6 L83.4,3693.8 L82.7,3683.8 L82.0,3673.8 L81.3,3663.7 L80.6,3653.4 L79.9,3643.1 L79.3,3632.7 L78.6,3622.2 L77.9,3611.6 L77.3,3600.9 L76.6,3590.1 L75.9,3579.2 L75.3,3568.3 L74.6,3557.2 L74.0,3546.0 L73.3,3534.8 L72.7,3523.4 L72.1,3512.0 L71.5,3500.4 L70.8,3488.8 L70.2,3477.1 L69.6,3465.3 L69.0,3453.4 L68.4,3441.4 L67.8,3429.3 L67.3,3417.1 L66.7,3404.8 L66.1,3392.5 L65.5,3380.0 L65.0,3367.4 L64.4,3354.8 L63.9,3342.1 L63.3,3329.3 L62.8,3316.4 L62.3,3303.4 L61.7,3290.3 L61.2,3277.1 L60.7,3263.8 L60.2,3250.5 L59.7,3237.0 L59.2,3223.5 L58.7,3209.8 L58.2,3196.1 L57.8,3182.3 L57.3,3168.4 L56.8,3154.5 L56.4,3140.4 L55.9,3126.2 L55.5,3112.0 L55.1,3097.7 L54.6,3083.2 L54.2,3068.7 L53.8,3054.1 L53.4,3039.4 L53.0,3024.7 L52.6,3009.8 L52.2,2994.9 L51.8,2979.8 L51.4,2964.7 L51.0,2949.5 L50.7,2934.2 L50.3,2918.8 L49.9,2903.4 L49.6,2887.8 L49.2,2872.2 L48.9,2856.5 L48.6,2840.7 L48.2,2824.8 L47.9,2808.8 L47.6,2792.7 L47.3,2776.6 L47.0,2760.3 L46.7,2744.0 L46.4,2727.6 L46.1,2711.1 L45.8,2694.5 L45.5,2677.9 L45.3,2661.1 L45.2,2658.8"/>
<path d="M150.7,4186.0 L150.3,4185.8 L149.4,4185.4 L148.1,4184.7 L146.5,4183.9 L144.7,4182.9 L142.7,4181.8 L140.8,4180.4 L138.8,4178.9 L136.9,4177.3 L135.0,4175.5 L133.4,4173.5 L131.8,4171.4 L130.4,4169.1 L129.2,4166.7 L128.1,4164.2 L127.1,4161.5 L126.2,4158.7 L125.4,4155.7 L124.6,4152.7 L124.0,4149.4 L123.4,4146.1 L122.8,4142.6 L122.2,4139.0 L121.7,4135.3 L121.1,4131.4 L120.6,4127.4 L120.1,4123.3 L119.5,4119.0 L119.0,4114.7 L118.4,4110.2 L117.9,4105.6 L117.3,4100.9 L116.8,4096.0 L116.2,4091.1 L115.6,4086.0 L115.0,4080.8 L114.4,4075.5 L113.8,4070.0 L113.1,4064.5 L112.5,4058.8 L111.9,4053.0 L111.2,4047.1 L110.6,4041.1 L109.9,4035.0 L109.2,4028.8 L108.6,4022.4 L107.9,4016.0 L107.2,4009.4 L106.5,4002.8 L105.8,3996.0 L105.1,3989.1 L104.4,3982.1 L103.7,3975.0 L103.0,3967.7 L102.3,3960.4 L101.6,3953.0 L100.9,3945.4 L100.1,3937.8 L99.4,3930.0 L98.7,3922.2 L98.0,3914.2 L97.3,3906.1 L96.5,3898.0 L95.8,3889.7 L95.1,3881.3 L94.3,3872.8 L93.6,3864.2 L92.9,3855.5 L92.2,3846.7 L91.4,3837.8 L90.7,3828.8 L90.0,3819.7 L89.3,3810.5 L88.5,3801.2 L87.8,3791.8 L87.1,3782.3 L86.4,3772.7 L85.7,3763.0 L85.0,3753.1 L84.3,3743.2 L83.6,3733.2 L82.9,3723.1 L82.2,3712.9 L81.5,3702.6 L80.8,3692.2 L80.1,3681.7 L79.4,3671.1 L78.7,3660.4 L78.1,3649.6 L77.4,3638.7 L76.7,3627.7 L76.1,3616.6 L75.4,3605.4 L74.7,3594.1 L74.1,3582.7 L73.5,3571.3 L72.8,3559.7 L72.2,3548.0 L71.6,3536.2 L71.0,3524.4 L70.3,3512.4 L69.7,3500.4 L69.1,3488.2 L68.5,3476.0 L67.9,3463.7 L67.4,3451.2 L66.8,3438.7 L66.2,3426.1 L65.6,3413.4 L65.1,3400.6 L64.5,3387.7 L64.0,3374.7 L63.4,3361.6 L62.9,3348.4 L62.4,3335.2 L61.8,3321.8 L61.3,3308.3 L60.8,3294.8 L60.3,3281.1 L59.8,3267.4 L59.3,3253.6 L58.8,3239.7 L58.4,3225.7 L57.9,3211.6 L57.4,3197.4 L57.0,3183.1 L56.5,3168.7 L56.1,3154.3 L55.6,3139.7 L55.2,3125.1 L54.8,3110.3 L54.3,3095.5 L53.9,3080.6 L53.5,3065.6 L53.1,3050.5 L52.7,3035.3 L52.3,3020.0 L51.9,3004.7 L51.6,2989.2 L51.2,2973.7 L50.8,2958.0 L50.5,2942.3 L50.1,2926.5 L49.8,2910.6 L49.4,2894.6 L49.1,2878.6 L48.8,2862.4 L48.4,2846.1 L48.1,2829.8 L47.8,2813.4 L47.5,2796.9 L47.2,2780.3 L46.9,2763.6 L46.6,2746.8 L46.3,2729.9 L46.1,2713.0 L45.8,2695.9 L45.5,2678.8 L45.3,2661.6 L45.2,2658.8"/>
<path d="M141.0,4254.5 L140.8,4254.3 L140.2,4253.9 L139.4,4253.2 L138.4,4252.4 L137.2,4251.4 L136.0,4250.1 L134.8,4248.7 L133.5,4247.2 L132.3,4245.4 L131.2,4243.5 L130.1,4241.5 L129.1,4239.3 L128.2,4236.9 L127.3,4234.4 L126.5,4231.8 L125.8,4229.0 L125.2,4226.0 L124.6,4223.0 L124.0,4219.7 L123.5,4216.4 L122.9,4212.9 L122.4,4209.2 L121.9,4205.5 L121.4,4201.6 L120.8,4197.5 L120.3,4193.3 L119.8,4189.0 L119.3,4184.6 L118.7,4180.1 L118.1,4175.4 L117.6,4170.6 L117.0,4165.6 L116.4,4160.6 L115.8,4155.4 L115.2,4150.1 L114.6,4144.6 L114.0,4139.1 L113.3,4133.4 L112.7,4127.6 L112.1,4121.7 L111.4,4115.7 L110.7,4109.5 L110.1,4103.2 L109.4,4096.9 L108.7,4090.3 L108.0,4083.7 L107.3,4077.0 L106.6,4070.1 L105.9,4063.2 L105.2,4056.1 L104.5,4048.9 L103.8,4041.6 L103.1,4034.1 L102.4,4026.6 L101.6,4018.9 L100.9,4011.2 L100.2,4003.3 L99.5,3995.3 L98.7,3987.2 L98.0,3979.0 L97.3,3970.7 L96.5,3962.2 L95.8,3953.7 L95.0,3945.1 L94.3,3936.3 L93.6,3927.4 L92.8,3918.5 L92.1,3909.4 L91.4,3900.2 L90.6,3890.9 L89.9,3881.5 L89.2,3872.0 L88.4,3862.4 L87.7,3852.6 L87.0,3842.8 L86.3,3832.9 L85.5,3822.8 L84.8,3812.7 L84.1,3802.4 L83.4,3792.1 L82.7,3781.6 L82.0,3771.1 L81.3,3760.4 L80.6,3749.6 L79.9,3738.8 L79.2,3727.8 L78.5,3716.7 L77.9,3705.6 L77.2,3694.3 L76.5,3682.9 L75.9,3671.4 L75.2,3659.8 L74.5,3648.1 L73.9,3636.3 L73.3,3624.5 L72.6,3612.5 L72.0,3600.4 L71.4,3588.2 L70.7,3575.9 L70.1,3563.5 L69.5,3551.0 L68.9,3538.4 L68.3,3525.8 L67.7,3513.0 L67.2,3500.1 L66.6,3487.1 L66.0,3474.0 L65.4,3460.9 L64.9,3447.6 L64.3,3434.2 L63.8,3420.7 L63.2,3407.2 L62.7,3393.5 L62.2,3379.7 L61.7,3365.9 L61.2,3351.9 L60.7,3337.9 L60.2,3323.7 L59.7,3309.5 L59.2,3295.1 L58.7,3280.7 L58.2,3266.1 L57.8,3251.5 L57.3,3236.8 L56.9,3222.0 L56.4,3207.1 L56.0,3192.0 L55.5,3176.9 L55.1,3161.7 L54.7,3146.4 L54.3,3131.1 L53.9,3115.6 L53.5,3100.0 L53.1,3084.3 L52.7,3068.6 L52.3,3052.7 L52.0,3036.7 L51.6,3020.7 L51.2,3004.6 L50.9,2988.3 L50.5,2972.0 L50.2,2955.6 L49.8,2939.1 L49.5,2922.5 L49.2,2905.8 L48.9,2889.0 L48.6,2872.1 L48.2,2855.1 L47.9,2838.1 L47.7,2820.9 L47.4,2803.7 L47.1,2786.3 L46.8,2768.9 L46.5,2751.4 L46.3,2733.7 L46.0,2716.0 L45.7,2698.2 L45.5,2680.3 L45.2,2662.4 L45.2,2658.8"/>
<path d="M190.1,4312.2 L189.0,4312.0 L186.4,4311.6 L182.7,4310.9 L178.1,4310.0 L173.0,4308.9 L167.7,4307.7 L162.3,4306.2 L157.0,4304.6 L152.0,4302.8 L147.5,4300.9 L143.3,4298.7 L139.7,4296.5 L136.5,4294.0 L133.8,4291.4 L131.5,4288.7 L129.5,4285.8 L127.9,4282.7 L126.5,4279.5 L125.4,4276.2 L124.4,4272.7 L123.5,4269.1 L122.8,4265.3 L122.1,4261.4 L121.4,4257.4 L120.8,4253.2 L120.2,4248.9 L119.7,4244.4 L119.1,4239.8 L118.5,4235.1 L117.9,4230.2 L117.3,4225.3 L116.7,4220.1 L116.1,4214.9 L115.5,4209.5 L114.9,4204.0 L114.3,4198.4 L113.6,4192.7 L113.0,4186.8 L112.3,4180.8 L111.7,4174.6 L111.0,4168.4 L110.3,4162.0 L109.7,4155.5 L109.0,4148.9 L108.3,4142.2 L107.6,4135.3 L106.9,4128.3 L106.2,4121.2 L105.5,4114.0 L104.7,4106.7 L104.0,4099.2 L103.3,4091.6 L102.6,4083.9 L101.8,4076.1 L101.1,4068.2 L100.4,4060.1 L99.6,4052.0 L98.9,4043.7 L98.1,4035.3 L97.4,4026.8 L96.6,4018.2 L95.9,4009.5 L95.2,4000.6 L94.4,3991.7 L93.7,3982.6 L92.9,3973.4 L92.2,3964.1 L91.4,3954.7 L90.7,3945.2 L89.9,3935.6 L89.2,3925.8 L88.5,3916.0 L87.7,3906.0 L87.0,3895.9 L86.3,3885.8 L85.6,3875.5 L84.8,3865.1 L84.1,3854.6 L83.4,3843.9 L82.7,3833.2 L82.0,3822.4 L81.3,3811.5 L80.6,3800.4 L79.9,3789.3 L79.2,3778.0 L78.5,3766.6 L77.8,3755.2 L77.1,3743.6 L76.5,3731.9 L75.8,3720.1 L75.1,3708.2 L74.5,3696.2 L73.8,3684.1 L73.2,3671.9 L72.6,3659.6 L71.9,3647.2 L71.3,3634.6 L70.7,3622.0 L70.1,3609.3 L69.5,3596.5 L68.8,3583.5 L68.3,3570.5 L67.7,3557.3 L67.1,3544.1 L66.5,3530.8 L65.9,3517.3 L65.4,3503.8 L64.8,3490.1 L64.3,3476.4 L63.7,3462.5 L63.2,3448.6 L62.7,3434.5 L62.1,3420.3 L61.6,3406.1 L61.1,3391.7 L60.6,3377.3 L60.1,3362.7 L59.6,3348.1 L59.1,3333.3 L58.7,3318.4 L58.2,3303.5 L57.7,3288.4 L57.3,3273.3 L56.8,3258.0 L56.4,3242.7 L56.0,3227.2 L55.5,3211.7 L55.1,3196.0 L54.7,3180.3 L54.3,3164.4 L53.9,3148.5 L53.5,3132.5 L53.1,3116.3 L52.7,3100.1 L52.4,3083.8 L52.0,3067.3 L51.6,3050.8 L51.3,3034.2 L50.9,3017.5 L50.6,3000.7 L50.3,2983.7 L49.9,2966.7 L49.6,2949.6 L49.3,2932.4 L49.0,2915.1 L48.7,2897.7 L48.4,2880.3 L48.1,2862.7 L47.8,2845.0 L47.5,2827.2 L47.2,2809.4 L47.0,2791.4 L46.7,2773.3 L46.4,2755.2 L46.2,2736.9 L45.9,2718.6 L45.7,2700.2 L45.5,2681.6 L45.2,2663.0 L45.2,2658.8"/>
<path d="M137.1,4348.9 L136.9,4348.7 L136.5,4348.3 L135.8,4347.6 L135.1,4346.7 L134.2,4345.6 L133.2,4344.3 L132.3,4342.8 L131.3,4341.1 L130.4,4339.3 L129.5,4337.3 L128.7,4335.1 L127.9,4332.8 L127.1,4330.3 L126.5,4327.7 L125.8,4324.8 L125.2,4321.9 L124.7,4318.8 L124.1,4315.5 L123.6,4312.1 L123.1,4308.5 L122.6,4304.8 L122.1,4301.0 L121.6,4297.0 L121.0,4292.8 L120.5,4288.6 L120.0,4284.2 L119.4,4279.6 L118.9,4274.9 L118.3,4270.1 L117.7,4265.1 L117.2,4260.0 L116.6,4254.8 L116.0,4249.5 L115.3,4244.0 L114.7,4238.4 L114.1,4232.6 L113.4,4226.7 L112.8,4220.7 L112.1,4214.6 L111.4,4208.3 L110.8,4201.9 L110.1,4195.4 L109.4,4188.8 L108.7,4182.0 L108.0,4175.1 L107.3,4168.1 L106.6,4161.0 L105.9,4153.7 L105.1,4146.3 L104.4,4138.8 L103.7,4131.2 L103.0,4123.5 L102.2,4115.6 L101.5,4107.6 L100.7,4099.5 L100.0,4091.3 L99.2,4083.0 L98.5,4074.5 L97.8,4065.9 L97.0,4057.2 L96.3,4048.4 L95.5,4039.5 L94.8,4030.5 L94.0,4021.3 L93.3,4012.0 L92.5,4002.7 L91.8,3993.2 L91.0,3983.5 L90.3,3973.8 L89.5,3964.0 L88.8,3954.0 L88.0,3943.9 L87.3,3933.8 L86.6,3923.5 L85.8,3913.1 L85.1,3902.6 L84.4,3891.9 L83.7,3881.2 L83.0,3870.3 L82.2,3859.4 L81.5,3848.3 L80.8,3837.1 L80.1,3825.8 L79.4,3814.4 L78.7,3802.9 L78.0,3791.3 L77.4,3779.6 L76.7,3767.8 L76.0,3755.8 L75.4,3743.8 L74.7,3731.6 L74.0,3719.4 L73.4,3707.0 L72.8,3694.5 L72.1,3681.9 L71.5,3669.2 L70.9,3656.4 L70.2,3643.5 L69.6,3630.5 L69.0,3617.4 L68.4,3604.2 L67.8,3590.9 L67.2,3577.4 L66.7,3563.9 L66.1,3550.3 L65.5,3536.5 L65.0,3522.7 L64.4,3508.7 L63.9,3494.7 L63.3,3480.5 L62.8,3466.3 L62.3,3451.9 L61.8,3437.4 L61.3,3422.8 L60.8,3408.2 L60.3,3393.4 L59.8,3378.5 L59.3,3363.5 L58.8,3348.5 L58.4,3333.3 L57.9,3318.0 L57.4,3302.6 L57.0,3287.1 L56.6,3271.5 L56.1,3255.8 L55.7,3240.0 L55.3,3224.2 L54.9,3208.2 L54.5,3192.1 L54.1,3175.9 L53.7,3159.6 L53.3,3143.2 L52.9,3126.7 L52.5,3110.1 L52.2,3093.4 L51.8,3076.6 L51.5,3059.7 L51.1,3042.8 L50.8,3025.7 L50.4,3008.5 L50.1,2991.2 L49.8,2973.8 L49.5,2956.3 L49.2,2938.8 L48.9,2921.1 L48.6,2903.3 L48.3,2885.5 L48.0,2867.5 L47.7,2849.4 L47.4,2831.3 L47.2,2813.0 L46.9,2794.6 L46.7,2776.2 L46.4,2757.6 L46.2,2739.0 L45.9,2720.2 L45.7,2701.4 L45.4,2682.5 L45.2,2663.4 L45.2,2658.8"/>
<path d="M160.5,4427.2 L159.9,4427.1 L158.4,4426.6 L156.2,4425.9 L153.6,4424.9 L150.7,4423.8 L147.7,4422.4 L144.7,4420.9 L141.8,4419.1 L139.0,4417.2 L136.5,4415.1 L134.2,4412.9 L132.2,4410.4 L130.5,4407.8 L129.0,4405.0 L127.7,4402.1 L126.5,4399.0 L125.6,4395.7 L124.7,4392.3 L124.0,4388.7 L123.3,4385.0 L122.6,4381.1 L122.0,4377.1 L121.4,4372.9 L120.9,4368.6 L120.3,4364.2 L119.7,4359.5 L119.2,4354.8 L118.6,4349.9 L118.0,4344.8 L117.4,4339.6 L116.8,4334.3 L116.2,4328.9 L115.6,4323.2 L114.9,4317.5 L114.3,4311.6 L113.6,4305.6 L113.0,4299.5 L112.3,4293.2 L111.6,4286.8 L110.9,4280.2 L110.2,4273.5 L109.5,4266.7 L108.8,4259.8 L108.1,4252.7 L107.4,4245.5 L106.7,4238.2 L106.0,4230.7 L105.2,4223.1 L104.5,4215.4 L103.7,4207.5 L103.0,4199.6 L102.2,4191.5 L101.5,4183.2 L100.7,4174.9 L100.0,4166.4 L99.2,4157.8 L98.5,4149.1 L97.7,4140.2 L96.9,4131.3 L96.2,4122.2 L95.4,4113.0 L94.7,4103.6 L93.9,4094.2 L93.1,4084.6 L92.4,4074.9 L91.6,4065.1 L90.9,4055.2 L90.1,4045.1 L89.4,4034.9 L88.6,4024.6 L87.9,4014.2 L87.1,4003.7 L86.4,3993.0 L85.6,3982.3 L84.9,3971.4 L84.2,3960.4 L83.4,3949.3 L82.7,3938.0 L82.0,3926.7 L81.3,3915.2 L80.6,3903.7 L79.9,3892.0 L79.2,3880.2 L78.5,3868.2 L77.8,3856.2 L77.1,3844.0 L76.4,3831.8 L75.7,3819.4 L75.1,3806.9 L74.4,3794.3 L73.8,3781.6 L73.1,3768.8 L72.5,3755.8 L71.8,3742.8 L71.2,3729.6 L70.6,3716.3 L69.9,3703.0 L69.3,3689.5 L68.7,3675.9 L68.1,3662.1 L67.5,3648.3 L67.0,3634.4 L66.4,3620.3 L65.8,3606.2 L65.3,3591.9 L64.7,3577.5 L64.1,3563.1 L63.6,3548.5 L63.1,3533.8 L62.5,3518.9 L62.0,3504.0 L61.5,3489.0 L61.0,3473.9 L60.5,3458.6 L60.0,3443.3 L59.5,3427.8 L59.1,3412.3 L58.6,3396.6 L58.1,3380.8 L57.7,3364.9 L57.2,3349.0 L56.8,3332.9 L56.4,3316.7 L56.0,3300.4 L55.5,3283.9 L55.1,3267.4 L54.7,3250.8 L54.3,3234.1 L53.9,3217.3 L53.6,3200.3 L53.2,3183.3 L52.8,3166.1 L52.4,3148.9 L52.1,3131.5 L51.7,3114.1 L51.4,3096.5 L51.1,3078.8 L50.7,3061.1 L50.4,3043.2 L50.1,3025.2 L49.8,3007.2 L49.5,2989.0 L49.2,2970.7 L48.9,2952.3 L48.6,2933.8 L48.3,2915.2 L48.1,2896.5 L47.8,2877.7 L47.5,2858.8 L47.3,2839.8 L47.0,2820.7 L46.8,2801.5 L46.5,2782.2 L46.3,2762.8 L46.1,2743.3 L45.8,2723.7 L45.6,2704.0 L45.4,2684.2 L45.2,2664.3 L45.1,2658.8"/>
<path d="M220.3,4496.7 L218.5,4496.5 L214.2,4496.0 L208.0,4495.3 L200.6,4494.3 L192.4,4493.1 L183.9,4491.7 L175.5,4490.1 L167.5,4488.3 L160.1,4486.3 L153.4,4484.1 L147.6,4481.7 L142.6,4479.2 L138.3,4476.5 L134.8,4473.6 L131.9,4470.6 L129.6,4467.3 L127.7,4464.0 L126.2,4460.4 L124.9,4456.7 L123.9,4452.8 L123.0,4448.8 L122.2,4444.6 L121.5,4440.3 L120.8,4435.8 L120.2,4431.1 L119.6,4426.3 L118.9,4421.4 L118.3,4416.3 L117.7,4411.1 L117.1,4405.7 L116.5,4400.1 L115.9,4394.5 L115.2,4388.6 L114.6,4382.7 L113.9,4376.6 L113.2,4370.3 L112.6,4363.9 L111.9,4357.4 L111.2,4350.7 L110.5,4343.9 L109.8,4337.0 L109.1,4329.9 L108.3,4322.7 L107.6,4315.3 L106.9,4307.9 L106.1,4300.2 L105.4,4292.5 L104.6,4284.6 L103.9,4276.6 L103.1,4268.4 L102.4,4260.1 L101.6,4251.7 L100.9,4243.2 L100.1,4234.5 L99.3,4225.7 L98.6,4216.8 L97.8,4207.7 L97.0,4198.5 L96.2,4189.2 L95.5,4179.7 L94.7,4170.2 L93.9,4160.5 L93.2,4150.7 L92.4,4140.7 L91.6,4130.6 L90.9,4120.4 L90.1,4110.1 L89.3,4099.7 L88.6,4089.1 L87.8,4078.4 L87.1,4067.6 L86.3,4056.6 L85.6,4045.6 L84.8,4034.4 L84.1,4023.1 L83.3,4011.7 L82.6,4000.1 L81.9,3988.4 L81.2,3976.6 L80.4,3964.7 L79.7,3952.7 L79.0,3940.6 L78.3,3928.3 L77.6,3915.9 L76.9,3903.4 L76.3,3890.8 L75.6,3878.0 L74.9,3865.2 L74.2,3852.2 L73.6,3839.1 L72.9,3825.9 L72.3,3812.6 L71.6,3799.1 L71.0,3785.6 L70.4,3771.9 L69.8,3758.1 L69.2,3744.2 L68.5,3730.2 L68.0,3716.0 L67.4,3701.8 L66.8,3687.4 L66.2,3672.9 L65.6,3658.3 L65.1,3643.6 L64.5,3628.8 L64.0,3613.9 L63.4,3598.8 L62.9,3583.7 L62.4,3568.4 L61.9,3553.0 L61.4,3537.5 L60.9,3521.9 L60.4,3506.2 L59.9,3490.4 L59.4,3474.4 L58.9,3458.4 L58.5,3442.2 L58.0,3425.9 L57.6,3409.5 L57.1,3393.0 L56.7,3376.4 L56.3,3359.7 L55.8,3342.9 L55.4,3325.9 L55.0,3308.9 L54.6,3291.7 L54.2,3274.4 L53.9,3257.1 L53.5,3239.6 L53.1,3222.0 L52.8,3204.3 L52.4,3186.5 L52.1,3168.5 L51.7,3150.5 L51.4,3132.4 L51.1,3114.1 L50.7,3095.8 L50.4,3077.3 L50.1,3058.7 L49.8,3040.1 L49.5,3021.3 L49.2,3002.4 L48.9,2983.4 L48.7,2964.3 L48.4,2945.1 L48.1,2925.8 L47.9,2906.4 L47.6,2886.8 L47.4,2867.2 L47.1,2847.5 L46.9,2827.6 L46.7,2807.7 L46.4,2787.6 L46.2,2767.5 L46.0,2747.2 L45.8,2726.8 L45.6,2706.3 L45.4,2685.8 L45.2,2665.1 L45.1,2658.8"/>
<path d="M156.7,4547.1 L156.1,4546.9 L154.7,4546.4 L152.6,4545.6 L150.2,4544.6 L147.5,4543.4 L144.7,4541.9 L141.9,4540.3 L139.2,4538.4 L136.7,4536.4 L134.5,4534.2 L132.5,4531.7 L130.7,4529.1 L129.2,4526.3 L127.9,4523.4 L126.7,4520.3 L125.8,4516.9 L124.9,4513.5 L124.1,4509.8 L123.4,4506.0 L122.8,4502.0 L122.2,4497.9 L121.6,4493.6 L121.0,4489.1 L120.5,4484.5 L119.9,4479.8 L119.3,4474.8 L118.7,4469.8 L118.1,4464.5 L117.5,4459.1 L116.9,4453.6 L116.3,4447.9 L115.6,4442.1 L115.0,4436.1 L114.3,4430.0 L113.6,4423.7 L113.0,4417.3 L112.3,4410.7 L111.6,4404.0 L110.9,4397.2 L110.2,4390.2 L109.4,4383.0 L108.7,4375.8 L108.0,4368.4 L107.2,4360.8 L106.5,4353.1 L105.7,4345.3 L105.0,4337.3 L104.2,4329.2 L103.5,4321.0 L102.7,4312.6 L101.9,4304.1 L101.2,4295.5 L100.4,4286.7 L99.6,4277.8 L98.8,4268.7 L98.1,4259.5 L97.3,4250.2 L96.5,4240.8 L95.7,4231.2 L94.9,4221.5 L94.2,4211.7 L93.4,4201.7 L92.6,4191.6 L91.8,4181.4 L91.1,4171.1 L90.3,4160.6 L89.5,4150.0 L88.8,4139.3 L88.0,4128.4 L87.2,4117.4 L86.5,4106.3 L85.7,4095.1 L85.0,4083.7 L84.2,4072.2 L83.5,4060.6 L82.7,4048.9 L82.0,4037.0 L81.3,4025.0 L80.6,4012.9 L79.8,4000.7 L79.1,3988.3 L78.4,3975.8 L77.7,3963.2 L77.0,3950.5 L76.3,3937.7 L75.7,3924.7 L75.0,3911.6 L74.3,3898.4 L73.6,3885.1 L73.0,3871.6 L72.3,3858.0 L71.7,3844.4 L71.1,3830.6 L70.4,3816.6 L69.8,3802.6 L69.2,3788.4 L68.6,3774.1 L68.0,3759.7 L67.4,3745.2 L66.8,3730.6 L66.2,3715.8 L65.7,3700.9 L65.1,3685.9 L64.5,3670.8 L64.0,3655.6 L63.5,3640.3 L62.9,3624.8 L62.4,3609.2 L61.9,3593.5 L61.4,3577.7 L60.9,3561.8 L60.4,3545.8 L59.9,3529.6 L59.4,3513.4 L59.0,3497.0 L58.5,3480.5 L58.0,3463.9 L57.6,3447.2 L57.2,3430.3 L56.7,3413.4 L56.3,3396.3 L55.9,3379.1 L55.5,3361.9 L55.1,3344.5 L54.7,3326.9 L54.3,3309.3 L53.9,3291.6 L53.5,3273.7 L53.2,3255.8 L52.8,3237.7 L52.5,3219.5 L52.1,3201.2 L51.8,3182.8 L51.5,3164.3 L51.1,3145.6 L50.8,3126.9 L50.5,3108.1 L50.2,3089.1 L49.9,3070.0 L49.6,3050.8 L49.3,3031.5 L49.1,3012.1 L48.8,2992.6 L48.5,2973.0 L48.3,2953.3 L48.0,2933.4 L47.7,2913.5 L47.5,2893.4 L47.3,2873.3 L47.0,2853.0 L46.8,2832.6 L46.6,2812.1 L46.4,2791.5 L46.2,2770.8 L46.0,2750.0 L45.8,2729.1 L45.6,2708.0 L45.4,2686.9 L45.2,2665.7 L45.1,2658.8"/>
<path d="M173.4,4597.8 L172.4,4597.6 L170.2,4597.1 L166.9,4596.3 L163.0,4595.2 L158.7,4594.0 L154.3,4592.5 L150.0,4590.8 L145.8,4588.9 L142.0,4586.8 L138.6,4584.5 L135.7,4582.0 L133.1,4579.4 L130.9,4576.5 L129.1,4573.5 L127.6,4570.2 L126.3,4566.8 L125.3,4563.3 L124.4,4559.5 L123.5,4555.6 L122.8,4551.5 L122.2,4547.3 L121.5,4542.9 L120.9,4538.3 L120.3,4533.6 L119.7,4528.7 L119.1,4523.6 L118.5,4518.4 L117.9,4513.0 L117.3,4507.5 L116.7,4501.8 L116.0,4496.0 L115.4,4490.0 L114.7,4483.8 L114.0,4477.6 L113.4,4471.1 L112.7,4464.5 L112.0,4457.8 L111.3,4450.9 L110.5,4443.9 L109.8,4436.7 L109.1,4429.4 L108.4,4421.9 L107.6,4414.3 L106.9,4406.5 L106.1,4398.7 L105.3,4390.6 L104.6,4382.4 L103.8,4374.1 L103.0,4365.7 L102.3,4357.1 L101.5,4348.3 L100.7,4339.5 L99.9,4330.4 L99.1,4321.3 L98.4,4312.0 L97.6,4302.6 L96.8,4293.0 L96.0,4283.3 L95.2,4273.5 L94.4,4263.6 L93.6,4253.5 L92.9,4243.2 L92.1,4232.9 L91.3,4222.4 L90.5,4211.8 L89.7,4201.0 L89.0,4190.1 L88.2,4179.1 L87.4,4167.9 L86.7,4156.7 L85.9,4145.3 L85.1,4133.7 L84.4,4122.1 L83.6,4110.3 L82.9,4098.3 L82.2,4086.3 L81.4,4074.1 L80.7,4061.8 L80.0,4049.4 L79.2,4036.8 L78.5,4024.1 L77.8,4011.3 L77.1,3998.4 L76.4,3985.3 L75.7,3972.1 L75.1,3958.8 L74.4,3945.4 L73.7,3931.8 L73.1,3918.1 L72.4,3904.3 L71.8,3890.4 L71.1,3876.3 L70.5,3862.2 L69.9,3847.9 L69.2,3833.4 L68.6,3818.9 L68.0,3804.2 L67.4,3789.4 L66.9,3774.5 L66.3,3759.5 L65.7,3744.4 L65.1,3729.1 L64.6,3713.7 L64.0,3698.2 L63.5,3682.6 L63.0,3666.8 L62.4,3650.9 L61.9,3634.9 L61.4,3618.8 L60.9,3602.6 L60.4,3586.3 L59.9,3569.8 L59.5,3553.2 L59.0,3536.5 L58.5,3519.7 L58.1,3502.8 L57.6,3485.7 L57.2,3468.6 L56.8,3451.3 L56.3,3433.9 L55.9,3416.4 L55.5,3398.7 L55.1,3381.0 L54.7,3363.1 L54.3,3345.1 L54.0,3327.0 L53.6,3308.8 L53.2,3290.5 L52.9,3272.1 L52.5,3253.5 L52.2,3234.8 L51.9,3216.0 L51.5,3197.1 L51.2,3178.1 L50.9,3159.0 L50.6,3139.8 L50.3,3120.4 L50.0,3100.9 L49.7,3081.4 L49.4,3061.7 L49.2,3041.9 L48.9,3021.9 L48.6,3001.9 L48.4,2981.8 L48.1,2961.5 L47.9,2941.1 L47.6,2920.7 L47.4,2900.1 L47.2,2879.4 L46.9,2858.6 L46.7,2837.6 L46.5,2816.6 L46.3,2795.4 L46.1,2774.2 L45.9,2752.8 L45.7,2731.3 L45.5,2709.7 L45.3,2688.0 L45.2,2666.2 L45.1,2658.8"/>
<path d="M151.3,4648.5 L150.8,4648.3 L149.5,4647.7 L147.8,4646.9 L145.7,4645.9 L143.4,4644.6 L141.0,4643.1 L138.6,4641.3 L136.3,4639.4 L134.3,4637.2 L132.4,4634.9 L130.7,4632.3 L129.3,4629.6 L128.0,4626.6 L126.9,4623.5 L125.9,4620.2 L125.1,4616.7 L124.4,4613.1 L123.7,4609.2 L123.0,4605.2 L122.4,4601.0 L121.9,4596.7 L121.3,4592.2 L120.7,4587.5 L120.1,4582.6 L119.5,4577.6 L118.9,4572.4 L118.3,4567.0 L117.7,4561.5 L117.1,4555.9 L116.4,4550.0 L115.8,4544.0 L115.1,4537.9 L114.5,4531.6 L113.8,4525.1 L113.1,4518.5 L112.4,4511.8 L111.7,4504.9 L110.9,4497.8 L110.2,4490.6 L109.5,4483.2 L108.7,4475.7 L108.0,4468.0 L107.2,4460.2 L106.5,4452.3 L105.7,4444.2 L104.9,4435.9 L104.2,4427.5 L103.4,4419.0 L102.6,4410.3 L101.8,4401.5 L101.0,4392.6 L100.3,4383.4 L99.5,4374.2 L98.7,4364.8 L97.9,4355.3 L97.1,4345.6 L96.3,4335.8 L95.5,4325.9 L94.7,4315.8 L93.9,4305.6 L93.1,4295.2 L92.3,4284.7 L91.5,4274.1 L90.7,4263.3 L90.0,4252.4 L89.2,4241.4 L88.4,4230.2 L87.6,4218.9 L86.9,4207.5 L86.1,4195.9 L85.3,4184.2 L84.6,4172.4 L83.8,4160.4 L83.1,4148.3 L82.3,4136.1 L81.6,4123.7 L80.8,4111.2 L80.1,4098.6 L79.4,4085.8 L78.7,4072.9 L77.9,4059.9 L77.2,4046.8 L76.5,4033.5 L75.8,4020.1 L75.2,4006.6 L74.5,3992.9 L73.8,3979.1 L73.1,3965.2 L72.5,3951.2 L71.8,3937.0 L71.2,3922.7 L70.6,3908.3 L69.9,3893.8 L69.3,3879.1 L68.7,3864.3 L68.1,3849.4 L67.5,3834.3 L66.9,3819.2 L66.3,3803.9 L65.7,3788.4 L65.2,3772.9 L64.6,3757.2 L64.1,3741.4 L63.5,3725.5 L63.0,3709.5 L62.5,3693.3 L61.9,3677.1 L61.4,3660.7 L60.9,3644.1 L60.4,3627.5 L60.0,3610.7 L59.5,3593.8 L59.0,3576.8 L58.6,3559.7 L58.1,3542.4 L57.7,3525.1 L57.2,3507.6 L56.8,3490.0 L56.4,3472.2 L56.0,3454.4 L55.6,3436.4 L55.2,3418.3 L54.8,3400.1 L54.4,3381.8 L54.0,3363.3 L53.6,3344.8 L53.3,3326.1 L52.9,3307.3 L52.6,3288.4 L52.2,3269.3 L51.9,3250.2 L51.6,3230.9 L51.3,3211.5 L51.0,3192.0 L50.7,3172.4 L50.4,3152.6 L50.1,3132.8 L49.8,3112.8 L49.5,3092.7 L49.2,3072.5 L49.0,3052.2 L48.7,3031.7 L48.5,3011.2 L48.2,2990.5 L48.0,2969.7 L47.7,2948.8 L47.5,2927.8 L47.3,2906.7 L47.1,2885.5 L46.9,2864.1 L46.6,2842.6 L46.4,2821.1 L46.2,2799.4 L46.1,2777.5 L45.9,2755.6 L45.7,2733.6 L45.5,2711.4 L45.3,2689.2 L45.2,2666.8 L45.1,2658.8"/>
<path d="M173.9,4699.2 L172.9,4699.0 L170.4,4698.4 L167.0,4697.6 L162.9,4696.5 L158.4,4695.2 L153.8,4693.6 L149.3,4691.8 L145.0,4689.8 L141.2,4687.6 L137.8,4685.2 L134.8,4682.6 L132.3,4679.8 L130.2,4676.8 L128.5,4673.6 L127.1,4670.2 L125.9,4666.6 L124.8,4662.9 L124.0,4658.9 L123.2,4654.8 L122.5,4650.5 L121.8,4646.1 L121.2,4641.4 L120.6,4636.6 L120.0,4631.6 L119.4,4626.5 L118.8,4621.2 L118.2,4615.7 L117.5,4610.0 L116.9,4604.2 L116.2,4598.2 L115.6,4592.1 L114.9,4585.8 L114.2,4579.3 L113.5,4572.7 L112.8,4565.9 L112.1,4559.0 L111.4,4551.9 L110.6,4544.7 L109.9,4537.3 L109.2,4529.7 L108.4,4522.0 L107.6,4514.2 L106.9,4506.2 L106.1,4498.0 L105.3,4489.7 L104.5,4481.3 L103.8,4472.7 L103.0,4463.9 L102.2,4455.0 L101.4,4446.0 L100.6,4436.8 L99.8,4427.4 L99.0,4418.0 L98.2,4408.3 L97.4,4398.6 L96.6,4388.7 L95.8,4378.6 L95.0,4368.4 L94.2,4358.1 L93.4,4347.6 L92.6,4337.0 L91.8,4326.2 L91.0,4315.3 L90.2,4304.3 L89.4,4293.1 L88.6,4281.8 L87.8,4270.3 L87.1,4258.8 L86.3,4247.0 L85.5,4235.2 L84.8,4223.2 L84.0,4211.0 L83.2,4198.8 L82.5,4186.3 L81.7,4173.8 L81.0,4161.1 L80.2,4148.3 L79.5,4135.4 L78.8,4122.3 L78.1,4109.1 L77.4,4095.7 L76.7,4082.3 L76.0,4068.7 L75.3,4054.9 L74.6,4041.0 L73.9,4027.0 L73.2,4012.9 L72.6,3998.6 L71.9,3984.2 L71.3,3969.7 L70.6,3955.1 L70.0,3940.3 L69.4,3925.4 L68.7,3910.3 L68.1,3895.2 L67.5,3879.9 L66.9,3864.4 L66.4,3848.9 L65.8,3833.2 L65.2,3817.4 L64.7,3801.5 L64.1,3785.4 L63.6,3769.2 L63.0,3752.9 L62.5,3736.4 L62.0,3719.9 L61.5,3703.2 L61.0,3686.4 L60.5,3669.4 L60.0,3652.4 L59.5,3635.2 L59.0,3617.8 L58.6,3600.4 L58.1,3582.8 L57.7,3565.2 L57.3,3547.3 L56.8,3529.4 L56.4,3511.3 L56.0,3493.2 L55.6,3474.9 L55.2,3456.4 L54.8,3437.9 L54.4,3419.2 L54.1,3400.4 L53.7,3381.5 L53.3,3362.5 L53.0,3343.3 L52.6,3324.0 L52.3,3304.6 L52.0,3285.1 L51.7,3265.5 L51.3,3245.7 L51.0,3225.8 L50.7,3205.8 L50.4,3185.7 L50.1,3165.5 L49.9,3145.1 L49.6,3124.6 L49.3,3104.1 L49.1,3083.3 L48.8,3062.5 L48.6,3041.5 L48.3,3020.5 L48.1,2999.3 L47.8,2978.0 L47.6,2956.6 L47.4,2935.0 L47.2,2913.3 L47.0,2891.6 L46.8,2869.7 L46.6,2847.7 L46.4,2825.5 L46.2,2803.3 L46.0,2780.9 L45.8,2758.4 L45.7,2735.8 L45.5,2713.1 L45.3,2690.3 L45.2,2667.4 L45.1,2658.8"/>
<path d="M174.5,4749.9 L173.4,4749.7 L170.9,4749.1 L167.3,4748.3 L163.1,4747.1 L158.4,4745.8 L153.7,4744.2 L149.1,4742.4 L144.8,4740.3 L140.9,4738.1 L137.5,4735.6 L134.5,4732.9 L132.0,4730.0 L130.0,4726.9 L128.2,4723.7 L126.8,4720.2 L125.6,4716.5 L124.6,4712.7 L123.8,4708.6 L123.0,4704.4 L122.3,4700.0 L121.7,4695.5 L121.1,4690.7 L120.4,4685.8 L119.8,4680.7 L119.2,4675.4 L118.6,4669.9 L118.0,4664.3 L117.3,4658.5 L116.7,4652.6 L116.0,4646.4 L115.3,4640.1 L114.6,4633.7 L113.9,4627.1 L113.2,4620.3 L112.5,4613.4 L111.8,4606.3 L111.1,4599.0 L110.3,4591.6 L109.6,4584.0 L108.8,4576.3 L108.1,4568.4 L107.3,4560.3 L106.5,4552.1 L105.7,4543.8 L104.9,4535.2 L104.2,4526.6 L103.4,4517.8 L102.6,4508.8 L101.8,4499.7 L101.0,4490.4 L100.2,4481.0 L99.3,4471.4 L98.5,4461.7 L97.7,4451.9 L96.9,4441.9 L96.1,4431.7 L95.3,4421.4 L94.5,4411.0 L93.7,4400.4 L92.9,4389.6 L92.1,4378.7 L91.3,4367.7 L90.5,4356.6 L89.7,4345.2 L88.9,4333.8 L88.1,4322.2 L87.3,4310.5 L86.5,4298.6 L85.7,4286.6 L85.0,4274.4 L84.2,4262.1 L83.4,4249.7 L82.7,4237.1 L81.9,4224.4 L81.2,4211.5 L80.4,4198.6 L79.7,4185.4 L78.9,4172.2 L78.2,4158.8 L77.5,4145.2 L76.8,4131.6 L76.1,4117.7 L75.4,4103.8 L74.7,4089.7 L74.0,4075.5 L73.3,4061.2 L72.7,4046.7 L72.0,4032.1 L71.3,4017.3 L70.7,4002.4 L70.1,3987.4 L69.4,3972.3 L68.8,3957.0 L68.2,3941.6 L67.6,3926.0 L67.0,3910.3 L66.4,3894.5 L65.8,3878.6 L65.3,3862.5 L64.7,3846.3 L64.1,3830.0 L63.6,3813.5 L63.1,3797.0 L62.5,3780.2 L62.0,3763.4 L61.5,3746.4 L61.0,3729.3 L60.5,3712.1 L60.0,3694.7 L59.5,3677.2 L59.1,3659.6 L58.6,3641.9 L58.2,3624.0 L57.7,3606.0 L57.3,3587.9 L56.9,3569.6 L56.4,3551.2 L56.0,3532.7 L55.6,3514.1 L55.2,3495.4 L54.8,3476.5 L54.5,3457.5 L54.1,3438.3 L53.7,3419.1 L53.4,3399.7 L53.0,3380.2 L52.7,3360.6 L52.4,3340.8 L52.0,3320.9 L51.7,3300.9 L51.4,3280.8 L51.1,3260.6 L50.8,3240.2 L50.5,3219.7 L50.2,3199.1 L49.9,3178.3 L49.7,3157.5 L49.4,3136.5 L49.1,3115.4 L48.9,3094.2 L48.6,3072.8 L48.4,3051.3 L48.2,3029.8 L47.9,3008.0 L47.7,2986.2 L47.5,2964.3 L47.3,2942.2 L47.1,2920.0 L46.9,2897.7 L46.7,2875.2 L46.5,2852.7 L46.3,2830.0 L46.1,2807.2 L46.0,2784.3 L45.8,2761.3 L45.6,2738.1 L45.5,2714.8 L45.3,2691.4 L45.1,2667.9 L45.1,2658.8"/>
<path d="M152.4,4800.6 L151.8,4800.4 L150.4,4799.8 L148.4,4798.9 L146.1,4797.8 L143.5,4796.4 L140.9,4794.8 L138.4,4792.9 L136.0,4790.8 L133.8,4788.5 L131.9,4785.9 L130.2,4783.2 L128.7,4780.2 L127.5,4777.1 L126.4,4773.7 L125.5,4770.2 L124.7,4766.4 L123.9,4762.5 L123.3,4758.4 L122.6,4754.0 L122.0,4749.5 L121.4,4744.8 L120.8,4740.0 L120.2,4734.9 L119.6,4729.7 L119.0,4724.3 L118.4,4718.7 L117.8,4713.0 L117.1,4707.0 L116.5,4700.9 L115.8,4694.6 L115.1,4688.2 L114.4,4681.6 L113.7,4674.8 L113.0,4667.9 L112.2,4660.8 L111.5,4653.5 L110.8,4646.1 L110.0,4638.5 L109.3,4630.7 L108.5,4622.8 L107.7,4614.7 L106.9,4606.4 L106.1,4598.0 L105.3,4589.5 L104.6,4580.8 L103.8,4571.9 L102.9,4562.9 L102.1,4553.7 L101.3,4544.4 L100.5,4534.9 L99.7,4525.2 L98.9,4515.4 L98.1,4505.5 L97.3,4495.4 L96.4,4485.1 L95.6,4474.7 L94.8,4464.2 L94.0,4453.5 L93.2,4442.6 L92.4,4431.7 L91.5,4420.5 L90.7,4409.2 L89.9,4397.8 L89.1,4386.2 L88.3,4374.5 L87.5,4362.6 L86.7,4350.6 L86.0,4338.4 L85.2,4326.1 L84.4,4313.7 L83.6,4301.1 L82.9,4288.3 L82.1,4275.5 L81.3,4262.4 L80.6,4249.3 L79.8,4236.0 L79.1,4222.5 L78.4,4209.0 L77.6,4195.2 L76.9,4181.4 L76.2,4167.4 L75.5,4153.2 L74.8,4138.9 L74.1,4124.5 L73.4,4110.0 L72.8,4095.3 L72.1,4080.4 L71.4,4065.5 L70.8,4050.4 L70.1,4035.1 L69.5,4019.7 L68.9,4004.2 L68.3,3988.6 L67.7,3972.8 L67.1,3956.9 L66.5,3940.8 L65.9,3924.6 L65.3,3908.3 L64.8,3891.9 L64.2,3875.3 L63.7,3858.6 L63.1,3841.7 L62.6,3824.7 L62.1,3807.6 L61.5,3790.3 L61.0,3773.0 L60.5,3755.4 L60.1,3737.8 L59.6,3720.0 L59.1,3702.1 L58.7,3684.1 L58.2,3665.9 L57.8,3647.6 L57.3,3629.2 L56.9,3610.6 L56.5,3591.9 L56.1,3573.1 L55.7,3554.1 L55.3,3535.1 L54.9,3515.8 L54.5,3496.5 L54.1,3477.0 L53.8,3457.5 L53.4,3437.7 L53.1,3417.9 L52.7,3397.9 L52.4,3377.8 L52.1,3357.6 L51.8,3337.2 L51.4,3316.7 L51.1,3296.1 L50.8,3275.4 L50.6,3254.5 L50.3,3233.6 L50.0,3212.4 L49.7,3191.2 L49.5,3169.8 L49.2,3148.4 L49.0,3126.7 L48.7,3105.0 L48.5,3083.1 L48.3,3061.1 L48.0,3039.0 L47.8,3016.8 L47.6,2994.4 L47.4,2972.0 L47.2,2949.4 L47.0,2926.6 L46.8,2903.8 L46.6,2880.8 L46.4,2857.7 L46.2,2834.5 L46.1,2811.1 L45.9,2787.7 L45.7,2764.1 L45.6,2740.4 L45.4,2716.5 L45.3,2692.6 L45.1,2668.5 L45.1,2658.8"/>
<path d="M160.5,4851.3 L159.7,4851.1 L157.8,4850.5 L155.2,4849.6 L152.0,4848.4 L148.6,4847.0 L145.2,4845.3 L141.8,4843.4 L138.7,4841.3 L135.9,4838.9 L133.4,4836.3 L131.3,4833.5 L129.5,4830.5 L128.0,4827.2 L126.8,4823.8 L125.7,4820.2 L124.8,4816.3 L124.0,4812.3 L123.2,4808.1 L122.6,4803.6 L121.9,4799.0 L121.3,4794.2 L120.7,4789.2 L120.1,4784.1 L119.5,4778.7 L118.9,4773.2 L118.2,4767.5 L117.6,4761.6 L116.9,4755.5 L116.2,4749.3 L115.6,4742.9 L114.9,4736.3 L114.2,4729.5 L113.4,4722.6 L112.7,4715.5 L112.0,4708.2 L111.2,4700.7 L110.5,4693.1 L109.7,4685.3 L108.9,4677.4 L108.1,4669.3 L107.4,4661.0 L106.6,4652.6 L105.8,4644.0 L105.0,4635.2 L104.2,4626.3 L103.4,4617.2 L102.5,4608.0 L101.7,4598.6 L100.9,4589.0 L100.1,4579.3 L99.3,4569.5 L98.4,4559.4 L97.6,4549.2 L96.8,4538.9 L96.0,4528.4 L95.1,4517.8 L94.3,4507.0 L93.5,4496.0 L92.7,4484.9 L91.8,4473.7 L91.0,4462.3 L90.2,4450.7 L89.4,4439.0 L88.6,4427.2 L87.8,4415.2 L87.0,4403.0 L86.2,4390.7 L85.4,4378.3 L84.6,4365.7 L83.8,4352.9 L83.1,4340.0 L82.3,4327.0 L81.5,4313.8 L80.8,4300.5 L80.0,4287.0 L79.3,4273.4 L78.5,4259.6 L77.8,4245.7 L77.1,4231.7 L76.4,4217.5 L75.6,4203.2 L74.9,4188.7 L74.2,4174.1 L73.6,4159.3 L72.9,4144.4 L72.2,4129.4 L71.5,4114.2 L70.9,4098.9 L70.2,4083.4 L69.6,4067.8 L69.0,4052.1 L68.4,4036.2 L67.7,4020.2 L67.1,4004.0 L66.5,3987.7 L66.0,3971.3 L65.4,3954.7 L64.8,3938.0 L64.3,3921.2 L63.7,3904.2 L63.2,3887.1 L62.6,3869.9 L62.1,3852.5 L61.6,3834.9 L61.1,3817.3 L60.6,3799.5 L60.1,3781.6 L59.6,3763.5 L59.2,3745.3 L58.7,3727.0 L58.2,3708.5 L57.8,3689.9 L57.4,3671.2 L56.9,3652.3 L56.5,3633.3 L56.1,3614.2 L55.7,3594.9 L55.3,3575.5 L54.9,3556.0 L54.5,3536.3 L54.2,3516.5 L53.8,3496.6 L53.5,3476.6 L53.1,3456.4 L52.8,3436.1 L52.4,3415.6 L52.1,3395.1 L51.8,3374.4 L51.5,3353.5 L51.2,3332.6 L50.9,3311.5 L50.6,3290.2 L50.3,3268.9 L50.1,3247.4 L49.8,3225.8 L49.5,3204.1 L49.3,3182.2 L49.0,3160.2 L48.8,3138.1 L48.6,3115.8 L48.3,3093.5 L48.1,3071.0 L47.9,3048.3 L47.7,3025.6 L47.5,3002.7 L47.3,2979.7 L47.1,2956.5 L46.9,2933.3 L46.7,2909.9 L46.5,2886.4 L46.4,2862.7 L46.2,2838.9 L46.0,2815.1 L45.9,2791.0 L45.7,2766.9 L45.6,2742.6 L45.4,2718.2 L45.3,2693.7 L45.1,2669.1 L45.1,2658.8"/>
<path d="M181.6,4952.4 L180.3,4952.2 L177.0,4951.5 L172.6,4950.6 L167.3,4949.4 L161.6,4947.9 L155.9,4946.1 L150.4,4944.1 L145.4,4941.9 L141.0,4939.4 L137.2,4936.7 L134.0,4933.8 L131.4,4930.6 L129.3,4927.2 L127.5,4923.6 L126.1,4919.8 L125.0,4915.8 L124.0,4911.6 L123.2,4907.2 L122.4,4902.6 L121.8,4897.7 L121.1,4892.7 L120.5,4887.5 L119.8,4882.1 L119.2,4876.5 L118.5,4870.7 L117.9,4864.7 L117.2,4858.6 L116.5,4852.2 L115.8,4845.7 L115.1,4839.0 L114.4,4832.1 L113.7,4825.0 L112.9,4817.8 L112.2,4810.3 L111.4,4802.7 L110.6,4794.9 L109.9,4787.0 L109.1,4778.8 L108.3,4770.5 L107.5,4762.1 L106.7,4753.4 L105.9,4744.6 L105.0,4735.6 L104.2,4726.4 L103.4,4717.1 L102.6,4707.6 L101.7,4697.9 L100.9,4688.1 L100.1,4678.1 L99.2,4668.0 L98.4,4657.6 L97.5,4647.2 L96.7,4636.5 L95.9,4625.7 L95.0,4614.7 L94.2,4603.6 L93.3,4592.3 L92.5,4580.9 L91.7,4569.2 L90.8,4557.5 L90.0,4545.6 L89.2,4533.5 L88.4,4521.2 L87.5,4508.8 L86.7,4496.3 L85.9,4483.6 L85.1,4470.7 L84.3,4457.7 L83.5,4444.5 L82.7,4431.2 L82.0,4417.7 L81.2,4404.1 L80.4,4390.3 L79.7,4376.4 L78.9,4362.3 L78.2,4348.0 L77.4,4333.6 L76.7,4319.1 L76.0,4304.4 L75.2,4289.6 L74.5,4274.6 L73.8,4259.4 L73.1,4244.2 L72.5,4228.7 L71.8,4213.1 L71.1,4197.4 L70.5,4181.5 L69.8,4165.5 L69.2,4149.4 L68.5,4133.0 L67.9,4116.6 L67.3,4100.0 L66.7,4083.2 L66.1,4066.3 L65.5,4049.3 L65.0,4032.1 L64.4,4014.8 L63.8,3997.3 L63.3,3979.7 L62.8,3961.9 L62.2,3944.0 L61.7,3926.0 L61.2,3907.8 L60.7,3889.5 L60.2,3871.0 L59.7,3852.4 L59.2,3833.7 L58.8,3814.8 L58.3,3795.7 L57.9,3776.6 L57.4,3757.3 L57.0,3737.8 L56.6,3718.2 L56.2,3698.5 L55.8,3678.6 L55.4,3658.6 L55.0,3638.5 L54.6,3618.2 L54.3,3597.8 L53.9,3577.2 L53.5,3556.5 L53.2,3535.7 L52.9,3514.7 L52.5,3493.6 L52.2,3472.3 L51.9,3451.0 L51.6,3429.5 L51.3,3407.8 L51.0,3386.0 L50.7,3364.1 L50.4,3342.0 L50.2,3319.8 L49.9,3297.5 L49.7,3275.0 L49.4,3252.4 L49.2,3229.7 L48.9,3206.8 L48.7,3183.8 L48.5,3160.7 L48.3,3137.4 L48.0,3114.0 L47.8,3090.5 L47.6,3066.8 L47.4,3043.0 L47.3,3019.1 L47.1,2995.0 L46.9,2970.8 L46.7,2946.5 L46.6,2922.0 L46.4,2897.4 L46.2,2872.7 L46.1,2847.9 L45.9,2822.9 L45.8,2797.8 L45.6,2772.5 L45.5,2747.1 L45.4,2721.6 L45.2,2696.0 L45.1,2670.2 L45.1,2658.8"/>
<path d="M171.9,5003.0 L170.8,5002.7 L168.1,5002.1 L164.3,5001.2 L159.8,4999.9 L155.1,4998.4 L150.3,4996.6 L145.8,4994.6 L141.6,4992.3 L138.0,4989.7 L134.8,4987.0 L132.2,4984.0 L130.0,4980.7 L128.2,4977.3 L126.8,4973.6 L125.6,4969.7 L124.6,4965.6 L123.7,4961.3 L122.9,4956.8 L122.2,4952.1 L121.6,4947.1 L120.9,4942.0 L120.3,4936.7 L119.6,4931.2 L119.0,4925.4 L118.3,4919.5 L117.7,4913.4 L117.0,4907.1 L116.3,4900.6 L115.6,4894.0 L114.9,4887.1 L114.2,4880.1 L113.4,4872.8 L112.7,4865.4 L111.9,4857.8 L111.1,4850.0 L110.3,4842.1 L109.6,4833.9 L108.8,4825.6 L108.0,4817.1 L107.1,4808.5 L106.3,4799.6 L105.5,4790.6 L104.7,4781.4 L103.8,4772.1 L103.0,4762.5 L102.2,4752.8 L101.3,4743.0 L100.5,4732.9 L99.6,4722.7 L98.8,4712.3 L97.9,4701.8 L97.1,4691.1 L96.2,4680.2 L95.4,4669.1 L94.5,4657.9 L93.7,4646.6 L92.9,4635.0 L92.0,4623.3 L91.2,4611.4 L90.3,4599.4 L89.5,4587.2 L88.7,4574.9 L87.8,4562.4 L87.0,4549.7 L86.2,4536.9 L85.4,4523.9 L84.6,4510.7 L83.8,4497.4 L83.0,4484.0 L82.2,4470.4 L81.4,4456.6 L80.6,4442.7 L79.9,4428.6 L79.1,4414.3 L78.4,4399.9 L77.6,4385.4 L76.9,4370.7 L76.1,4355.8 L75.4,4340.8 L74.7,4325.6 L74.0,4310.3 L73.3,4294.9 L72.6,4279.2 L71.9,4263.5 L71.3,4247.5 L70.6,4231.5 L69.9,4215.2 L69.3,4198.9 L68.7,4182.3 L68.0,4165.7 L67.4,4148.9 L66.8,4131.9 L66.2,4114.8 L65.6,4097.5 L65.0,4080.1 L64.5,4062.5 L63.9,4044.8 L63.4,4027.0 L62.8,4009.0 L62.3,3990.8 L61.8,3972.5 L61.3,3954.1 L60.7,3935.5 L60.3,3916.8 L59.8,3897.9 L59.3,3878.9 L58.8,3859.7 L58.4,3840.4 L57.9,3821.0 L57.5,3801.4 L57.1,3781.7 L56.6,3761.8 L56.2,3741.8 L55.8,3721.6 L55.4,3701.3 L55.0,3680.8 L54.7,3660.3 L54.3,3639.5 L53.9,3618.7 L53.6,3597.7 L53.2,3576.5 L52.9,3555.2 L52.6,3533.8 L52.3,3512.2 L51.9,3490.5 L51.6,3468.7 L51.3,3446.7 L51.1,3424.5 L50.8,3402.3 L50.5,3379.9 L50.2,3357.3 L50.0,3334.6 L49.7,3311.8 L49.5,3288.9 L49.2,3265.8 L49.0,3242.5 L48.8,3219.2 L48.5,3195.7 L48.3,3172.0 L48.1,3148.2 L47.9,3124.3 L47.7,3100.3 L47.5,3076.1 L47.3,3051.8 L47.2,3027.3 L47.0,3002.7 L46.8,2978.0 L46.6,2953.1 L46.5,2928.1 L46.3,2903.0 L46.2,2877.7 L46.0,2852.3 L45.9,2826.8 L45.7,2801.1 L45.6,2775.3 L45.5,2749.4 L45.4,2723.3 L45.2,2697.1 L45.1,2670.8 L45.1,2658.8"/>
<path d="M152.4,2613.8 L149.4,2614.1 L141.5,2615.1 L130.3,2616.5 L117.5,2618.1 L104.7,2619.7 L97.0,2620.7"/>
<path d="M152.4,2647.4 L149.4,2647.1 L141.5,2646.1 L130.3,2644.6 L117.5,2643.0 L104.7,2641.3 L97.0,2640.3"/>
<path d="M436.0,1608.5 L431.3,1612.4 L426.3,1616.1 L421.2,1619.8 L416.1,1623.5 L411.3,1627.3 L406.8,1631.3 L402.8,1635.5 L399.5,1640.0 L397.1,1644.5 L395.1,1649.4 L393.6,1654.5 L392.4,1659.7 L391.4,1665.0 L390.6,1670.2 L389.8,1675.2 L389.0,1680.0 L388.4,1683.9 L388.0,1687.8 L387.8,1691.6 L387.6,1695.3 L387.4,1699.0 L387.0,1702.6 L386.5,1706.1 L385.6,1709.5 L384.6,1712.7 L383.4,1715.9 L382.2,1719.0 L380.8,1722.1 L379.2,1725.0 L377.4,1727.8 L375.3,1730.5 L373.0,1733.0 L369.9,1735.7 L366.3,1738.2 L362.4,1740.5 L358.2,1742.7 L353.8,1744.6 L349.2,1746.4 L344.5,1748.0 L339.8,1749.4 L334.2,1750.8 L328.3,1751.9 L322.2,1752.8 L315.9,1753.4 L309.5,1753.8 L303.1,1754.0 L296.5,1754.2 L290.0,1754.2 L282.7,1753.9 L275.1,1753.2 L267.3,1752.3 L259.5,1751.2 L251.8,1750.1 L244.2,1749.1 L236.9,1748.5 L230.0,1748.2 L224.8,1748.3 L219.8,1748.4 L214.9,1748.7 L210.2,1749.1 L205.5,1749.6 L200.9,1750.3 L196.3,1751.1 L191.7,1752.0 L187.2,1753.0 L182.6,1754.1 L178.1,1755.3 L173.6,1756.7 L169.2,1758.2 L164.9,1759.8 L160.8,1761.6 L156.8,1763.6 L153.1,1765.7 L149.5,1767.9 L145.9,1770.3 L142.5,1772.9 L139.2,1775.5 L136.1,1778.3 L133.3,1781.1 L130.7,1784.0 L128.7,1786.6 L126.9,1789.2 L125.3,1791.9 L123.9,1794.7 L122.6,1797.5 L121.4,1800.5 L120.2,1803.7 L119.0,1807.0 L117.5,1811.7 L116.3,1816.8 L115.2,1822.3 L114.2,1827.9 L113.2,1833.6 L112.3,1839.4 L111.3,1845.1 L110.3,1850.7 L110.3,1850.8 L110.2,1851.1 L110.2,1851.5 L110.0,1852.2 L109.9,1853.0 L109.7,1854.0 L109.5,1855.2 L109.3,1856.6 L109.0,1858.2 L108.7,1860.0 L108.4,1861.9 L108.1,1864.1 L107.7,1866.4 L107.3,1868.9 L106.8,1871.6 L106.3,1874.5 L105.9,1877.5 L105.3,1880.8 L104.8,1884.2 L104.2,1887.8 L103.6,1891.6 L103.0,1895.6 L102.3,1899.8 L101.7,1904.2 L101.0,1908.7 L100.3,1913.5 L99.5,1918.4 L98.8,1923.5 L98.0,1928.8 L97.2,1934.3 L96.4,1939.9 L95.6,1945.8 L94.7,1951.8 L93.9,1958.0 L93.0,1964.4 L92.1,1971.0 L91.2,1977.8 L90.3,1984.8 L89.4,1991.9 L88.5,1999.3 L87.5,2006.8 L86.6,2014.5 L85.6,2022.4 L84.7,2030.5 L83.7,2038.7 L82.7,2047.2 L81.8,2055.8 L80.8,2064.6 L79.8,2073.6 L78.8,2082.8 L77.8,2092.2 L76.9,2101.8 L75.9,2111.5 L74.9,2121.5 L73.9,2131.6 L72.9,2141.9 L72.0,2152.4 L71.0,2163.1 L70.0,2173.9 L69.1,2185.0 L68.1,2196.2 L67.2,2207.6 L66.2,2219.2 L65.3,2231.0 L64.4,2243.0 L63.5,2255.2 L62.6,2267.5 L61.7,2280.0 L60.8,2292.8 L59.9,2305.7 L59.0,2318.8 L58.2,2332.0 L57.3,2345.5 L56.5,2359.2 L55.7,2373.0 L54.9,2387.0 L54.1,2401.2 L53.3,2415.6 L52.5,2430.2 L51.8,2445.0 L51.0,2459.9 L50.3,2475.0 L49.6,2490.4 L48.9,2505.9 L48.2,2521.6 L47.5,2537.4 L46.9,2553.5 L46.2,2569.7 L45.6,2586.2 L45.0,2602.8"/>
<path d="M436.0,1676.0 L431.7,1679.3 L427.3,1682.4 L422.7,1685.5 L418.2,1688.7 L413.9,1691.9 L409.8,1695.3 L406.1,1699.0 L402.9,1703.0 L400.3,1707.4 L398.2,1712.1 L396.5,1717.1 L395.1,1722.3 L393.8,1727.5 L392.5,1732.7 L391.2,1737.8 L389.6,1742.7 L388.1,1747.1 L386.8,1751.7 L385.6,1756.2 L384.3,1760.6 L382.8,1764.9 L381.1,1769.0 L379.0,1772.7 L376.3,1776.0 L372.9,1779.1 L369.0,1781.7 L364.6,1784.1 L360.0,1786.1 L355.1,1787.9 L350.0,1789.6 L344.9,1791.1 L339.8,1792.5 L334.1,1793.9 L328.1,1795.1 L322.0,1796.1 L315.8,1796.9 L309.4,1797.5 L303.0,1797.9 L296.5,1798.3 L290.0,1798.5 L282.7,1798.5 L275.1,1798.2 L267.3,1797.6 L259.5,1796.9 L251.8,1796.1 L244.2,1795.5 L236.9,1795.1 L230.0,1795.0 L224.8,1795.1 L219.7,1795.2 L214.9,1795.4 L210.1,1795.6 L205.5,1796.1 L200.9,1796.6 L196.3,1797.4 L191.7,1798.4 L187.1,1799.6 L182.6,1801.0 L178.0,1802.6 L173.6,1804.4 L169.2,1806.3 L164.9,1808.4 L160.8,1810.6 L156.8,1813.0 L153.1,1815.4 L149.5,1818.0 L145.9,1820.8 L142.5,1823.7 L139.2,1826.7 L136.1,1829.7 L133.3,1832.9 L130.7,1836.0 L128.7,1838.7 L127.0,1841.5 L125.4,1844.3 L124.0,1847.1 L122.7,1850.1 L121.4,1853.1 L120.2,1856.2 L119.0,1859.4 L117.7,1863.3 L116.4,1867.5 L115.3,1871.8 L114.3,1876.2 L113.3,1880.7 L112.3,1885.2 L111.4,1889.6 L110.3,1894.0 L110.3,1894.1 L110.2,1894.4 L110.2,1894.8 L110.1,1895.4 L109.9,1896.2 L109.8,1897.2 L109.6,1898.3 L109.3,1899.6 L109.1,1901.1 L108.8,1902.8 L108.5,1904.6 L108.1,1906.6 L107.8,1908.8 L107.4,1911.2 L106.9,1913.7 L106.5,1916.4 L106.0,1919.3 L105.5,1922.4 L105.0,1925.6 L104.4,1929.0 L103.8,1932.6 L103.2,1936.4 L102.6,1940.3 L101.9,1944.4 L101.3,1948.7 L100.6,1953.2 L99.8,1957.8 L99.1,1962.6 L98.4,1967.6 L97.6,1972.8 L96.8,1978.1 L96.0,1983.6 L95.2,1989.3 L94.3,1995.2 L93.5,2001.2 L92.6,2007.4 L91.7,2013.8 L90.8,2020.4 L89.9,2027.1 L89.0,2034.0 L88.1,2041.1 L87.2,2048.4 L86.2,2055.8 L85.3,2063.4 L84.3,2071.2 L83.4,2079.2 L82.4,2087.3 L81.4,2095.6 L80.5,2104.1 L79.5,2112.8 L78.5,2121.6 L77.5,2130.6 L76.6,2139.8 L75.6,2149.2 L74.6,2158.7 L73.6,2168.4 L72.6,2178.3 L71.7,2188.4 L70.7,2198.6 L69.7,2209.0 L68.8,2219.6 L67.8,2230.4 L66.9,2241.3 L65.9,2252.4 L65.0,2263.7 L64.1,2275.2 L63.2,2286.8 L62.2,2298.6 L61.3,2310.6 L60.4,2322.8 L59.6,2335.1 L58.7,2347.6 L57.8,2360.3 L57.0,2373.2 L56.1,2386.2 L55.3,2399.4 L54.5,2412.8 L53.7,2426.4 L52.9,2440.1 L52.1,2454.0 L51.3,2468.1 L50.6,2482.4 L49.8,2496.8 L49.1,2511.4 L48.4,2526.2 L47.7,2541.2 L47.0,2556.3 L46.3,2571.6 L45.6,2587.1 L45.0,2602.8"/>
<path d="M437.7,1742.7 L433.2,1745.5 L428.5,1748.1 L423.7,1750.7 L419.0,1753.3 L414.4,1756.1 L410.1,1759.0 L406.2,1762.3 L402.9,1766.0 L400.3,1770.3 L398.5,1775.0 L397.2,1780.2 L396.1,1785.5 L395.0,1790.9 L393.7,1796.2 L392.0,1801.2 L389.6,1805.8 L386.5,1810.2 L383.1,1814.5 L379.4,1818.7 L375.4,1822.7 L371.1,1826.4 L366.5,1829.9 L361.6,1833.0 L356.4,1835.7 L349.4,1838.4 L341.7,1840.5 L333.4,1842.1 L324.8,1843.3 L315.9,1844.1 L307.1,1844.7 L298.3,1845.2 L290.0,1845.6 L282.4,1845.7 L274.9,1845.4 L267.5,1844.8 L260.1,1844.1 L252.7,1843.4 L245.3,1843.0 L237.7,1842.9 L230.0,1843.4 L220.9,1844.5 L211.2,1846.1 L201.3,1847.9 L191.4,1850.2 L181.7,1852.7 L172.6,1855.6 L164.2,1858.8 L156.8,1862.3 L152.1,1865.0 L147.8,1867.9 L143.7,1870.9 L140.0,1874.1 L136.5,1877.5 L133.4,1881.0 L130.5,1884.7 L127.8,1888.5 L125.5,1892.4 L123.6,1896.5 L122.0,1900.8 L120.6,1905.2 L119.3,1909.7 L118.2,1914.3 L117.2,1918.8 L116.1,1923.3 L115.1,1927.8 L114.2,1932.4 L113.5,1936.9 L112.8,1941.5 L112.2,1946.2 L111.6,1950.8 L111.0,1955.4 L110.3,1960.0 L110.3,1960.1 L110.2,1960.3 L110.2,1960.7 L110.1,1961.3 L109.9,1962.0 L109.8,1962.9 L109.6,1963.9 L109.4,1965.1 L109.1,1966.4 L108.9,1967.9 L108.6,1969.6 L108.2,1971.4 L107.9,1973.4 L107.5,1975.6 L107.1,1977.9 L106.7,1980.3 L106.2,1982.9 L105.7,1985.7 L105.2,1988.6 L104.7,1991.7 L104.1,1995.0 L103.5,1998.4 L102.9,2002.0 L102.3,2005.7 L101.7,2009.6 L101.0,2013.6 L100.3,2017.9 L99.6,2022.2 L98.9,2026.7 L98.1,2031.4 L97.4,2036.3 L96.6,2041.3 L95.8,2046.4 L95.0,2051.7 L94.2,2057.2 L93.3,2062.8 L92.5,2068.6 L91.6,2074.6 L90.7,2080.7 L89.9,2087.0 L89.0,2093.4 L88.0,2100.0 L87.1,2106.7 L86.2,2113.6 L85.3,2120.7 L84.3,2127.9 L83.4,2135.3 L82.4,2142.8 L81.5,2150.5 L80.5,2158.4 L79.5,2166.4 L78.6,2174.6 L77.6,2182.9 L76.6,2191.4 L75.6,2200.1 L74.7,2208.9 L73.7,2217.8 L72.7,2227.0 L71.7,2236.2 L70.8,2245.7 L69.8,2255.3 L68.8,2265.1 L67.9,2275.0 L66.9,2285.1 L66.0,2295.3 L65.0,2305.7 L64.1,2316.2 L63.1,2327.0 L62.2,2337.8 L61.3,2348.9 L60.4,2360.0 L59.5,2371.4 L58.6,2382.9 L57.7,2394.6 L56.8,2406.4 L56.0,2418.4 L55.1,2430.5 L54.3,2442.8 L53.4,2455.3 L52.6,2467.9 L51.8,2480.7 L51.0,2493.6 L50.2,2506.7 L49.4,2520.0 L48.6,2533.4 L47.9,2546.9 L47.2,2560.7 L46.4,2574.5 L45.7,2588.6 L45.0,2602.8"/>
<path d="M441.0,1809.0 L437.9,1810.6 L434.7,1812.1 L431.5,1813.5 L428.3,1815.0 L425.2,1816.6 L422.1,1818.3 L419.0,1820.2 L416.0,1822.4 L412.6,1825.4 L409.3,1828.9 L406.1,1832.7 L402.9,1836.7 L399.8,1840.7 L396.5,1844.8 L393.1,1848.7 L389.6,1852.3 L385.9,1855.9 L382.1,1859.6 L378.3,1863.2 L374.4,1866.7 L370.4,1870.1 L366.0,1873.2 L361.4,1876.2 L356.4,1878.8 L349.4,1881.7 L341.7,1884.3 L333.4,1886.4 L324.7,1888.3 L315.9,1889.8 L307.0,1891.1 L298.4,1892.1 L290.0,1892.8 L282.4,1893.0 L274.9,1892.6 L267.5,1891.8 L260.2,1890.8 L252.8,1889.9 L245.3,1889.2 L237.7,1888.9 L230.0,1889.3 L220.9,1890.4 L211.2,1892.0 L201.3,1893.9 L191.4,1896.3 L181.7,1899.0 L172.6,1902.0 L164.2,1905.2 L156.8,1908.8 L152.1,1911.5 L147.8,1914.4 L143.7,1917.4 L140.0,1920.6 L136.5,1923.9 L133.4,1927.4 L130.5,1931.1 L127.8,1935.0 L125.5,1939.2 L123.5,1943.6 L121.9,1948.3 L120.5,1953.1 L119.3,1958.0 L118.2,1963.0 L117.2,1967.9 L116.1,1972.7 L115.1,1977.3 L114.3,1982.0 L113.5,1986.7 L112.9,1991.3 L112.2,1996.0 L111.6,2000.7 L111.0,2005.3 L110.3,2010.0 L110.3,2010.1 L110.2,2010.3 L110.2,2010.7 L110.1,2011.2 L110.0,2011.8 L109.8,2012.6 L109.6,2013.6 L109.4,2014.7 L109.2,2015.9 L108.9,2017.3 L108.6,2018.9 L108.3,2020.5 L108.0,2022.4 L107.6,2024.3 L107.2,2026.5 L106.8,2028.7 L106.4,2031.2 L105.9,2033.7 L105.4,2036.4 L104.9,2039.3 L104.4,2042.3 L103.8,2045.4 L103.2,2048.7 L102.6,2052.2 L102.0,2055.7 L101.3,2059.5 L100.7,2063.4 L100.0,2067.4 L99.3,2071.5 L98.6,2075.9 L97.8,2080.3 L97.1,2084.9 L96.3,2089.7 L95.5,2094.6 L94.7,2099.7 L93.9,2104.8 L93.1,2110.2 L92.2,2115.7 L91.4,2121.3 L90.5,2127.1 L89.6,2133.0 L88.7,2139.1 L87.8,2145.3 L86.9,2151.7 L86.0,2158.2 L85.0,2164.9 L84.1,2171.7 L83.2,2178.6 L82.2,2185.7 L81.3,2193.0 L80.3,2200.4 L79.3,2207.9 L78.4,2215.6 L77.4,2223.4 L76.4,2231.4 L75.4,2239.5 L74.5,2247.8 L73.5,2256.2 L72.5,2264.8 L71.5,2273.5 L70.6,2282.3 L69.6,2291.3 L68.6,2300.5 L67.7,2309.8 L66.7,2319.2 L65.7,2328.8 L64.8,2338.5 L63.8,2348.4 L62.9,2358.4 L62.0,2368.6 L61.0,2378.9 L60.1,2389.4 L59.2,2400.0 L58.3,2410.8 L57.4,2421.7 L56.5,2432.7 L55.6,2443.9 L54.7,2455.3 L53.9,2466.7 L53.0,2478.4 L52.1,2490.2 L51.3,2502.1 L50.5,2514.2 L49.7,2526.4 L48.9,2538.8 L48.1,2551.3 L47.3,2563.9 L46.5,2576.7 L45.7,2589.7 L45.0,2602.8"/>
<path d="M202.3,1955.3 L198.3,1956.6 L194.2,1957.9 L190.2,1959.2 L186.2,1960.6 L182.1,1961.9 L178.1,1963.2 L174.1,1964.6 L170.0,1966.0 L165.7,1967.4 L161.3,1968.7 L156.8,1970.0 L152.3,1971.3 L147.9,1972.8 L143.8,1974.4 L139.9,1976.3 L136.5,1978.5 L133.8,1980.6 L131.3,1982.9 L129.1,1985.4 L127.0,1988.0 L125.0,1990.8 L123.2,1993.7 L121.6,1996.8 L120.0,2000.0 L118.4,2004.3 L117.1,2008.9 L116.0,2013.9 L115.2,2019.1 L114.4,2024.3 L113.7,2029.6 L112.9,2034.9 L112.0,2040.0 L112.0,2040.1 L111.9,2040.3 L111.9,2040.6 L111.8,2041.1 L111.7,2041.7 L111.5,2042.5 L111.3,2043.4 L111.1,2044.4 L110.9,2045.6 L110.7,2046.9 L110.4,2048.4 L110.1,2050.0 L109.7,2051.7 L109.4,2053.6 L109.0,2055.6 L108.6,2057.8 L108.2,2060.1 L107.7,2062.5 L107.3,2065.1 L106.8,2067.8 L106.2,2070.6 L105.7,2073.6 L105.1,2076.8 L104.5,2080.0 L103.9,2083.4 L103.3,2087.0 L102.6,2090.7 L102.0,2094.5 L101.3,2098.4 L100.6,2102.5 L99.9,2106.8 L99.1,2111.1 L98.4,2115.7 L97.6,2120.3 L96.8,2125.1 L96.0,2130.0 L95.2,2135.1 L94.3,2140.3 L93.5,2145.7 L92.6,2151.2 L91.8,2156.8 L90.9,2162.6 L90.0,2168.5 L89.1,2174.5 L88.2,2180.7 L87.2,2187.0 L86.3,2193.5 L85.4,2200.1 L84.4,2206.8 L83.5,2213.7 L82.5,2220.7 L81.5,2227.9 L80.6,2235.2 L79.6,2242.6 L78.6,2250.2 L77.6,2257.9 L76.6,2265.7 L75.7,2273.7 L74.7,2281.9 L73.7,2290.1 L72.7,2298.5 L71.7,2307.1 L70.7,2315.8 L69.7,2324.6 L68.7,2333.6 L67.8,2342.7 L66.8,2351.9 L65.8,2361.3 L64.8,2370.8 L63.9,2380.5 L62.9,2390.3 L61.9,2400.2 L61.0,2410.3 L60.0,2420.5 L59.1,2430.8 L58.2,2441.3 L57.2,2452.0 L56.3,2462.7 L55.4,2473.6 L54.5,2484.7 L53.6,2495.9 L52.7,2507.2 L51.9,2518.7 L51.0,2530.3 L50.1,2542.0 L49.3,2553.9 L48.5,2565.9 L47.6,2578.1 L46.8,2590.4 L46.0,2602.8"/>
<path d="M431.0,2515.6 L427.0,2508.7 L422.7,2501.8 L418.3,2495.0 L414.0,2488.2 L409.9,2481.3 L406.1,2474.3 L402.7,2467.2 L400.0,2460.0 L398.0,2453.0 L396.5,2446.0 L395.5,2439.1 L394.8,2432.1 L394.3,2424.8 L393.9,2417.1 L393.5,2408.8 L393.0,2400.0 L392.1,2384.4 L391.3,2367.0 L390.6,2348.2 L390.1,2328.6 L389.8,2308.4 L389.7,2288.3 L389.7,2268.7 L390.0,2250.0 L390.6,2232.9 L391.7,2215.3 L393.1,2197.7 L394.6,2180.4 L396.0,2163.6 L397.2,2147.7 L397.9,2133.1 L398.0,2120.0 L397.8,2112.9 L397.6,2106.4 L397.3,2100.3 L396.8,2094.6 L396.2,2089.1 L395.4,2083.7 L394.3,2078.4 L393.0,2073.0 L391.6,2068.0 L390.1,2063.0 L388.4,2058.0 L386.6,2053.2 L384.5,2048.5 L382.1,2044.1 L379.4,2039.9 L376.4,2036.0 L372.8,2032.3 L368.8,2028.8 L364.4,2025.5 L359.7,2022.5 L354.9,2019.8 L349.9,2017.3 L344.9,2015.0 L340.0,2013.0 L335.2,2011.4 L330.2,2010.1 L325.1,2009.1 L319.9,2008.3 L314.8,2007.7 L309.7,2007.1 L304.8,2006.6 L300.0,2006.0 L296.1,2005.5 L292.4,2004.9 L288.8,2004.5 L285.2,2004.0 L281.6,2003.7 L277.9,2003.4 L274.1,2003.1 L270.0,2003.0 L264.4,2002.9 L258.4,2003.0 L252.1,2003.1 L245.7,2003.4 L239.2,2003.8 L232.7,2004.3 L226.3,2005.1 L220.0,2006.0 L213.6,2007.1 L207.2,2008.4 L200.7,2009.8 L194.2,2011.4 L187.8,2013.2 L181.6,2015.2 L175.7,2017.5 L170.0,2020.0 L165.0,2022.5 L160.1,2025.1 L155.4,2028.0 L150.8,2031.0 L146.4,2034.2 L142.3,2037.6 L138.5,2041.2 L135.0,2045.0 L132.1,2048.9 L129.6,2053.0 L127.5,2057.3 L125.5,2061.8 L123.7,2066.4 L121.9,2071.0 L120.0,2075.6 L118.0,2080.0 L118.0,2080.1 L117.9,2080.3 L117.9,2080.6 L117.8,2081.0 L117.7,2081.6 L117.5,2082.3 L117.4,2083.2 L117.2,2084.1 L116.9,2085.2 L116.7,2086.5 L116.4,2087.8 L116.1,2089.3 L115.8,2090.9 L115.4,2092.7 L115.1,2094.5 L114.7,2096.5 L114.2,2098.7 L113.8,2100.9 L113.3,2103.3 L112.8,2105.8 L112.3,2108.5 L111.8,2111.2 L111.2,2114.1 L110.6,2117.2 L110.0,2120.3 L109.4,2123.6 L108.7,2127.1 L108.1,2130.6 L107.4,2134.3 L106.7,2138.1 L106.0,2142.0 L105.2,2146.1 L104.4,2150.3 L103.7,2154.6 L102.9,2159.1 L102.0,2163.6 L101.2,2168.4 L100.4,2173.2 L99.5,2178.2 L98.6,2183.3 L97.7,2188.5 L96.8,2193.9 L95.9,2199.3 L95.0,2205.0 L94.0,2210.7 L93.1,2216.6 L92.1,2222.6 L91.1,2228.7 L90.1,2235.0 L89.1,2241.4 L88.1,2247.9 L87.1,2254.5 L86.1,2261.3 L85.0,2268.2 L84.0,2275.2 L82.9,2282.4 L81.9,2289.7 L80.8,2297.1 L79.8,2304.7 L78.7,2312.4 L77.6,2320.2 L76.6,2328.1 L75.5,2336.2 L74.4,2344.4 L73.3,2352.7 L72.2,2361.2 L71.1,2369.7 L70.1,2378.4 L69.0,2387.3 L67.9,2396.3 L66.8,2405.4 L65.7,2414.6 L64.7,2424.0 L63.6,2433.4 L62.5,2443.1 L61.4,2452.8 L60.4,2462.7 L59.3,2472.7 L58.2,2482.8 L57.2,2493.1 L56.1,2503.5 L55.1,2514.0 L54.1,2524.6 L53.0,2535.4 L52.0,2546.3 L51.0,2557.4 L50.0,2568.5 L49.0,2579.8 L48.0,2591.2 L47.0,2602.8"/>
<path d="M436.0,1608.5 L431.8,1612.6 L427.4,1616.7 L422.9,1620.7 L418.3,1624.8 L413.8,1628.8 L409.5,1632.9 L405.4,1637.1 L401.7,1641.3 L398.6,1645.6 L396.0,1650.0 L394.4,1653.7 L393.1,1657.5 L392.3,1661.3 L391.6,1665.2 L391.2,1669.1 L390.9,1673.0 L390.7,1677.1 L390.4,1681.2 L390.1,1685.3 L389.6,1689.6 L389.0,1694.8 L388.5,1700.2 L388.2,1705.7 L387.9,1711.4 L387.5,1717.1 L387.1,1722.8 L386.5,1728.6 L385.6,1734.5 L384.5,1740.3 L383.0,1746.0 L380.8,1752.6 L378.1,1759.5 L375.0,1766.4 L371.6,1773.4 L368.0,1780.3 L364.3,1787.2 L360.5,1793.9 L356.8,1800.4 L353.2,1806.6 L349.8,1812.4 L347.3,1816.6 L344.9,1820.5 L342.6,1824.1 L340.3,1827.6 L338.0,1831.0 L335.6,1834.4 L333.1,1837.9 L330.5,1841.7 L327.8,1845.6 L324.8,1850.0 L319.8,1857.5 L314.3,1865.6 L308.4,1874.3 L302.2,1883.4 L295.8,1892.8 L289.2,1902.4 L282.6,1912.1 L276.0,1921.8 L271.5,1928.5"/>
<path d="M436.0,1676.0 L431.5,1681.7 L426.7,1687.5 L421.6,1693.3 L416.6,1699.2 L411.6,1705.0 L406.9,1710.8 L402.5,1716.5 L398.6,1722.1 L395.4,1727.5 L392.9,1732.8 L391.7,1736.3 L391.0,1739.7 L390.6,1743.0 L390.4,1746.2 L390.4,1749.5 L390.5,1752.7 L390.5,1755.9 L390.5,1759.2 L390.2,1762.5 L389.6,1766.0 L388.7,1770.2 L387.6,1774.5 L386.4,1778.9 L385.0,1783.4 L383.6,1787.9 L382.0,1792.4 L380.4,1796.9 L378.7,1801.4 L376.9,1805.7 L375.0,1810.0 L373.1,1814.1 L371.2,1818.1 L369.2,1821.9 L367.1,1825.7 L365.0,1829.5 L362.7,1833.3 L360.2,1837.2 L357.5,1841.3 L354.5,1845.5 L351.3,1850.0 L345.3,1857.8 L338.4,1866.1 L330.8,1874.8 L322.6,1883.9 L314.0,1893.3 L305.1,1902.8 L296.1,1912.3 L287.1,1921.9 L279.8,1929.8"/>
<path d="M437.7,1742.7 L434.0,1745.4 L430.2,1748.0 L426.2,1750.5 L422.3,1753.1 L418.4,1755.6 L414.6,1758.2 L411.0,1760.9 L407.6,1763.8 L404.6,1766.8 L402.0,1770.0 L400.0,1773.1 L398.3,1776.3 L396.8,1779.6 L395.5,1783.0 L394.4,1786.6 L393.4,1790.1 L392.5,1793.8 L391.7,1797.5 L390.8,1801.2 L390.0,1805.0 L389.2,1809.2 L388.6,1813.6 L388.3,1818.1 L388.0,1822.7 L387.8,1827.3 L387.5,1831.9 L387.1,1836.5 L386.6,1841.1 L385.7,1845.6 L384.5,1850.0 L383.0,1854.7 L381.3,1859.3 L379.5,1864.0 L377.5,1868.7 L375.3,1873.3 L372.9,1877.8 L370.2,1882.3 L367.1,1886.7 L363.8,1890.9 L360.0,1895.0 L354.2,1900.2 L347.5,1905.2 L340.0,1909.9 L331.9,1914.4 L323.4,1918.8 L314.6,1923.1 L305.7,1927.4 L296.9,1931.7 L292.8,1933.8"/>
<path d="M441.0,1809.0 L436.7,1811.1 L432.1,1813.0 L427.4,1815.0 L422.6,1816.9 L417.9,1818.8 L413.3,1820.8 L409.2,1822.9 L405.5,1825.1 L402.4,1827.5 L400.0,1830.0 L398.9,1831.8 L398.0,1833.6 L397.4,1835.5 L397.1,1837.4 L396.9,1839.4 L396.7,1841.4 L396.7,1843.5 L396.6,1845.6 L396.5,1847.8 L396.2,1850.0 L395.9,1853.0 L395.6,1856.1 L395.4,1859.3 L395.3,1862.6 L395.2,1866.0 L395.0,1869.4 L394.7,1872.8 L394.3,1876.2 L393.7,1879.7 L392.9,1883.0 L391.9,1886.7 L390.9,1890.6 L389.8,1894.5 L388.6,1898.4 L387.2,1902.3 L385.6,1906.1 L383.8,1909.8 L381.6,1913.3 L379.0,1916.7 L376.0,1919.8 L370.8,1923.8 L364.6,1927.3 L357.4,1930.4 L349.6,1933.1 L341.3,1935.7 L332.7,1938.1 L323.9,1940.4 L315.2,1942.8 L312.6,1943.6"/>
<path d="M443.4,1875.5 L440.1,1877.0 L436.7,1878.5 L433.4,1879.9 L430.1,1881.4 L426.7,1882.8 L423.4,1884.3 L420.0,1885.9 L416.7,1887.6 L413.4,1889.4 L410.0,1891.5 L406.1,1894.3 L402.3,1897.4 L398.6,1900.8 L394.9,1904.3 L391.1,1908.0 L387.3,1911.7 L383.3,1915.3 L379.1,1918.8 L374.7,1922.0 L370.0,1925.0 L363.9,1928.2 L357.4,1931.1 L350.5,1933.7 L343.3,1936.2 L336.0,1938.5 L328.5,1940.8 L321.0,1943.0 L313.4,1945.3 L312.6,1945.5"/>
<path d="M435.1,1934.7 L429.6,1935.4 L424.3,1936.2 L418.9,1936.9 L413.6,1937.6 L408.2,1938.3 L402.8,1939.1 L397.3,1939.8 L391.7,1940.5 L385.9,1941.3 L380.0,1942.0 L372.5,1942.9 L364.8,1943.8 L356.8,1944.7 L348.7,1945.6 L340.4,1946.5 L332.0,1947.4 L323.7,1948.3 L315.3,1949.2 L313.2,1949.4"/>
<path d="M423.2,1974.0 L416.8,1973.2 L410.2,1972.4 L403.5,1971.5 L396.8,1970.7 L390.1,1969.8 L383.6,1969.0 L377.2,1968.2 L371.1,1967.4 L365.4,1966.7 L360.0,1966.0 L356.6,1965.6 L353.3,1965.2 L350.2,1964.8 L347.2,1964.4 L344.3,1964.1 L341.5,1963.7 L338.7,1963.4 L335.8,1963.0 L333.0,1962.5 L330.0,1962.0 L326.9,1961.4 L323.8,1960.8 L320.7,1960.1 L317.5,1959.4 L314.4,1958.7 L312.9,1958.3"/>
<path d="M446.0,2033.0 L440.6,2030.3 L435.0,2027.7 L429.3,2025.1 L423.6,2022.4 L418.0,2019.8 L412.4,2017.1 L407.1,2014.5 L402.0,2011.8 L397.3,2009.1 L393.0,2006.4 L390.2,2004.4 L387.7,2002.4 L385.5,2000.4 L383.3,1998.3 L381.3,1996.2 L379.3,1994.2 L377.2,1992.2 L375.0,1990.2 L372.6,1988.3 L370.0,1986.5 L366.5,1984.4 L362.8,1982.3 L358.9,1980.3 L354.8,1978.4 L350.6,1976.5 L346.3,1974.7 L342.1,1972.9 L337.9,1971.2 L333.9,1969.6 L330.0,1968.0 L326.8,1966.7 L323.6,1965.5 L320.4,1964.4 L317.3,1963.3 L314.2,1962.2 L312.5,1961.6"/>
<path d="M436.4,2101.0 L432.7,2097.9 L428.8,2095.0 L424.9,2092.2 L420.9,2089.4 L417.0,2086.5 L413.2,2083.5 L409.5,2080.4 L406.0,2077.1 L402.7,2073.5 L399.7,2069.6 L396.7,2064.5 L394.2,2058.8 L392.1,2052.7 L390.2,2046.2 L388.5,2039.6 L386.8,2033.0 L385.0,2026.6 L383.0,2020.5 L380.7,2014.9 L378.0,2010.0 L375.6,2006.6 L373.0,2003.3 L370.3,2000.3 L367.5,1997.5 L364.7,1994.8 L361.7,1992.2 L358.8,1989.8 L355.8,1987.5 L352.9,1985.2 L350.0,1983.0 L347.5,1981.2 L345.1,1979.4 L342.6,1977.8 L340.1,1976.2 L337.7,1974.7 L335.2,1973.3 L332.6,1971.9 L330.1,1970.6 L327.6,1969.3 L325.0,1968.0 L322.4,1966.8 L319.9,1965.7 L317.3,1964.7 L314.6,1963.7 L312.5,1962.9"/>
<path d="M436.4,2167.6 L433.3,2163.9 L430.0,2160.4 L426.7,2156.9 L423.4,2153.4 L420.1,2149.9 L416.9,2146.3 L413.9,2142.6 L411.0,2138.7 L408.3,2134.5 L406.0,2130.0 L403.6,2124.0 L401.7,2117.6 L400.2,2110.7 L399.0,2103.6 L397.9,2096.2 L397.0,2088.7 L396.0,2081.3 L394.9,2073.9 L393.6,2066.8 L392.0,2060.0 L390.4,2053.8 L388.8,2047.5 L387.2,2041.2 L385.5,2034.9 L383.8,2028.7 L381.9,2022.7 L379.8,2017.0 L377.5,2011.6 L374.9,2006.6 L372.0,2002.0 L369.4,1998.7 L366.6,1995.6 L363.7,1992.8 L360.6,1990.2 L357.3,1987.8 L354.0,1985.5 L350.6,1983.3 L347.1,1981.2 L343.5,1979.1 L340.0,1977.0 L336.2,1974.9 L332.3,1972.9 L328.2,1971.0 L324.1,1969.2 L319.9,1967.5 L315.7,1965.8 L312.2,1964.4"/>
<path d="M432.0,2233.0 L428.3,2227.8 L424.5,2222.7 L420.4,2217.6 L416.4,2212.6 L412.4,2207.6 L408.6,2202.4 L405.0,2197.2 L401.8,2191.7 L399.1,2186.0 L397.0,2180.0 L395.5,2172.9 L394.7,2165.4 L394.7,2157.5 L395.2,2149.5 L395.9,2141.2 L396.8,2132.9 L397.6,2124.6 L398.2,2116.2 L398.4,2108.0 L398.0,2100.0 L397.2,2092.0 L396.4,2083.8 L395.4,2075.4 L394.3,2067.1 L393.0,2058.9 L391.5,2050.8 L389.6,2043.0 L387.5,2035.5 L384.9,2028.5 L382.0,2022.0 L379.2,2017.0 L376.2,2012.3 L372.8,2007.8 L369.3,2003.6 L365.5,1999.5 L361.6,1995.7 L357.6,1992.0 L353.4,1988.5 L349.2,1985.2 L345.0,1982.0 L340.8,1979.1 L336.4,1976.5 L331.9,1974.2 L327.3,1972.0 L322.5,1970.0 L317.8,1968.0 L313.0,1966.1 L312.1,1965.7"/>
<path d="M447.7,2309.4 L442.8,2305.5 L437.6,2301.7 L432.3,2297.9 L426.9,2294.1 L421.7,2290.3 L416.6,2286.5 L411.7,2282.6 L407.3,2278.5 L403.4,2274.4 L400.0,2270.0 L397.7,2266.4 L395.7,2262.7 L394.0,2259.1 L392.5,2255.4 L391.2,2251.7 L390.2,2247.7 L389.2,2243.6 L388.4,2239.3 L387.7,2234.7 L387.0,2229.8 L386.3,2221.0 L386.2,2211.2 L386.6,2200.6 L387.4,2189.3 L388.4,2177.7 L389.5,2165.8 L390.6,2153.9 L391.4,2142.1 L391.9,2130.8 L392.0,2120.0 L391.9,2110.5 L391.8,2100.9 L391.8,2091.2 L391.7,2081.7 L391.4,2072.2 L390.9,2063.0 L389.9,2054.1 L388.5,2045.6 L386.6,2037.5 L384.0,2030.0 L381.3,2024.1 L378.3,2018.4 L374.9,2013.0 L371.1,2007.8 L367.1,2002.9 L362.9,1998.2 L358.5,1993.7 L354.1,1989.5 L349.5,1985.6 L345.0,1982.0 L340.8,1979.0 L336.4,1976.4 L331.9,1974.1 L327.3,1972.1 L322.5,1970.2 L317.8,1968.4 L313.0,1966.6 L312.3,1966.3"/>
<path d="M443.0,2389.0 L438.6,2384.0 L433.9,2378.9 L429.1,2373.8 L424.2,2368.6 L419.5,2363.4 L414.9,2358.3 L410.5,2353.4 L406.5,2348.7 L403.0,2344.2 L400.0,2340.0 L398.5,2337.7 L397.1,2335.7 L395.9,2333.9 L394.8,2332.1 L393.7,2330.3 L392.8,2328.5 L392.0,2326.5 L391.2,2324.3 L390.5,2321.9 L389.8,2319.0 L388.5,2311.1 L387.8,2301.5 L387.4,2290.4 L387.5,2278.3 L387.8,2265.4 L388.4,2252.0 L389.2,2238.4 L390.1,2225.1 L391.0,2212.1 L392.0,2200.0 L393.3,2188.7 L395.2,2177.3 L397.4,2165.8 L399.9,2154.3 L402.4,2143.0 L404.7,2131.8 L406.6,2120.9 L407.9,2110.2 L408.5,2099.9 L408.0,2090.0 L406.9,2082.2 L405.4,2074.4 L403.4,2066.9 L401.0,2059.5 L398.4,2052.3 L395.4,2045.3 L392.3,2038.6 L389.0,2032.1 L385.5,2025.9 L382.0,2020.0 L378.9,2015.2 L375.7,2010.5 L372.3,2006.0 L368.7,2001.7 L365.1,1997.5 L361.3,1993.6 L357.4,1989.9 L353.4,1986.4 L349.2,1983.1 L345.0,1980.0 L340.8,1977.4 L336.4,1975.1 L331.9,1973.0 L327.3,1971.2 L322.6,1969.5 L317.8,1968.0 L313.0,1966.4 L312.5,1966.3"/>
<path d="M443.0,2455.0 L438.6,2449.6 L434.1,2444.2 L429.5,2438.9 L424.9,2433.6 L420.3,2428.3 L415.8,2422.9 L411.5,2417.4 L407.4,2411.8 L403.5,2406.0 L400.0,2400.0 L396.6,2393.7 L393.5,2387.3 L390.4,2380.8 L387.6,2374.1 L385.0,2367.3 L382.7,2360.4 L380.6,2353.2 L378.7,2345.8 L377.2,2338.0 L376.0,2330.0 L375.0,2318.6 L374.6,2306.4 L374.9,2293.5 L375.6,2280.1 L376.7,2266.5 L378.2,2252.7 L380.0,2239.0 L381.9,2225.5 L384.0,2212.4 L386.0,2200.0 L388.2,2189.3 L391.1,2178.9 L394.5,2168.5 L398.1,2158.4 L401.7,2148.3 L405.1,2138.4 L408.0,2128.6 L410.3,2119.0 L411.7,2109.4 L412.0,2100.0 L411.4,2091.4 L410.1,2082.8 L408.2,2074.2 L405.8,2065.6 L403.0,2057.2 L399.8,2049.1 L396.4,2041.2 L392.7,2033.7 L388.9,2026.6 L385.0,2020.0 L381.7,2015.0 L378.2,2010.2 L374.5,2005.6 L370.6,2001.3 L366.6,1997.2 L362.5,1993.4 L358.2,1989.7 L353.9,1986.3 L349.5,1983.0 L345.0,1980.0 L340.7,1977.4 L336.3,1975.2 L331.8,1973.2 L327.1,1971.4 L322.4,1969.8 L317.7,1968.3 L312.9,1966.8 L312.5,1966.7"/>
<path d="M431.0,2515.7 L427.8,2510.1 L424.4,2504.3 L420.9,2498.6 L417.4,2492.8 L413.9,2487.0 L410.6,2481.3 L407.4,2475.7 L404.6,2470.3 L402.1,2465.0 L400.0,2460.0 L398.8,2456.7 L397.8,2453.7 L397.0,2450.9 L396.3,2448.2 L395.7,2445.4 L395.2,2442.6 L394.8,2439.7 L394.4,2436.5 L393.9,2433.0 L393.5,2429.0 L392.7,2419.7 L392.0,2409.0 L391.6,2397.1 L391.3,2384.3 L391.1,2370.7 L391.1,2356.6 L391.2,2342.2 L391.4,2327.8 L391.7,2313.7 L392.0,2300.0 L392.6,2285.3 L393.5,2270.1 L394.7,2254.6 L396.1,2239.0 L397.5,2223.3 L398.9,2207.8 L400.1,2192.6 L401.1,2177.7 L401.8,2163.5 L402.0,2150.0 L402.0,2140.0 L402.0,2130.2 L401.9,2120.7 L401.7,2111.3 L401.4,2102.3 L400.9,2093.4 L400.1,2084.7 L399.1,2076.3 L397.7,2068.0 L396.0,2060.0 L394.2,2053.2 L392.3,2046.5 L390.1,2039.8 L387.7,2033.2 L385.2,2026.8 L382.5,2020.7 L379.6,2014.9 L376.5,2009.5 L373.3,2004.5 L370.0,2000.0 L367.4,1997.0 L364.7,1994.2 L361.9,1991.7 L359.0,1989.4 L356.0,1987.3 L353.0,1985.3 L349.8,1983.5 L346.6,1981.6 L343.3,1979.8 L340.0,1978.0 L336.2,1976.1 L332.3,1974.3 L328.3,1972.6 L324.2,1971.0 L320.0,1969.5 L315.7,1968.0 L312.5,1966.9"/>
<path d="M701.3,2791.5 L691.2,2791.3 L681.2,2791.2 L671.1,2791.0 L661.1,2790.8 L651.1,2790.5 L641.1,2790.3 L631.0,2790.1 L621.0,2789.9 L611.0,2789.7 L600.9,2789.6 L590.8,2789.4 L580.7,2789.3 L570.6,2789.2 L560.4,2789.1 L550.2,2789.0 L540.0,2789.0 L529.3,2789.0 L518.6,2789.1 L507.9,2789.2 L497.1,2789.3 L486.2,2789.5 L475.4,2789.6 L464.5,2789.8 L453.6,2790.1 L442.7,2790.3 L431.8,2790.5 L420.9,2790.7 L410.0,2791.0 L399.1,2791.2 L388.2,2791.4 L381.0,2791.5"/>
<path d="M420.4,2818.5 L402.4,2816.0 L384.5,2813.5 L380.9,2813.0"/>
<path d="M701.3,2808.0 L684.7,2810.2 L668.1,2812.3 L665.9,2812.6"/>
<path d="M463.4,3063.5 L416.5,3063.5 L369.7,3063.5 L337.3,3063.5"/>
<path d="M461.4,3157.0 L411.4,3162.3 L361.5,3167.7 L325.9,3171.5"/>
<path d="M447.0,3913.5 L444.4,3914.7 L441.8,3915.9 L439.2,3917.0 L436.6,3918.1 L433.9,3919.2 L431.3,3920.3 L428.6,3921.4 L426.0,3922.5 L423.4,3923.6 L420.8,3924.8 L418.3,3926.0 L415.8,3927.3 L413.3,3928.6 L410.9,3930.0 L408.6,3931.4 L406.4,3933.0 L404.4,3934.6 L402.4,3936.3 L400.6,3938.1 L398.8,3940.0 L397.1,3942.0 L395.4,3944.1 L393.8,3946.1 L392.2,3948.2 L390.5,3950.2 L388.9,3952.3 L387.2,3954.3 L385.5,3956.2 L383.8,3958.1 L381.9,3959.8 L380.0,3961.5 L378.0,3963.0 L375.9,3964.4 L373.7,3965.7 L371.5,3967.0 L369.2,3968.2 L366.9,3969.3 L364.5,3970.4 L362.1,3971.4 L359.7,3972.4 L357.3,3973.3 L354.8,3974.2 L352.3,3975.1 L349.8,3975.9 L347.4,3976.7 L344.9,3977.5 L342.4,3978.2 L340.0,3979.0 L337.6,3979.7 L335.2,3980.3 L332.8,3980.9 L330.4,3981.5 L328.0,3982.0 L325.6,3982.5 L323.1,3983.0 L320.7,3983.4 L318.3,3983.8 L315.8,3984.2 L315.5,3984.3"/>
<path d="M452.9,3968.2 L402.3,3974.4 L351.8,3980.6 L315.6,3985.0"/>
<path d="M441.0,4014.0 L394.4,4008.3 L347.8,4002.6 L315.6,3998.7"/>
<path d="M455.0,4071.5 L451.9,4070.5 L448.8,4069.6 L445.6,4068.7 L442.4,4067.8 L439.2,4066.9 L436.0,4066.1 L432.8,4065.2 L429.6,4064.4 L426.4,4063.5 L423.3,4062.5 L420.3,4061.5 L417.3,4060.4 L414.4,4059.2 L411.6,4057.9 L408.9,4056.5 L406.4,4055.0 L404.2,4053.5 L402.2,4051.9 L400.3,4050.1 L398.5,4048.3 L396.8,4046.4 L395.1,4044.4 L393.4,4042.4 L391.8,4040.3 L390.2,4038.2 L388.6,4036.2 L387.0,4034.2 L385.4,4032.2 L383.6,4030.2 L381.9,4028.4 L380.0,4026.6 L378.0,4025.0 L375.9,4023.4 L373.7,4021.8 L371.5,4020.3 L369.2,4018.7 L366.9,4017.2 L364.5,4015.8 L362.1,4014.4 L359.7,4013.0 L357.3,4011.7 L354.8,4010.4 L352.4,4009.2 L349.9,4008.0 L347.4,4006.9 L344.9,4005.9 L342.5,4004.9 L340.0,4004.0 L337.6,4003.2 L335.3,4002.5 L332.9,4001.9 L330.5,4001.3 L328.1,4000.9 L325.6,4000.4 L323.2,4000.0 L320.8,3999.7 L318.3,3999.3 L315.9,3999.0 L315.6,3999.0"/>
<path d="M487.6,4952.0 L431.6,4952.0 L375.7,4952.0 L334.2,4952.0"/>
<path d="M487.6,4957.0 L434.9,4970.0 L382.1,4983.0 L343.5,4992.5"/>
<path d="M461.4,3146.0 L453.3,3145.0 L445.4,3144.0 L437.6,3143.0 L429.8,3142.0 L421.9,3141.1 L413.9,3140.1 L405.8,3139.1 L397.5,3138.1 L388.9,3137.0 L380.0,3136.0 L368.2,3134.7 L355.7,3133.4 L342.7,3132.1 L329.3,3130.8 L315.8,3129.4 L302.2,3128.1 L288.7,3126.7 L275.4,3125.2 L262.4,3123.6 L250.0,3122.0 L239.1,3120.5 L228.0,3119.1 L216.8,3117.7 L205.7,3116.2 L194.8,3114.7 L184.3,3113.0 L174.5,3111.3 L165.3,3109.4 L157.1,3107.3 L150.0,3105.0 L146.6,3103.7 L143.5,3102.5 L140.6,3101.2 L137.8,3099.9 L135.3,3098.6 L133.0,3097.2 L130.8,3095.6 L128.7,3093.9 L126.8,3092.1 L125.0,3090.0 L123.3,3087.6 L122.0,3084.9 L120.8,3082.1 L119.8,3079.1 L119.0,3075.9 L118.2,3072.7 L117.5,3069.5 L116.7,3066.2 L115.9,3063.1 L115.0,3060.0 L115.0,3060.0 L115.0,3059.8 L114.9,3059.6 L114.8,3059.2 L114.7,3058.8 L114.6,3058.2 L114.4,3057.6 L114.2,3056.8 L114.0,3056.0 L113.8,3055.0 L113.5,3054.0 L113.3,3052.9 L113.0,3051.6 L112.6,3050.3 L112.3,3048.9 L111.9,3047.3 L111.5,3045.7 L111.1,3044.0 L110.7,3042.1 L110.2,3040.2 L109.8,3038.2 L109.3,3036.0 L108.7,3033.8 L108.2,3031.5 L107.6,3029.0 L107.0,3026.5 L106.4,3023.9 L105.8,3021.2 L105.2,3018.3 L104.5,3015.4 L103.8,3012.4 L103.1,3009.3 L102.4,3006.1 L101.7,3002.7 L100.9,2999.3 L100.2,2995.8 L99.4,2992.2 L98.6,2988.5 L97.8,2984.7 L97.0,2980.8 L96.1,2976.7 L95.3,2972.6 L94.4,2968.4 L93.5,2964.1 L92.6,2959.7 L91.7,2955.2 L90.8,2950.6 L89.8,2945.9 L88.9,2941.1 L87.9,2936.2 L87.0,2931.2 L86.0,2926.1 L85.0,2920.9 L84.0,2915.6 L83.0,2910.2 L82.0,2904.7 L81.0,2899.1 L80.0,2893.4 L78.9,2887.6 L77.9,2881.7 L76.8,2875.7 L75.8,2869.6 L74.7,2863.4 L73.7,2857.1 L72.6,2850.7 L71.5,2844.2 L70.5,2837.7 L69.4,2831.0 L68.3,2824.2 L67.3,2817.3 L66.2,2810.3 L65.1,2803.2 L64.0,2796.1 L62.9,2788.8 L61.9,2781.4 L60.8,2773.9 L59.7,2766.3 L58.6,2758.7 L57.6,2750.9 L56.5,2743.0 L55.4,2735.0 L54.4,2727.0 L53.3,2718.8 L52.3,2710.5 L51.2,2702.1 L50.1,2693.7 L49.1,2685.1 L48.1,2676.4 L47.0,2667.7 L46.0,2658.8"/>
<path d="M487.6,4941.0 L468.7,4937.6 L449.7,4934.1 L430.7,4930.7 L411.6,4927.2 L392.5,4923.7 L373.5,4920.3 L354.7,4916.9 L336.2,4913.5 L317.9,4910.2 L300.0,4907.0 L283.7,4904.1 L266.6,4901.3 L249.1,4898.4 L231.7,4895.6 L214.8,4892.9 L198.6,4890.1 L183.7,4887.5 L170.3,4884.9 L159.0,4882.4 L150.0,4880.0 L147.4,4879.2 L145.0,4878.5 L142.9,4877.8 L141.0,4877.2 L139.2,4876.5 L137.6,4875.8 L136.1,4875.1 L134.7,4874.2 L133.3,4873.2 L132.0,4872.0 L130.8,4870.7 L129.7,4869.3 L128.8,4867.8 L127.9,4866.1 L127.1,4864.4 L126.4,4862.7 L125.8,4860.8 L125.2,4858.9 L124.6,4857.0 L124.0,4855.0 L123.3,4852.4 L122.8,4849.6 L122.3,4846.7 L121.9,4843.7 L121.6,4840.6 L121.3,4837.5 L121.0,4834.3 L120.7,4831.2 L120.4,4828.0 L120.0,4825.0 L120.0,4824.7 L119.9,4823.9 L119.7,4822.6 L119.4,4820.7 L119.1,4818.3 L118.7,4815.4 L118.3,4811.9 L117.8,4807.9 L117.2,4803.3 L116.5,4798.3 L115.8,4792.6 L115.0,4786.5 L114.2,4779.8 L113.3,4772.6 L112.4,4764.8 L111.4,4756.5 L110.4,4747.7 L109.3,4738.4 L108.2,4728.5 L107.0,4718.0 L105.8,4707.1 L104.6,4695.6 L103.3,4683.5 L102.1,4671.0 L100.7,4657.9 L99.4,4644.2 L98.1,4630.0 L96.7,4615.3 L95.3,4600.1 L93.9,4584.3 L92.5,4568.0 L91.1,4551.1 L89.7,4533.8 L88.3,4515.8 L86.9,4497.4 L85.5,4478.4 L84.1,4458.9 L82.7,4438.8 L81.4,4418.2 L80.0,4397.1 L78.7,4375.4 L77.4,4353.2 L76.1,4330.5 L74.8,4307.3 L73.5,4283.4 L72.3,4259.1 L71.1,4234.2 L70.0,4208.8 L68.8,4182.9 L67.7,4156.4 L66.6,4129.4 L65.6,4101.9 L64.5,4073.8 L63.5,4045.2 L62.6,4016.0 L61.7,3986.3 L60.8,3956.1 L59.9,3925.4 L59.1,3894.1 L58.3,3862.2 L57.5,3829.9 L56.8,3797.0 L56.0,3763.6 L55.4,3729.6 L54.7,3695.1 L54.1,3660.1 L53.5,3624.5 L52.9,3588.4 L52.4,3551.8 L51.9,3514.6 L51.4,3476.9 L50.9,3438.6 L50.5,3399.9 L50.1,3360.5 L49.7,3320.7 L49.3,3280.3 L49.0,3239.4 L48.7,3197.9 L48.3,3156.0 L48.1,3113.4 L47.8,3070.4 L47.5,3026.8 L47.3,2982.7 L47.1,2938.0 L46.9,2892.8 L46.7,2847.1 L46.5,2800.8 L46.3,2754.0 L46.1,2706.7 L46.0,2658.8"/>
</g>
<g fill="#fff" stroke-width="1.4">
<rect x="174.5" y="5.3" width="151.2" height="42.7" fill="#ffffff" stroke="#000"/>
<text x="250.1" y="22.7" text-anchor="middle" textLength="130.1" lengthAdjust="spacingAndGlyphs">Admin_ApiController</text>
<text x="250.1" y="38.7" text-anchor="middle" textLength="126.2" lengthAdjust="spacingAndGlyphs">\permissions_action</text>
<rect x="151.0" y="71.6" width="199.0" height="42.7" fill="#ffffff" stroke="#000"/>
<text x="250.5" y="89.0" text-anchor="middle" textLength="175.7" lengthAdjust="spacingAndGlyphs">Admin_AutoinsertController</text>
<text x="250.5" y="105.0" text-anchor="middle" textLength="76.3" lengthAdjust="spacingAndGlyphs">\new_action</text>
<rect x="151.0" y="138.4" width="199.0" height="42.7" fill="#ffffff" stroke="#000"/>
<text x="250.5" y="155.8" text-anchor="middle" textLength="175.7" lengthAdjust="spacingAndGlyphs">Admin_AutoinsertController</text>
<text x="250.5" y="171.8" text-anchor="middle" textLength="97.7" lengthAdjust="spacingAndGlyphs">\manual_action</text>
<rect x="151.0" y="205.0" width="199.0" height="42.7" fill="#ffffff" stroke="#000"/>
<text x="250.5" y="222.4" text-anchor="middle" textLength="175.7" lengthAdjust="spacingAndGlyphs">Admin_AutoinsertController</text>
<text x="250.5" y="238.4" text-anchor="middle" textLength="140.0" lengthAdjust="spacingAndGlyphs">\manual_count_action</text>
<rect x="159.0" y="271.8" width="183.0" height="42.7" fill="#ffffff" stroke="#000"/>
<text x="250.5" y="289.2" text-anchor="middle" textLength="160.9" lengthAdjust="spacingAndGlyphs">Admin_CoursesController</text>
<text x="250.5" y="305.2" text-anchor="middle" textLength="126.2" lengthAdjust="spacingAndGlyphs">\set_lockrule_action</text>
<rect x="159.0" y="338.5" width="183.0" height="42.7" fill="#ffffff" stroke="#000"/>
<text x="250.5" y="355.9" text-anchor="middle" textLength="160.9" lengthAdjust="spacingAndGlyphs">Admin_CoursesController</text>
<text x="250.5" y="371.9" text-anchor="middle" textLength="128.3" lengthAdjust="spacingAndGlyphs">\set_visibility_action</text>
<rect x="159.0" y="405.2" width="183.0" height="42.7" fill="#ffffff" stroke="#000"/>
<text x="250.5" y="422.6" text-anchor="middle" textLength="160.9" lengthAdjust="spacingAndGlyphs">Admin_CoursesController</text>
<text x="250.5" y="438.6" text-anchor="middle" textLength="156.0" lengthAdjust="spacingAndGlyphs">\set_aux_lockrule_action</text>
<rect x="151.3" y="471.8" width="199.0" height="42.7" fill="#ffffff" stroke="#000"/>
<text x="250.8" y="489.2" text-anchor="middle" textLength="174.4" lengthAdjust="spacingAndGlyphs">Admin_Cronjobs_Schedules</text>
<text x="250.8" y="505.2" text-anchor="middle" textLength="137.1" lengthAdjust="spacingAndGlyphs">Controller\edit_action</text>
<rect x="135.6" y="538.6" width="229.8" height="42.7" fill="#ffffff" stroke="#000"/>
<text x="250.5" y="556.0" text-anchor="middle" textLength="206.1" lengthAdjust="spacingAndGlyphs">Admin_Cronjobs_TasksController</text>
<text x="250.5" y="572.0" text-anchor="middle" textLength="100.5" lengthAdjust="spacingAndGlyphs">\execute_action</text>
<rect x="152.4" y="605.3" width="196.3" height="42.7" fill="#ffffff" stroke="#000"/>
<text x="250.6" y="622.7" text-anchor="middle" textLength="174.3" lengthAdjust="spacingAndGlyphs">Admin_DatafieldsController</text>
<text x="250.6" y="638.7" text-anchor="middle" textLength="74.4" lengthAdjust="spacingAndGlyphs">\edit_action</text>
<rect x="152.4" y="672.0" width="196.3" height="42.7" fill="#ffffff" stroke="#000"/>
<text x="250.6" y="689.4" text-anchor="middle" textLength="174.3" lengthAdjust="spacingAndGlyphs">Admin_DatafieldsController</text>
<text x="250.6" y="705.4" text-anchor="middle" textLength="76.3" lengthAdjust="spacingAndGlyphs">\new_action</text>
<rect x="145.4" y="738.6" width="210.3" height="42.7" fill="#ffffff" stroke="#000"/>
<text x="250.6" y="756.0" text-anchor="middle" textLength="186.1" lengthAdjust="spacingAndGlyphs">Admin_SemClassesController</text>
<text x="250.6" y="772.0" text-anchor="middle" textLength="79.8" lengthAdjust="spacingAndGlyphs">\save_action</text>
<rect x="143.7" y="805.2" width="213.6" height="42.7" fill="#ffffff" stroke="#000"/>
<text x="250.5" y="822.6" text-anchor="middle" textLength="191.6" lengthAdjust="spacingAndGlyphs">Admin_SpecificationController</text>
<text x="250.5" y="838.6" text-anchor="middle" textLength="74.4" lengthAdjust="spacingAndGlyphs">\edit_action</text>
<rect x="169.1" y="871.8" width="162.5" height="42.7" fill="#ffffff" stroke="#000"/>
<text x="250.4" y="889.2" text-anchor="middle" textLength="138.8" lengthAdjust="spacingAndGlyphs">Admin_UserController</text>
<text x="250.4" y="905.2" text-anchor="middle" textLength="90.1" lengthAdjust="spacingAndGlyphs">\delete_action</text>
<rect x="169.1" y="938.4" width="162.5" height="42.7" fill="#ffffff" stroke="#000"/>
<text x="250.4" y="955.8" text-anchor="middle" textLength="138.8" lengthAdjust="spacingAndGlyphs">Admin_UserController</text>
<text x="250.4" y="971.8" text-anchor="middle" textLength="74.4" lengthAdjust="spacingAndGlyphs">\edit_action</text>
<rect x="169.1" y="1005.1" width="162.5" height="42.7" fill="#ffffff" stroke="#000"/>
<text x="250.4" y="1022.5" text-anchor="middle" textLength="138.8" lengthAdjust="spacingAndGlyphs">Admin_UserController</text>
<text x="250.4" y="1038.5" text-anchor="middle" textLength="133.5" lengthAdjust="spacingAndGlyphs">\edit_institute_action</text>
<rect x="139.4" y="1071.7" width="222.8" height="42.7" fill="#ffffff" stroke="#000"/>
<text x="250.8" y="1089.1" text-anchor="middle" textLength="198.3" lengthAdjust="spacingAndGlyphs">Admission_CoursesetController</text>
<text x="250.8" y="1105.1" text-anchor="middle" textLength="84.8" lengthAdjust="spacingAndGlyphs">\index_action</text>
<rect x="139.4" y="1138.4" width="222.8" height="42.7" fill="#ffffff" stroke="#000"/>
<text x="250.8" y="1155.8" text-anchor="middle" textLength="198.3" lengthAdjust="spacingAndGlyphs">Admission_CoursesetController</text>
<text x="250.8" y="1171.8" text-anchor="middle" textLength="79.8" lengthAdjust="spacingAndGlyphs">\save_action</text>
<rect x="139.4" y="1205.1" width="222.8" height="42.7" fill="#ffffff" stroke="#000"/>
<text x="250.8" y="1222.5" text-anchor="middle" textLength="198.3" lengthAdjust="spacingAndGlyphs">Admission_CoursesetController</text>
<text x="250.8" y="1238.5" text-anchor="middle" textLength="122.4" lengthAdjust="spacingAndGlyphs">\instcourses_action</text>
<rect x="139.4" y="1271.7" width="222.8" height="42.7" fill="#ffffff" stroke="#000"/>
<text x="250.8" y="1289.1" text-anchor="middle" textLength="198.3" lengthAdjust="spacingAndGlyphs">Admission_CoursesetController</text>
<text x="250.8" y="1305.1" text-anchor="middle" textLength="109.3" lengthAdjust="spacingAndGlyphs">\institutes_action</text>
<rect x="143.2" y="1338.4" width="214.7" height="42.7" fill="#ffffff" stroke="#000"/>
<text x="250.5" y="1355.8" text-anchor="middle" textLength="192.7" lengthAdjust="spacingAndGlyphs">Admission_RuleAdministration</text>
<text x="250.5" y="1371.8" text-anchor="middle" textLength="164.2" lengthAdjust="spacingAndGlyphs">Controller\activate_action</text>
<rect x="145.4" y="1405.0" width="210.3" height="42.7" fill="#ffffff" stroke="#000"/>
<text x="250.6" y="1422.4" text-anchor="middle" textLength="185.7" lengthAdjust="spacingAndGlyphs">Admission_UserListController</text>
<text x="250.6" y="1438.4" text-anchor="middle" textLength="79.8" lengthAdjust="spacingAndGlyphs">\save_action</text>
<rect x="136.2" y="1471.7" width="228.7" height="42.7" fill="#ffffff" stroke="#000"/>
<text x="250.5" y="1489.1" text-anchor="middle" textLength="207.0" lengthAdjust="spacingAndGlyphs">Calendar_InstscheduleController</text>
<text x="250.5" y="1505.1" text-anchor="middle" textLength="84.8" lengthAdjust="spacingAndGlyphs">\index_action</text>
<rect x="147.0" y="1538.4" width="207.1" height="42.7" fill="#ffffff" stroke="#000"/>
<text x="250.6" y="1555.8" text-anchor="middle" textLength="185.0" lengthAdjust="spacingAndGlyphs">Calendar_ScheduleController</text>
<text x="250.6" y="1571.8" text-anchor="middle" textLength="84.8" lengthAdjust="spacingAndGlyphs">\index_action</text>
<rect x="147.0" y="1605.0" width="207.1" height="42.7" fill="#ffffff" stroke="#000"/>
<text x="250.6" y="1622.4" text-anchor="middle" textLength="185.0" lengthAdjust="spacingAndGlyphs">Calendar_ScheduleController</text>
<text x="250.6" y="1638.4" text-anchor="middle" textLength="133.0" lengthAdjust="spacingAndGlyphs">\storesettings_action</text>
<rect x="149.1" y="1671.7" width="203.4" height="42.7" fill="#ffffff" stroke="#000"/>
<text x="250.8" y="1689.1" text-anchor="middle" textLength="178.8" lengthAdjust="spacingAndGlyphs">Course_AdmissionController</text>
<text x="250.8" y="1705.1" text-anchor="middle" textLength="157.6" lengthAdjust="spacingAndGlyphs">\change_domains_action</text>
<rect x="202.3" y="1941.2" width="96.4" height="27.0" fill="#ffffff" stroke="#ff0000"/>
<text x="250.5" y="1958.8" text-anchor="middle" textLength="74.6" lengthAdjust="spacingAndGlyphs">optionArray</text>
<rect x="156.1" y="2042.3" width="188.8" height="42.7" fill="#ffffff" stroke="#000"/>
<text x="250.5" y="2059.7" text-anchor="middle" textLength="165.6" lengthAdjust="spacingAndGlyphs">Settings_DetailsController</text>
<text x="250.5" y="2075.7" text-anchor="middle" textLength="82.2" lengthAdjust="spacingAndGlyphs">\store_action</text>
<rect x="149.1" y="2108.9" width="203.4" height="42.7" fill="#ffffff" stroke="#000"/>
<text x="250.8" y="2126.3" text-anchor="middle" textLength="179.4" lengthAdjust="spacingAndGlyphs">Course_EnrolmentController</text>
<text x="250.8" y="2142.3" text-anchor="middle" textLength="84.3" lengthAdjust="spacingAndGlyphs">\claim_action</text>
<rect x="152.4" y="2175.6" width="196.3" height="42.7" fill="#ffffff" stroke="#000"/>
<text x="250.6" y="2193.0" text-anchor="middle" textLength="172.7" lengthAdjust="spacingAndGlyphs">Course_MembersController</text>
<text x="250.6" y="2209.0" text-anchor="middle" textLength="137.3" lengthAdjust="spacingAndGlyphs">\set_autor_csv_action</text>
<rect x="152.4" y="2242.3" width="196.3" height="42.7" fill="#ffffff" stroke="#000"/>
<text x="250.6" y="2259.7" text-anchor="middle" textLength="172.7" lengthAdjust="spacingAndGlyphs">Course_MembersController</text>
<text x="250.6" y="2275.7" text-anchor="middle" textLength="111.9" lengthAdjust="spacingAndGlyphs">\edit_tutor_action</text>
<rect x="152.4" y="2308.9" width="196.3" height="42.7" fill="#ffffff" stroke="#000"/>
<text x="250.6" y="2326.3" text-anchor="middle" textLength="172.7" lengthAdjust="spacingAndGlyphs">Course_MembersController</text>
<text x="250.6" y="2342.3" text-anchor="middle" textLength="114.7" lengthAdjust="spacingAndGlyphs">\edit_autor_action</text>
<rect x="152.4" y="2375.6" width="196.3" height="42.7" fill="#ffffff" stroke="#000"/>
<text x="250.6" y="2393.0" text-anchor="middle" textLength="172.7" lengthAdjust="spacingAndGlyphs">Course_MembersController</text>
<text x="250.6" y="2409.0" text-anchor="middle" textLength="108.6" lengthAdjust="spacingAndGlyphs">\edit_user_action</text>
<rect x="152.4" y="2442.3" width="196.3" height="42.7" fill="#ffffff" stroke="#000"/>
<text x="250.6" y="2459.7" text-anchor="middle" textLength="172.7" lengthAdjust="spacingAndGlyphs">Course_MembersController</text>
<text x="250.6" y="2475.7" text-anchor="middle" textLength="135.1" lengthAdjust="spacingAndGlyphs">\edit_awaiting_action</text>
<rect x="152.4" y="2508.9" width="196.3" height="42.7" fill="#ffffff" stroke="#000"/>
<text x="250.6" y="2526.3" text-anchor="middle" textLength="172.7" lengthAdjust="spacingAndGlyphs">Course_MembersController</text>
<text x="250.6" y="2542.3" text-anchor="middle" textLength="139.5" lengthAdjust="spacingAndGlyphs">\edit_accepted_action</text>
<rect x="152.4" y="2575.4" width="196.3" height="42.7" fill="#ffffff" stroke="#000"/>
<text x="250.6" y="2592.8" text-anchor="middle" textLength="172.7" lengthAdjust="spacingAndGlyphs">Course_MembersController</text>
<text x="250.6" y="2608.8" text-anchor="middle" textLength="175.4" lengthAdjust="spacingAndGlyphs">\cancel_subscription_action</text>
<rect x="152.4" y="2642.1" width="196.3" height="42.7" fill="#ffffff" stroke="#000"/>
<text x="250.6" y="2659.5" text-anchor="middle" textLength="172.7" lengthAdjust="spacingAndGlyphs">Course_MembersController</text>
<text x="250.6" y="2675.5" text-anchor="middle" textLength="113.2" lengthAdjust="spacingAndGlyphs">\additional_action</text>
<rect x="152.4" y="2708.8" width="196.3" height="42.7" fill="#ffffff" stroke="#000"/>
<text x="250.6" y="2726.2" text-anchor="middle" textLength="172.7" lengthAdjust="spacingAndGlyphs">Course_MembersController</text>
<text x="250.6" y="2742.2" text-anchor="middle" textLength="152.4" lengthAdjust="spacingAndGlyphs">\additional_input_action</text>
<rect x="135.1" y="2775.8" width="231.4" height="42.7" fill="#ffffff" stroke="#000"/>
<text x="250.8" y="2793.2" text-anchor="middle" textLength="208.3" lengthAdjust="spacingAndGlyphs">Course_RoomRequestsController</text>
<text x="250.8" y="2809.2" text-anchor="middle" textLength="89.4" lengthAdjust="spacingAndGlyphs">\process_form</text>
<rect x="144.8" y="2842.3" width="211.4" height="42.7" fill="#ffffff" stroke="#000"/>
<text x="250.5" y="2859.7" text-anchor="middle" textLength="186.4" lengthAdjust="spacingAndGlyphs">Course_StudyAreasController</text>
<text x="250.5" y="2875.7" text-anchor="middle" textLength="82.9" lengthAdjust="spacingAndGlyphs">\show_action</text>
<rect x="163.1" y="2909.0" width="175.3" height="42.7" fill="#ffffff" stroke="#000"/>
<text x="250.8" y="2926.4" text-anchor="middle" textLength="152.3" lengthAdjust="spacingAndGlyphs">Course_TopicsController</text>
<text x="250.8" y="2942.4" text-anchor="middle" textLength="84.8" lengthAdjust="spacingAndGlyphs">\index_action</text>
<rect x="163.1" y="2975.7" width="175.3" height="42.7" fill="#ffffff" stroke="#000"/>
<text x="250.8" y="2993.1" text-anchor="middle" textLength="152.3" lengthAdjust="spacingAndGlyphs">Course_TopicsController</text>
<text x="250.8" y="3009.1" text-anchor="middle" textLength="80.4" lengthAdjust="spacingAndGlyphs">\copy_action</text>
<rect x="178.3" y="3042.3" width="144.5" height="42.7" fill="#ffffff" stroke="#000"/>
<text x="250.6" y="3059.7" text-anchor="middle" textLength="123.3" lengthAdjust="spacingAndGlyphs">JsupdaterController</text>
<text x="250.6" y="3075.7" text-anchor="middle" textLength="105.7" lengthAdjust="spacingAndGlyphs">\coreInformation</text>
<rect x="189.6" y="3159.8" width="121.9" height="27.0" fill="#ffffff" stroke="#000"/>
<text x="250.6" y="3177.4" text-anchor="middle" textLength="98.1" lengthAdjust="spacingAndGlyphs">usernameArray</text>
<rect x="176.1" y="3210.1" width="148.9" height="42.7" fill="#ffffff" stroke="#000"/>
<text x="250.6" y="3227.5" text-anchor="middle" textLength="125.2" lengthAdjust="spacingAndGlyphs">MessagesController</text>
<text x="250.6" y="3243.5" text-anchor="middle" textLength="80.6" lengthAdjust="spacingAndGlyphs">\send_action</text>
<rect x="172.3" y="3276.9" width="155.9" height="42.7" fill="#ffffff" stroke="#000"/>
<text x="250.2" y="3294.3" text-anchor="middle" textLength="132.4" lengthAdjust="spacingAndGlyphs">MyCoursesController</text>
<text x="250.2" y="3310.3" text-anchor="middle" textLength="132.2" lengthAdjust="spacingAndGlyphs">\store_groups_action</text>
<rect x="169.1" y="3343.7" width="162.9" height="42.7" fill="#ffffff" stroke="#000"/>
<text x="250.6" y="3361.1" text-anchor="middle" textLength="141.1" lengthAdjust="spacingAndGlyphs">QuicksearchController</text>
<text x="250.6" y="3377.1" text-anchor="middle" textLength="107.8" lengthAdjust="spacingAndGlyphs">\response_action</text>
<rect x="142.1" y="3410.3" width="216.8" height="42.7" fill="#ffffff" stroke="#000"/>
<text x="250.5" y="3427.7" text-anchor="middle" textLength="194.5" lengthAdjust="spacingAndGlyphs">Settings_NotificationController</text>
<text x="250.5" y="3443.7" text-anchor="middle" textLength="82.2" lengthAdjust="spacingAndGlyphs">\store_action</text>
<rect x="155.6" y="3477.0" width="189.3" height="42.7" fill="#ffffff" stroke="#000"/>
<text x="250.2" y="3494.4" text-anchor="middle" textLength="167.5" lengthAdjust="spacingAndGlyphs">Settings_PrivacyController</text>
<text x="250.2" y="3510.4" text-anchor="middle" textLength="117.9" lengthAdjust="spacingAndGlyphs">\homepage_action</text>
<rect x="130.8" y="3543.8" width="239.5" height="42.7" fill="#ffffff" stroke="#000"/>
<text x="250.6" y="3561.2" text-anchor="middle" textLength="215.5" lengthAdjust="spacingAndGlyphs">Settings_StatusgruppenController</text>
<text x="250.6" y="3577.2" text-anchor="middle" textLength="82.2" lengthAdjust="spacingAndGlyphs">\store_action</text>
<rect x="154.0" y="3610.3" width="192.5" height="42.7" fill="#ffffff" stroke="#000"/>
<text x="250.2" y="3627.7" text-anchor="middle" textLength="168.7" lengthAdjust="spacingAndGlyphs">Settings_StudiesController</text>
<text x="250.2" y="3643.7" text-anchor="middle" textLength="103.3" lengthAdjust="spacingAndGlyphs">\store_sg_action</text>
<rect x="167.5" y="3677.0" width="166.1" height="42.7" fill="#ffffff" stroke="#000"/>
<text x="250.6" y="3694.4" text-anchor="middle" textLength="143.1" lengthAdjust="spacingAndGlyphs">StartController\update</text>
<text x="250.6" y="3710.4" text-anchor="middle" textLength="103.5" lengthAdjust="spacingAndGlyphs">_defaults_action</text>
<rect x="161.0" y="3743.8" width="179.1" height="42.7" fill="#ffffff" stroke="#000"/>
<text x="250.6" y="3761.2" text-anchor="middle" textLength="159.4" lengthAdjust="spacingAndGlyphs">Userfilter_FilterController</text>
<text x="250.6" y="3777.2" text-anchor="middle" textLength="73.9" lengthAdjust="spacingAndGlyphs">\add_action</text>
<rect x="169.6" y="3810.6" width="161.8" height="42.7" fill="#ffffff" stroke="#000"/>
<text x="250.5" y="3828.0" text-anchor="middle" textLength="140.7" lengthAdjust="spacingAndGlyphs">VoteController\display</text>
<text x="250.5" y="3844.0" text-anchor="middle" textLength="45.6" lengthAdjust="spacingAndGlyphs">_action</text>
<rect x="156.7" y="3877.2" width="187.7" height="27.0" fill="#ffffff" stroke="#000"/>
<text x="250.5" y="3894.8" text-anchor="middle" textLength="167.7" lengthAdjust="spacingAndGlyphs">VoteController\showResult</text>
<rect x="141.0" y="3927.4" width="219.6" height="27.0" fill="#ffffff" stroke="#000"/>
<text x="250.8" y="3945.0" text-anchor="middle" textLength="195.6" lengthAdjust="spacingAndGlyphs">Calendar\updateBindSeminare</text>
<rect x="199.3" y="3978.3" width="101.9" height="27.0" fill="#ffffff" stroke="#000"/>
<text x="250.2" y="3995.9" text-anchor="middle" textLength="79.2" lengthAdjust="spacingAndGlyphs">quotedArray</text>
<rect x="214.4" y="4029.0" width="71.7" height="27.0" fill="#ffffff" stroke="#ff0000"/>
<text x="250.2" y="4046.6" text-anchor="middle" textLength="51.0" lengthAdjust="spacingAndGlyphs">intArray</text>
<rect x="207.9" y="4079.3" width="84.7" height="27.0" fill="#ffffff" stroke="#000"/>
<text x="250.2" y="4096.9" text-anchor="middle" textLength="63.0" lengthAdjust="spacingAndGlyphs">floatArray</text>
<rect x="163.1" y="4130.0" width="175.3" height="27.0" fill="#ffffff" stroke="#000"/>
<text x="250.8" y="4147.6" text-anchor="middle" textLength="149.9" lengthAdjust="spacingAndGlyphs">StudipForm\__construct</text>
<rect x="150.7" y="4180.6" width="199.6" height="42.7" fill="#ffffff" stroke="#000"/>
<text x="250.5" y="4198.0" text-anchor="middle" textLength="178.8" lengthAdjust="spacingAndGlyphs">StudipRangeTreeViewAdmin</text>
<text x="250.5" y="4214.0" text-anchor="middle" textLength="167.4" lengthAdjust="spacingAndGlyphs">\execCommandUpdateCat</text>
<rect x="141.0" y="4248.0" width="219.0" height="27.0" fill="#ffffff" stroke="#ff0000"/>
<text x="250.5" y="4265.6" text-anchor="middle" textLength="197.0" lengthAdjust="spacingAndGlyphs">UpdateInformation\getRequest</text>
<rect x="190.1" y="4298.2" width="120.3" height="27.0" fill="#ffffff" stroke="#ff0000"/>
<text x="250.2" y="4315.8" text-anchor="middle" textLength="100.5" lengthAdjust="spacingAndGlyphs">display_file_line</text>
<rect x="135.1" y="4348.9" width="230.3" height="42.7" fill="#ffffff" stroke="#000"/>
<text x="146.6" y="4366.3" textLength="148.8" lengthAdjust="spacingAndGlyphs">EvaluationTreeEditView</text>
<text x="146.6" y="4382.3" textLength="205.0" lengthAdjust="spacingAndGlyphs">\execCommandDeleteQuestions</text>
<rect x="160.5" y="4415.9" width="179.5" height="42.7" fill="#ffffff" stroke="#ff0000"/>
<text x="250.2" y="4433.3" text-anchor="middle" textLength="157.3" lengthAdjust="spacingAndGlyphs">EvaluationTreeShowUser</text>
<text x="250.2" y="4449.3" text-anchor="middle" textLength="133.0" lengthAdjust="spacingAndGlyphs">\getQuestionContent</text>
<rect x="220.3" y="4482.7" width="60.2" height="27.0" fill="#ffffff" stroke="#000"/>
<text x="250.4" y="4500.3" text-anchor="middle" class="m" textLength="36.6" lengthAdjust="spacingAndGlyphs">save1</text>
<rect x="156.7" y="4533.1" width="187.7" height="27.0" fill="#ffffff" stroke="#000"/>
<text x="250.5" y="4550.7" text-anchor="middle" textLength="163.3" lengthAdjust="spacingAndGlyphs">raumzeit_checkboxAction</text>
<rect x="173.4" y="4583.8" width="153.7" height="27.0" fill="#ffffff" stroke="#000"/>
<text x="250.2" y="4601.4" text-anchor="middle" textLength="130.4" lengthAdjust="spacingAndGlyphs">raumzeit_bookRoom</text>
<rect x="151.3" y="4634.5" width="198.5" height="27.0" fill="#ffffff" stroke="#000"/>
<text x="250.6" y="4652.1" text-anchor="middle" textLength="173.2" lengthAdjust="spacingAndGlyphs">raumzeit_doAddSingleDate</text>
<rect x="173.9" y="4685.2" width="152.7" height="27.0" fill="#ffffff" stroke="#000"/>
<text x="250.2" y="4702.8" text-anchor="middle" textLength="130.0" lengthAdjust="spacingAndGlyphs">raumzeit_bulkAction</text>
<rect x="174.5" y="4735.9" width="151.5" height="27.0" fill="#ffffff" stroke="#000"/>
<text x="250.2" y="4753.5" text-anchor="middle" textLength="126.0" lengthAdjust="spacingAndGlyphs">themen_autoAssign</text>
<rect x="152.4" y="4786.6" width="195.8" height="27.0" fill="#ffffff" stroke="#000"/>
<text x="250.3" y="4804.2" text-anchor="middle" textLength="170.7" lengthAdjust="spacingAndGlyphs">themen_chronoAutoAssign</text>
<rect x="160.5" y="4837.3" width="179.5" height="27.0" fill="#ffffff" stroke="#000"/>
<text x="250.2" y="4854.9" text-anchor="middle" textLength="156.0" lengthAdjust="spacingAndGlyphs">themen_checkboxAction</text>
<rect x="181.6" y="4938.4" width="138.1" height="27.0" fill="#ffffff" stroke="#000"/>
<text x="250.6" y="4956.0" text-anchor="middle" textLength="113.1" lengthAdjust="spacingAndGlyphs">createFormFooter</text>
<rect x="171.9" y="4989.0" width="157.5" height="27.0" fill="#ffffff" stroke="#000"/>
<text x="250.6" y="5006.6" text-anchor="middle" textLength="134.0" lengthAdjust="spacingAndGlyphs">createSuccessReport</text>
<rect x="436.4" y="1566.6" width="199.2" height="42.7" fill="#ffffff" stroke="#000"/>
<text x="536.0" y="1584.0" text-anchor="middle" textLength="176.1" lengthAdjust="spacingAndGlyphs">Course_BasicdataController</text>
<text x="536.0" y="1600.0" text-anchor="middle" textLength="69.4" lengthAdjust="spacingAndGlyphs">\set_action</text>
<rect x="430.5" y="1633.2" width="211.1" height="42.7" fill="#ffffff" stroke="#000"/>
<text x="536.0" y="1650.6" text-anchor="middle" textLength="187.4" lengthAdjust="spacingAndGlyphs">Course_StudygroupController</text>
<text x="536.0" y="1666.6" text-anchor="middle" textLength="90.4" lengthAdjust="spacingAndGlyphs">\create_action</text>
<rect x="430.5" y="1699.9" width="211.1" height="42.7" fill="#ffffff" stroke="#000"/>
<text x="536.0" y="1717.3" text-anchor="middle" textLength="187.4" lengthAdjust="spacingAndGlyphs">Course_StudygroupController</text>
<text x="536.0" y="1733.3" text-anchor="middle" textLength="94.8" lengthAdjust="spacingAndGlyphs">\update_action</text>
<rect x="433.1" y="1766.5" width="205.2" height="42.7" fill="#ffffff" stroke="#000"/>
<text x="535.7" y="1783.9" text-anchor="middle" textLength="183.0" lengthAdjust="spacingAndGlyphs">Resources_HelpersController</text>
<text x="535.7" y="1799.9" text-anchor="middle" textLength="154.1" lengthAdjust="spacingAndGlyphs">\bookable_rooms_action</text>
<rect x="443.1" y="1832.9" width="185.2" height="42.7" fill="#ffffff" stroke="#000"/>
<text x="535.7" y="1850.3" text-anchor="middle" textLength="163.1" lengthAdjust="spacingAndGlyphs">Document_FilesController</text>
<text x="535.7" y="1866.3" text-anchor="middle" textLength="77.0" lengthAdjust="spacingAndGlyphs">\bulk_action</text>
<rect x="435.1" y="1899.6" width="201.2" height="42.7" fill="#ffffff" stroke="#000"/>
<text x="535.7" y="1917.0" text-anchor="middle" textLength="179.9" lengthAdjust="spacingAndGlyphs">MultipersonsearchController</text>
<text x="535.7" y="1933.0" text-anchor="middle" textLength="118.5" lengthAdjust="spacingAndGlyphs">\no_js_form_action</text>
<rect x="423.2" y="1966.2" width="225.1" height="42.7" fill="#ffffff" stroke="#000"/>
<text x="535.8" y="1983.6" text-anchor="middle" textLength="201.3" lengthAdjust="spacingAndGlyphs">Admin_Cronjobs_LogsController</text>
<text x="535.8" y="1999.6" text-anchor="middle" textLength="79.6" lengthAdjust="spacingAndGlyphs">\filter_action</text>
<rect x="423.2" y="2032.9" width="225.1" height="42.7" fill="#ffffff" stroke="#000"/>
<text x="535.8" y="2050.3" text-anchor="middle" textLength="201.3" lengthAdjust="spacingAndGlyphs">Admin_Cronjobs_LogsController</text>
<text x="535.8" y="2066.3" text-anchor="middle" textLength="77.0" lengthAdjust="spacingAndGlyphs">\bulk_action</text>
<rect x="436.4" y="2099.8" width="199.2" height="42.7" fill="#ffffff" stroke="#000"/>
<text x="536.0" y="2117.2" text-anchor="middle" textLength="174.4" lengthAdjust="spacingAndGlyphs">Admin_Cronjobs_Schedules</text>
<text x="536.0" y="2133.2" text-anchor="middle" textLength="142.3" lengthAdjust="spacingAndGlyphs">Controller\filter_action</text>
<rect x="436.4" y="2166.4" width="199.2" height="42.7" fill="#ffffff" stroke="#000"/>
<text x="536.0" y="2183.8" text-anchor="middle" textLength="174.4" lengthAdjust="spacingAndGlyphs">Admin_Cronjobs_Schedules</text>
<text x="536.0" y="2199.8" text-anchor="middle" textLength="139.7" lengthAdjust="spacingAndGlyphs">Controller\bulk_action</text>
<rect x="421.2" y="2233.0" width="229.7" height="42.7" fill="#ffffff" stroke="#000"/>
<text x="536.0" y="2250.4" text-anchor="middle" textLength="206.1" lengthAdjust="spacingAndGlyphs">Admin_Cronjobs_TasksController</text>
<text x="536.0" y="2266.4" text-anchor="middle" textLength="77.0" lengthAdjust="spacingAndGlyphs">\bulk_action</text>
<rect x="447.7" y="2299.4" width="176.7" height="59.5" fill="#ffffff" stroke="#000"/>
<text x="536.0" y="2316.8" text-anchor="middle" textLength="148.8" lengthAdjust="spacingAndGlyphs">Admin_PluginController</text>
<text x="536.0" y="2332.8" text-anchor="middle" textLength="154.9" lengthAdjust="spacingAndGlyphs">\save_default_activation</text>
<text x="536.0" y="2348.8" text-anchor="middle" textLength="45.6" lengthAdjust="spacingAndGlyphs">_action</text>
<rect x="443.1" y="2382.2" width="185.2" height="42.7" fill="#ffffff" stroke="#000"/>
<text x="535.7" y="2399.6" text-anchor="middle" textLength="163.1" lengthAdjust="spacingAndGlyphs">Document_FilesController</text>
<text x="535.7" y="2415.6" text-anchor="middle" textLength="85.5" lengthAdjust="spacingAndGlyphs">\move_action</text>
<rect x="443.1" y="2448.9" width="185.2" height="42.7" fill="#ffffff" stroke="#000"/>
<text x="535.7" y="2466.3" text-anchor="middle" textLength="163.1" lengthAdjust="spacingAndGlyphs">Document_FilesController</text>
<text x="535.7" y="2482.3" text-anchor="middle" textLength="80.4" lengthAdjust="spacingAndGlyphs">\copy_action</text>
<rect x="418.5" y="2515.6" width="234.4" height="42.7" fill="#ffffff" stroke="#ff0000"/>
<text x="430.0" y="2533.0" textLength="148.8" lengthAdjust="spacingAndGlyphs">EvaluationTreeEditView</text>
<text x="430.0" y="2549.0" textLength="209.3" lengthAdjust="spacingAndGlyphs">\execCommandUpdateQuestions</text>
<rect x="420.4" y="2805.2" width="231.1" height="42.7" fill="#ffffff" stroke="#000"/>
<text x="536.0" y="2822.6" text-anchor="middle" textLength="208.3" lengthAdjust="spacingAndGlyphs">Course_RoomRequestsController</text>
<text x="536.0" y="2838.6" text-anchor="middle" textLength="74.4" lengthAdjust="spacingAndGlyphs">\edit_action</text>
<rect x="701.3" y="2775.9" width="231.8" height="42.7" fill="#ffffff" stroke="#000"/>
<text x="817.2" y="2793.3" text-anchor="middle" textLength="208.3" lengthAdjust="spacingAndGlyphs">Course_RoomRequestsController</text>
<text x="817.2" y="2809.3" text-anchor="middle" textLength="119.7" lengthAdjust="spacingAndGlyphs">\edit_dialog_action</text>
<rect x="463.4" y="3042.0" width="144.8" height="42.7" fill="#ffffff" stroke="#000"/>
<text x="535.8" y="3059.4" text-anchor="middle" textLength="123.3" lengthAdjust="spacingAndGlyphs">JsupdaterController</text>
<text x="535.8" y="3075.4" text-anchor="middle" textLength="70.9" lengthAdjust="spacingAndGlyphs">\get_action</text>
<rect x="461.4" y="3129.7" width="148.8" height="42.7" fill="#ffffff" stroke="#000"/>
<text x="535.8" y="3147.1" text-anchor="middle" textLength="125.2" lengthAdjust="spacingAndGlyphs">MessagesController</text>
<text x="535.8" y="3163.1" text-anchor="middle" textLength="82.0" lengthAdjust="spacingAndGlyphs">\write_action</text>
<rect x="445.4" y="3886.8" width="181.2" height="27.0" fill="#ffffff" stroke="#000"/>
<text x="536.0" y="3904.4" text-anchor="middle" textLength="158.1" lengthAdjust="spacingAndGlyphs">Statusgruppe\checkData</text>
<rect x="452.9" y="3937.0" width="166.1" height="42.7" fill="#ffffff" stroke="#000"/>
<text x="536.0" y="3954.4" text-anchor="middle" textLength="139.6" lengthAdjust="spacingAndGlyphs">StudipSemTreeSearch</text>
<text x="536.0" y="3970.4" text-anchor="middle" textLength="143.0" lengthAdjust="spacingAndGlyphs">\insertSelectedRanges</text>
<rect x="441.0" y="4003.8" width="189.4" height="42.7" fill="#ffffff" stroke="#000"/>
<text x="535.7" y="4021.2" text-anchor="middle" textLength="166.7" lengthAdjust="spacingAndGlyphs">StudipSemTreeViewAdmin</text>
<text x="535.7" y="4037.2" text-anchor="middle" textLength="159.3" lengthAdjust="spacingAndGlyphs">\execCommandMarkSem</text>
<rect x="454.0" y="4070.1" width="163.4" height="27.0" fill="#ffffff" stroke="#000"/>
<text x="535.7" y="4087.7" text-anchor="middle" textLength="141.4" lengthAdjust="spacingAndGlyphs">checkMandatoryItems</text>
<rect x="487.6" y="4938.6" width="96.7" height="27.0" fill="#ffffff" stroke="#000"/>
<text x="536.0" y="4956.2" text-anchor="middle" textLength="74.1" lengthAdjust="spacingAndGlyphs">show_votes</text>
<rect x="5.5" y="2617.3" width="77.1" height="27.0" fill="#bfbfbf" stroke="#000"/>
<text x="44.0" y="2634.9" text-anchor="middle" textLength="55.3" lengthAdjust="spacingAndGlyphs">getArray</text>
</g>
<g fill="#191970" stroke="#191970" stroke-width="1">
<polygon points="45.0,2617.3 40.0,2602.8 50.0,2602.8"/>
<polygon points="45.0,2617.3 40.1,2602.8 50.1,2602.8"/>
<polygon points="45.0,2617.3 40.1,2602.8 50.1,2602.8"/>
<polygon points="45.0,2617.3 40.1,2602.8 50.1,2602.8"/>
<polygon points="45.0,2617.3 40.1,2602.8 50.1,2602.8"/>
<polygon points="45.0,2617.3 40.1,2602.8 50.1,2602.8"/>
<polygon points="45.0,2617.3 40.1,2602.8 50.1,2602.8"/>
<polygon points="45.0,2617.3 40.1,2602.8 50.1,2602.8"/>
<polygon points="45.0,2617.3 40.1,2602.8 50.1,2602.8"/>
<polygon points="45.0,2617.3 40.1,2602.8 50.1,2602.8"/>
<polygon points="45.0,2617.3 40.1,2602.8 50.1,2602.8"/>
<polygon points="45.0,2617.3 40.1,2602.8 50.1,2602.8"/>
<polygon points="45.0,2617.3 40.2,2602.7 50.2,2602.9"/>
<polygon points="45.0,2617.3 40.2,2602.7 50.2,2602.9"/>
<polygon points="45.0,2617.3 40.2,2602.7 50.2,2602.9"/>
<polygon points="45.0,2617.3 40.2,2602.7 50.2,2602.9"/>
<polygon points="45.0,2617.3 40.2,2602.7 50.2,2602.9"/>
<polygon points="45.0,2617.3 40.3,2602.7 50.3,2602.9"/>
<polygon points="45.0,2617.3 40.3,2602.7 50.3,2602.9"/>
<polygon points="45.0,2617.3 40.3,2602.7 50.3,2602.9"/>
<polygon points="45.0,2617.3 40.4,2602.7 50.4,2602.9"/>
<polygon points="45.0,2617.3 40.4,2602.7 50.4,2602.9"/>
<polygon points="45.0,2617.3 40.5,2602.6 50.5,2603.0"/>
<polygon points="45.0,2617.3 40.5,2602.6 50.5,2603.0"/>
<polygon points="45.0,2617.3 40.6,2602.6 50.6,2603.0"/>
<polygon points="45.0,2617.3 40.7,2602.6 50.7,2603.0"/>
<polygon points="45.0,2617.3 41.5,2602.4 51.5,2603.4"/>
<polygon points="45.0,2617.3 41.6,2602.3 51.6,2603.4"/>
<polygon points="45.0,2617.3 41.5,2602.4 51.4,2603.4"/>
<polygon points="45.0,2617.3 41.4,2602.4 51.4,2603.3"/>
<polygon points="45.0,2617.3 41.7,2602.3 51.6,2603.4"/>
<polygon points="45.0,2617.3 42.2,2602.2 52.1,2603.7"/>
<polygon points="45.0,2617.3 43.0,2602.1 52.8,2604.1"/>
<polygon points="58.0,2617.3 60.9,2602.2 69.6,2607.3"/>
<polygon points="58.0,2644.3 72.7,2648.6 67.0,2656.7"/>
<polygon points="45.0,2644.3 52.4,2657.7 42.6,2659.4"/>
<polygon points="45.0,2644.3 52.0,2657.9 42.1,2659.4"/>
<polygon points="45.0,2644.3 51.7,2658.1 41.8,2659.3"/>
<polygon points="45.0,2644.3 51.4,2658.2 41.5,2659.2"/>
<polygon points="45.0,2644.3 51.5,2658.2 41.5,2659.2"/>
<polygon points="45.0,2644.3 51.5,2658.2 41.6,2659.2"/>
<polygon points="45.0,2644.3 51.3,2658.3 41.4,2659.2"/>
<polygon points="45.0,2644.3 51.1,2658.4 41.2,2659.1"/>
<polygon points="45.0,2644.3 51.0,2658.4 41.0,2659.1"/>
<polygon points="45.0,2644.3 50.9,2658.5 40.9,2659.1"/>
<polygon points="45.0,2644.3 50.7,2658.5 40.8,2659.0"/>
<polygon points="45.0,2644.3 50.7,2658.6 40.7,2659.0"/>
<polygon points="45.0,2644.3 50.6,2658.6 40.6,2659.0"/>
<polygon points="45.0,2644.3 50.5,2658.6 40.5,2659.0"/>
<polygon points="45.0,2644.3 50.4,2658.6 40.5,2658.9"/>
<polygon points="45.0,2644.3 50.4,2658.7 40.4,2658.9"/>
<polygon points="45.0,2644.3 50.4,2658.7 40.4,2658.9"/>
<polygon points="45.0,2644.3 50.3,2658.7 40.3,2658.9"/>
<polygon points="45.0,2644.3 50.3,2658.7 40.3,2658.9"/>
<polygon points="45.0,2644.3 50.3,2658.7 40.3,2658.9"/>
<polygon points="45.0,2644.3 50.3,2658.7 40.3,2658.9"/>
<polygon points="45.0,2644.3 50.2,2658.7 40.2,2658.9"/>
<polygon points="45.0,2644.3 50.2,2658.7 40.2,2658.9"/>
<polygon points="45.0,2644.3 50.2,2658.7 40.2,2658.9"/>
<polygon points="45.0,2644.3 50.2,2658.7 40.2,2658.9"/>
<polygon points="45.0,2644.3 50.2,2658.7 40.2,2658.9"/>
<polygon points="45.0,2644.3 50.1,2658.7 40.1,2658.9"/>
<polygon points="45.0,2644.3 50.1,2658.8 40.1,2658.8"/>
<polygon points="45.0,2644.3 50.1,2658.8 40.1,2658.8"/>
<polygon points="45.0,2644.3 50.1,2658.8 40.1,2658.8"/>
<polygon points="45.0,2644.3 50.1,2658.8 40.1,2658.8"/>
<polygon points="45.0,2644.3 50.1,2658.8 40.1,2658.8"/>
<polygon points="45.0,2644.3 50.1,2658.8 40.1,2658.8"/>
<polygon points="45.0,2644.3 50.1,2658.8 40.1,2658.8"/>
<polygon points="45.0,2644.3 50.1,2658.8 40.1,2658.8"/>
<polygon points="45.0,2644.3 50.1,2658.8 40.1,2658.8"/>
<polygon points="45.0,2644.3 50.1,2658.8 40.1,2658.8"/>
<polygon points="82.6,2622.5 96.4,2615.7 97.6,2625.7"/>
<polygon points="82.6,2638.5 97.6,2635.4 96.3,2645.3"/>
<polygon points="45.0,2617.3 40.3,2602.7 50.3,2602.9"/>
<polygon points="45.0,2617.3 40.3,2602.7 50.3,2602.9"/>
<polygon points="45.0,2617.3 40.4,2602.7 50.4,2602.9"/>
<polygon points="45.0,2617.3 40.4,2602.7 50.4,2602.9"/>
<polygon points="46.0,2617.3 41.4,2602.7 51.4,2603.0"/>
<polygon points="47.0,2617.3 42.6,2602.6 52.5,2603.0"/>
<polygon points="263.3,1940.5 267.3,1925.7 275.6,1931.3"/>
<polygon points="270.0,1940.5 276.1,1926.4 283.5,1933.2"/>
<polygon points="280.0,1940.5 290.5,1929.3 295.2,1938.2"/>
<polygon points="298.8,1948.0 311.1,1938.9 314.1,1948.4"/>
<polygon points="298.8,1950.0 311.1,1940.8 314.1,1950.3"/>
<polygon points="298.8,1951.0 312.7,1944.5 313.8,1954.4"/>
<polygon points="298.8,1955.0 314.1,1953.5 311.8,1963.2"/>
<polygon points="298.8,1957.0 314.1,1956.9 310.9,1966.4"/>
<polygon points="298.8,1958.0 314.1,1958.2 310.8,1967.6"/>
<polygon points="298.8,1959.0 314.1,1959.8 310.4,1969.1"/>
<polygon points="298.8,1960.0 314.1,1961.1 310.2,1970.3"/>
<polygon points="298.8,1961.0 314.1,1961.7 310.4,1971.0"/>
<polygon points="298.8,1961.5 314.1,1961.5 310.8,1971.0"/>
<polygon points="298.8,1962.0 314.1,1961.9 310.9,1971.4"/>
<polygon points="298.8,1962.0 314.1,1962.1 310.8,1971.6"/>
<polygon points="366.5,2791.8 380.9,2786.5 381.1,2796.5"/>
<polygon points="366.5,2811.0 381.6,2808.0 380.2,2818.0"/>
<polygon points="651.5,2814.5 665.2,2807.7 666.5,2817.6"/>
<polygon points="322.8,3063.5 337.3,3058.5 337.3,3068.5"/>
<polygon points="311.5,3173.0 325.4,3166.5 326.4,3176.4"/>
<polygon points="301.2,3986.8 314.6,3979.4 316.3,3989.2"/>
<polygon points="301.2,3986.8 315.0,3980.1 316.2,3990.0"/>
<polygon points="301.2,3996.9 316.2,3993.7 315.0,4003.6"/>
<polygon points="301.2,3996.9 316.3,3994.0 314.8,4003.9"/>
<polygon points="319.7,4952.0 334.2,4947.0 334.2,4957.0"/>
<polygon points="329.4,4996.0 342.3,4987.7 344.7,4997.4"/>
<polygon points="46.0,2644.3 51.6,2658.6 41.6,2659.0"/>
<polygon points="46.0,2644.3 51.0,2658.8 41.0,2658.8"/>
</g>
</svg></body></html>
